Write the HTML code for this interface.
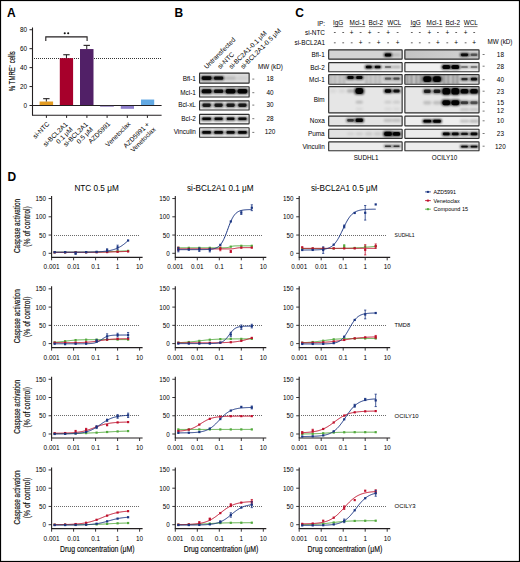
<!DOCTYPE html>
<html><head><meta charset="utf-8"><style>
html,body{margin:0;padding:0;background:#fff;}
svg{display:block;}
text{font-family:"Liberation Sans",sans-serif;}
</style></head><body>
<svg width="520" height="562" viewBox="0 0 520 562">
<defs>
<filter id="b1" x="-50%" y="-100%" width="200%" height="300%"><feGaussianBlur stdDeviation="0.8"/></filter>
<filter id="b3" x="-50%" y="-100%" width="200%" height="300%"><feGaussianBlur stdDeviation="0.45"/></filter>
<filter id="b4" x="-100%" y="-20%" width="300%" height="140%"><feGaussianBlur stdDeviation="0.9 0.3"/></filter>
<linearGradient id="gR1" x1="0" y1="0" x2="1" y2="0"><stop offset="0" stop-color="#c2c2c2"/><stop offset="0.6" stop-color="#cdcdcd"/><stop offset="1" stop-color="#d6d6d6"/></linearGradient>
<filter id="b2" x="-50%" y="-20%" width="200%" height="140%"><feGaussianBlur stdDeviation="1.2"/></filter>
</defs>
<rect x="0" y="0" width="520" height="562" fill="#fff"/>
<text x="7.00" y="16.80" font-size="12" text-anchor="start" font-weight="bold" fill="#000" >A</text>
<text x="174.60" y="16.60" font-size="12" text-anchor="start" font-weight="bold" fill="#000" >B</text>
<text x="295.30" y="16.70" font-size="12" text-anchor="start" font-weight="bold" fill="#000" >C</text>
<text x="7.50" y="180.70" font-size="12" text-anchor="start" font-weight="bold" fill="#000" >D</text>
<line x1="32.50" y1="27.50" x2="32.50" y2="115.30" stroke="#231f20" stroke-width="1.1" />
<line x1="32.00" y1="115.30" x2="161.60" y2="115.30" stroke="#231f20" stroke-width="1.1" />
<line x1="29.50" y1="105.50" x2="32.50" y2="105.50" stroke="#231f20" stroke-width="1" />
<text x="27.00" y="108.10" font-size="6.4" text-anchor="end" >0</text>
<line x1="29.50" y1="86.56" x2="32.50" y2="86.56" stroke="#231f20" stroke-width="1" />
<text x="27.00" y="89.16" font-size="6.4" text-anchor="end" >20</text>
<line x1="29.50" y1="67.62" x2="32.50" y2="67.62" stroke="#231f20" stroke-width="1" />
<text x="27.00" y="70.22" font-size="6.4" text-anchor="end" >40</text>
<line x1="29.50" y1="48.68" x2="32.50" y2="48.68" stroke="#231f20" stroke-width="1" />
<text x="27.00" y="51.28" font-size="6.4" text-anchor="end" >60</text>
<line x1="29.50" y1="29.74" x2="32.50" y2="29.74" stroke="#231f20" stroke-width="1" />
<text x="27.00" y="32.34" font-size="6.4" text-anchor="end" >80</text>
<text x="15.10" y="71.20" font-size="8.6" text-anchor="middle" textLength="40" lengthAdjust="spacingAndGlyphs" transform="rotate(-90 15.10 71.20)" stroke="#231f20" stroke-width="0.15">% TMRE⁻ cells</text>
<line x1="34.00" y1="58.50" x2="162.00" y2="58.50" stroke="#333" stroke-width="1" stroke-dasharray="1 1"/>
<rect x="39.60" y="101.52" width="13.50" height="3.98" fill="#E39B22" />
<line x1="46.35" y1="101.52" x2="46.35" y2="98.68" stroke="#231f20" stroke-width="1" />
<line x1="43.15" y1="98.68" x2="49.55" y2="98.68" stroke="#231f20" stroke-width="1.1" />
<rect x="59.80" y="58.15" width="13.30" height="47.35" fill="#A7002B" />
<line x1="66.45" y1="58.15" x2="66.45" y2="54.74" stroke="#231f20" stroke-width="1" />
<line x1="63.25" y1="54.74" x2="69.65" y2="54.74" stroke="#231f20" stroke-width="1.1" />
<rect x="80.00" y="49.06" width="13.50" height="56.44" fill="#512067" />
<line x1="86.75" y1="49.06" x2="86.75" y2="45.37" stroke="#231f20" stroke-width="1" />
<line x1="83.55" y1="45.37" x2="89.95" y2="45.37" stroke="#231f20" stroke-width="1.1" />
<rect x="100.10" y="105.00" width="13.70" height="1.10" fill="#9C8AC6" />
<rect x="120.80" y="105.50" width="13.20" height="3.31" fill="#8D7DCB" />
<rect x="141.00" y="99.53" width="13.20" height="5.97" fill="#62A9E3" />
<line x1="32.50" y1="105.50" x2="161.60" y2="105.50" stroke="#231f20" stroke-width="1" />
<rect x="100.10" y="105.90" width="13.70" height="0.90" fill="#9C8AC6" />
<line x1="46.40" y1="115.30" x2="46.40" y2="117.90" stroke="#231f20" stroke-width="1" />
<line x1="66.60" y1="115.30" x2="66.60" y2="117.90" stroke="#231f20" stroke-width="1" />
<line x1="86.90" y1="115.30" x2="86.90" y2="117.90" stroke="#231f20" stroke-width="1" />
<line x1="107.10" y1="115.30" x2="107.10" y2="117.90" stroke="#231f20" stroke-width="1" />
<line x1="127.30" y1="115.30" x2="127.30" y2="117.90" stroke="#231f20" stroke-width="1" />
<line x1="147.40" y1="115.30" x2="147.40" y2="117.90" stroke="#231f20" stroke-width="1" />
<path d="M45.8 40.9 V36.9 H87.1 V40.9" fill="none" stroke="#231f20" stroke-width="1.1"/>
<circle cx="64.75" cy="33.3" r="1.05" fill="#111"/><circle cx="68.2" cy="33.3" r="1.05" fill="#111"/>
<text x="50.00" y="124.40" font-size="6.6" text-anchor="end" transform="rotate(-45 50.00 124.40)" >si-NTC</text>
<text x="68.00" y="124.80" font-size="6.6" text-anchor="end" transform="rotate(-45 68.00 124.80)" >si-BCL2A1</text>
<text x="73.20" y="129.80" font-size="6.6" text-anchor="end" transform="rotate(-45 73.20 129.80)" >0.1 μM</text>
<text x="88.30" y="124.80" font-size="6.6" text-anchor="end" transform="rotate(-45 88.30 124.80)" >si-BCL2A1</text>
<text x="93.50" y="129.80" font-size="6.6" text-anchor="end" transform="rotate(-45 93.50 129.80)" >0.5 μM</text>
<text x="110.70" y="124.40" font-size="6.6" text-anchor="end" transform="rotate(-45 110.70 124.40)" >AZD5991</text>
<text x="130.90" y="124.40" font-size="6.6" text-anchor="end" transform="rotate(-45 130.90 124.40)" >Venetoclax</text>
<text x="149.80" y="124.80" font-size="6.6" text-anchor="end" transform="rotate(-45 149.80 124.80)" >AZD5991 +</text>
<text x="156.00" y="129.80" font-size="6.6" text-anchor="end" transform="rotate(-45 156.00 129.80)" >Venetoclax</text>
<rect x="199.00" y="72.50" width="50.70" height="11.20" fill="#dcdcdc" stroke="none"/>
<rect x="200.60" y="75.70" width="12.00" height="4.80" rx="1.92" fill="#000" fill-opacity="0.76" filter="url(#b1)"/>
<rect x="201.80" y="76.30" width="9.60" height="3.60" rx="1.44" fill="#000" fill-opacity="0.90" filter="url(#b3)"/>
<rect x="212.85" y="75.90" width="11.50" height="4.40" rx="1.76" fill="#000" fill-opacity="0.72" filter="url(#b1)"/>
<rect x="214.05" y="76.50" width="9.10" height="3.20" rx="1.28" fill="#000" fill-opacity="0.85" filter="url(#b3)"/>
<rect x="225.10" y="76.20" width="11.00" height="3.80" rx="1.52" fill="#000" fill-opacity="0.14" filter="url(#b1)"/>
<rect x="236.90" y="76.20" width="11.00" height="3.80" rx="1.52" fill="#000" fill-opacity="0.06" filter="url(#b1)"/>
<rect x="199.57" y="73.08" width="49.55" height="10.05" fill="none" stroke="#303030" stroke-width="1.15" rx="0.6"/>
<rect x="199.00" y="86.20" width="50.70" height="11.40" fill="#e6e6e6" stroke="none"/>
<rect x="200.60" y="88.70" width="12.00" height="5.20" rx="2.08" fill="#000" fill-opacity="0.76" filter="url(#b1)"/>
<rect x="201.80" y="89.30" width="9.60" height="4.00" rx="1.60" fill="#000" fill-opacity="0.90" filter="url(#b3)"/>
<rect x="212.85" y="89.00" width="11.50" height="4.60" rx="1.84" fill="#000" fill-opacity="0.70" filter="url(#b1)"/>
<rect x="214.05" y="89.60" width="9.10" height="3.40" rx="1.36" fill="#000" fill-opacity="0.84" filter="url(#b3)"/>
<rect x="224.60" y="88.50" width="12.00" height="5.60" rx="2.24" fill="#000" fill-opacity="0.80" filter="url(#b1)"/>
<rect x="225.80" y="89.10" width="9.60" height="4.40" rx="1.76" fill="#000" fill-opacity="0.95" filter="url(#b3)"/>
<rect x="236.40" y="88.50" width="12.00" height="5.60" rx="2.24" fill="#000" fill-opacity="0.80" filter="url(#b1)"/>
<rect x="237.60" y="89.10" width="9.60" height="4.40" rx="1.76" fill="#000" fill-opacity="0.95" filter="url(#b3)"/>
<rect x="199.57" y="86.78" width="49.55" height="10.25" fill="none" stroke="#303030" stroke-width="1.15" rx="0.6"/>
<rect x="199.00" y="100.30" width="50.70" height="10.30" fill="#ececec" stroke="none"/>
<rect x="201.35" y="102.80" width="10.50" height="4.80" rx="1.92" fill="#000" fill-opacity="0.62" filter="url(#b1)"/>
<rect x="202.55" y="103.40" width="8.10" height="3.60" rx="1.44" fill="#000" fill-opacity="0.74" filter="url(#b3)"/>
<rect x="213.35" y="102.80" width="10.50" height="4.80" rx="1.92" fill="#000" fill-opacity="0.62" filter="url(#b1)"/>
<rect x="214.55" y="103.40" width="8.10" height="3.60" rx="1.44" fill="#000" fill-opacity="0.74" filter="url(#b3)"/>
<rect x="225.35" y="102.80" width="10.50" height="4.80" rx="1.92" fill="#000" fill-opacity="0.62" filter="url(#b1)"/>
<rect x="226.55" y="103.40" width="8.10" height="3.60" rx="1.44" fill="#000" fill-opacity="0.74" filter="url(#b3)"/>
<rect x="237.15" y="102.80" width="10.50" height="4.80" rx="1.92" fill="#000" fill-opacity="0.64" filter="url(#b1)"/>
<rect x="238.35" y="103.40" width="8.10" height="3.60" rx="1.44" fill="#000" fill-opacity="0.76" filter="url(#b3)"/>
<rect x="199.57" y="100.88" width="49.55" height="9.15" fill="none" stroke="#303030" stroke-width="1.15" rx="0.6"/>
<rect x="199.00" y="113.80" width="50.70" height="10.60" fill="#eeeeee" stroke="none"/>
<rect x="201.10" y="116.90" width="11.00" height="3.80" rx="1.52" fill="#000" fill-opacity="0.76" filter="url(#b1)"/>
<rect x="202.30" y="117.50" width="8.60" height="2.60" rx="1.04" fill="#000" fill-opacity="0.90" filter="url(#b3)"/>
<rect x="213.35" y="116.90" width="10.50" height="3.80" rx="1.52" fill="#000" fill-opacity="0.74" filter="url(#b1)"/>
<rect x="214.55" y="117.50" width="8.10" height="2.60" rx="1.04" fill="#000" fill-opacity="0.87" filter="url(#b3)"/>
<rect x="225.60" y="116.90" width="10.00" height="3.80" rx="1.52" fill="#000" fill-opacity="0.72" filter="url(#b1)"/>
<rect x="226.80" y="117.50" width="7.60" height="2.60" rx="1.04" fill="#000" fill-opacity="0.85" filter="url(#b3)"/>
<rect x="237.15" y="116.90" width="10.50" height="3.80" rx="1.52" fill="#000" fill-opacity="0.72" filter="url(#b1)"/>
<rect x="238.35" y="117.50" width="8.10" height="2.60" rx="1.04" fill="#000" fill-opacity="0.85" filter="url(#b3)"/>
<rect x="199.57" y="114.38" width="49.55" height="9.45" fill="none" stroke="#303030" stroke-width="1.15" rx="0.6"/>
<rect x="199.00" y="127.20" width="50.70" height="10.60" fill="#eeeeee" stroke="none"/>
<rect x="201.10" y="130.50" width="11.00" height="3.80" rx="1.52" fill="#000" fill-opacity="0.78" filter="url(#b1)"/>
<rect x="202.30" y="131.10" width="8.60" height="2.60" rx="1.04" fill="#000" fill-opacity="0.92" filter="url(#b3)"/>
<rect x="213.10" y="130.50" width="11.00" height="3.80" rx="1.52" fill="#000" fill-opacity="0.78" filter="url(#b1)"/>
<rect x="214.30" y="131.10" width="8.60" height="2.60" rx="1.04" fill="#000" fill-opacity="0.92" filter="url(#b3)"/>
<rect x="225.35" y="130.50" width="10.50" height="3.80" rx="1.52" fill="#000" fill-opacity="0.74" filter="url(#b1)"/>
<rect x="226.55" y="131.10" width="8.10" height="2.60" rx="1.04" fill="#000" fill-opacity="0.88" filter="url(#b3)"/>
<rect x="236.90" y="130.50" width="11.00" height="3.80" rx="1.52" fill="#000" fill-opacity="0.78" filter="url(#b1)"/>
<rect x="238.10" y="131.10" width="8.60" height="2.60" rx="1.04" fill="#000" fill-opacity="0.92" filter="url(#b3)"/>
<rect x="199.57" y="127.78" width="49.55" height="9.45" fill="none" stroke="#303030" stroke-width="1.15" rx="0.6"/>
<text x="195.90" y="80.60" font-size="6.4" text-anchor="end" >Bfl-1</text>
<text x="195.90" y="94.60" font-size="6.4" text-anchor="end" >Mcl-1</text>
<text x="195.90" y="106.70" font-size="6.4" text-anchor="end" >Bcl-xL</text>
<text x="195.90" y="120.80" font-size="6.4" text-anchor="end" >Bcl-2</text>
<text x="195.90" y="133.70" font-size="6.4" text-anchor="end" >Vinculin</text>
<text x="270.10" y="80.90" font-size="6.4" text-anchor="middle" >18</text>
<line x1="252.30" y1="79.10" x2="254.30" y2="79.10" stroke="#555" stroke-width="0.8" />
<text x="270.10" y="94.50" font-size="6.4" text-anchor="middle" >40</text>
<line x1="252.30" y1="92.70" x2="254.30" y2="92.70" stroke="#555" stroke-width="0.8" />
<text x="270.10" y="106.90" font-size="6.4" text-anchor="middle" >30</text>
<line x1="252.30" y1="105.10" x2="254.30" y2="105.10" stroke="#555" stroke-width="0.8" />
<text x="270.10" y="120.50" font-size="6.4" text-anchor="middle" >28</text>
<line x1="252.30" y1="118.70" x2="254.30" y2="118.70" stroke="#555" stroke-width="0.8" />
<text x="270.10" y="134.20" font-size="6.4" text-anchor="middle" >120</text>
<line x1="252.30" y1="132.40" x2="254.30" y2="132.40" stroke="#555" stroke-width="0.8" />
<text x="258.00" y="69.00" font-size="6.3" text-anchor="start" >MW (kD)</text>
<text x="206.80" y="69.30" font-size="6.6" text-anchor="start" transform="rotate(-45 206.80 69.30)" >Untransfected</text>
<text x="220.20" y="69.30" font-size="6.6" text-anchor="start" transform="rotate(-45 220.20 69.30)" >si-NTC</text>
<text x="231.60" y="69.30" font-size="6.6" text-anchor="start" transform="rotate(-45 231.60 69.30)" >si-BC2A1-0.1 μM</text>
<text x="243.20" y="69.30" font-size="6.6" text-anchor="start" transform="rotate(-45 243.20 69.30)" >si-BCL2A1-0.5 μM</text>
<text x="324.70" y="57.00" font-size="6.4" text-anchor="end" >Bfl-1</text>
<text x="324.70" y="69.60" font-size="6.4" text-anchor="end" >Bcl-2</text>
<text x="324.70" y="82.10" font-size="6.4" text-anchor="end" >Mcl-1</text>
<text x="324.70" y="102.20" font-size="6.4" text-anchor="end" >Bim</text>
<text x="324.70" y="123.00" font-size="6.4" text-anchor="end" >Noxa</text>
<text x="324.70" y="135.80" font-size="6.4" text-anchor="end" >Puma</text>
<text x="324.70" y="149.00" font-size="6.4" text-anchor="end" >Vinculin</text>
<text x="500.40" y="56.80" font-size="6.4" text-anchor="middle" >18</text>
<line x1="482.60" y1="54.50" x2="484.60" y2="54.50" stroke="#555" stroke-width="0.8" />
<text x="500.40" y="68.50" font-size="6.4" text-anchor="middle" >28</text>
<line x1="482.60" y1="66.20" x2="484.60" y2="66.20" stroke="#555" stroke-width="0.8" />
<text x="500.40" y="82.00" font-size="6.4" text-anchor="middle" >40</text>
<line x1="482.60" y1="79.70" x2="484.60" y2="79.70" stroke="#555" stroke-width="0.8" />
<text x="500.40" y="93.50" font-size="6.4" text-anchor="middle" >23</text>
<line x1="482.60" y1="91.20" x2="484.60" y2="91.20" stroke="#555" stroke-width="0.8" />
<text x="500.40" y="104.60" font-size="6.4" text-anchor="middle" >15</text>
<line x1="482.60" y1="102.30" x2="484.60" y2="102.30" stroke="#555" stroke-width="0.8" />
<text x="500.40" y="113.40" font-size="6.4" text-anchor="middle" >12</text>
<line x1="482.60" y1="111.10" x2="484.60" y2="111.10" stroke="#555" stroke-width="0.8" />
<text x="500.40" y="123.10" font-size="6.4" text-anchor="middle" >10</text>
<line x1="482.60" y1="120.80" x2="484.60" y2="120.80" stroke="#555" stroke-width="0.8" />
<text x="500.40" y="135.80" font-size="6.4" text-anchor="middle" >23</text>
<line x1="482.60" y1="133.50" x2="484.60" y2="133.50" stroke="#555" stroke-width="0.8" />
<text x="500.40" y="148.50" font-size="6.4" text-anchor="middle" >120</text>
<line x1="482.60" y1="146.20" x2="484.60" y2="146.20" stroke="#555" stroke-width="0.8" />
<text x="487.60" y="44.00" font-size="6.3" text-anchor="start" >MW (kD)</text>
<text x="325.00" y="25.60" font-size="6.4" text-anchor="end" >IP:</text>
<text x="325.00" y="34.70" font-size="6.4" text-anchor="end" >si-NTC</text>
<text x="325.00" y="45.00" font-size="6.4" text-anchor="end" >si-BCL2A1</text>
<text x="338.15" y="25.40" font-size="6.4" text-anchor="middle" >IgG</text>
<line x1="333.10" y1="26.60" x2="343.20" y2="26.60" stroke="#231f20" stroke-width="0.6" />
<text x="357.40" y="25.40" font-size="6.4" text-anchor="middle" >Mcl-1</text>
<line x1="349.60" y1="26.60" x2="365.20" y2="26.60" stroke="#231f20" stroke-width="0.6" />
<text x="375.90" y="25.40" font-size="6.4" text-anchor="middle" >Bcl-2</text>
<line x1="369.00" y1="26.60" x2="382.80" y2="26.60" stroke="#231f20" stroke-width="0.6" />
<text x="394.25" y="25.40" font-size="6.4" text-anchor="middle" >WCL</text>
<line x1="387.70" y1="26.60" x2="400.80" y2="26.60" stroke="#231f20" stroke-width="0.6" />
<text x="415.60" y="25.40" font-size="6.4" text-anchor="middle" >IgG</text>
<line x1="410.20" y1="26.60" x2="421.00" y2="26.60" stroke="#231f20" stroke-width="0.6" />
<text x="434.40" y="25.40" font-size="6.4" text-anchor="middle" >Mcl-1</text>
<line x1="426.30" y1="26.60" x2="442.50" y2="26.60" stroke="#231f20" stroke-width="0.6" />
<text x="452.70" y="25.40" font-size="6.4" text-anchor="middle" >Bcl-2</text>
<line x1="445.40" y1="26.60" x2="460.00" y2="26.60" stroke="#231f20" stroke-width="0.6" />
<text x="470.75" y="25.40" font-size="6.4" text-anchor="middle" >WCL</text>
<line x1="464.00" y1="26.60" x2="477.50" y2="26.60" stroke="#231f20" stroke-width="0.6" />
<line x1="333.90" y1="32.50" x2="335.70" y2="32.50" stroke="#231f20" stroke-width="0.7" />
<line x1="333.90" y1="42.80" x2="335.70" y2="42.80" stroke="#231f20" stroke-width="0.7" />
<line x1="342.30" y1="32.50" x2="344.10" y2="32.50" stroke="#231f20" stroke-width="0.7" />
<line x1="342.30" y1="42.80" x2="344.10" y2="42.80" stroke="#231f20" stroke-width="0.7" />
<text x="351.70" y="34.70" font-size="6.4" text-anchor="middle" >+</text>
<line x1="350.80" y1="42.80" x2="352.60" y2="42.80" stroke="#231f20" stroke-width="0.7" />
<line x1="359.70" y1="32.50" x2="361.50" y2="32.50" stroke="#231f20" stroke-width="0.7" />
<text x="360.60" y="45.00" font-size="6.4" text-anchor="middle" >+</text>
<text x="369.50" y="34.70" font-size="6.4" text-anchor="middle" >+</text>
<line x1="368.60" y1="42.80" x2="370.40" y2="42.80" stroke="#231f20" stroke-width="0.7" />
<line x1="377.70" y1="32.50" x2="379.50" y2="32.50" stroke="#231f20" stroke-width="0.7" />
<text x="378.60" y="45.00" font-size="6.4" text-anchor="middle" >+</text>
<text x="388.10" y="34.70" font-size="6.4" text-anchor="middle" >+</text>
<line x1="387.20" y1="42.80" x2="389.00" y2="42.80" stroke="#231f20" stroke-width="0.7" />
<line x1="396.70" y1="32.50" x2="398.50" y2="32.50" stroke="#231f20" stroke-width="0.7" />
<text x="397.60" y="45.00" font-size="6.4" text-anchor="middle" >+</text>
<line x1="410.90" y1="32.50" x2="412.70" y2="32.50" stroke="#231f20" stroke-width="0.7" />
<line x1="410.90" y1="42.80" x2="412.70" y2="42.80" stroke="#231f20" stroke-width="0.7" />
<line x1="418.90" y1="32.50" x2="420.70" y2="32.50" stroke="#231f20" stroke-width="0.7" />
<line x1="418.90" y1="42.80" x2="420.70" y2="42.80" stroke="#231f20" stroke-width="0.7" />
<text x="429.30" y="34.70" font-size="6.4" text-anchor="middle" >+</text>
<line x1="428.40" y1="42.80" x2="430.20" y2="42.80" stroke="#231f20" stroke-width="0.7" />
<line x1="437.00" y1="32.50" x2="438.80" y2="32.50" stroke="#231f20" stroke-width="0.7" />
<text x="437.90" y="45.00" font-size="6.4" text-anchor="middle" >+</text>
<text x="447.30" y="34.70" font-size="6.4" text-anchor="middle" >+</text>
<line x1="446.40" y1="42.80" x2="448.20" y2="42.80" stroke="#231f20" stroke-width="0.7" />
<line x1="455.30" y1="32.50" x2="457.10" y2="32.50" stroke="#231f20" stroke-width="0.7" />
<text x="456.20" y="45.00" font-size="6.4" text-anchor="middle" >+</text>
<text x="465.60" y="34.70" font-size="6.4" text-anchor="middle" >+</text>
<line x1="464.70" y1="42.80" x2="466.50" y2="42.80" stroke="#231f20" stroke-width="0.7" />
<line x1="473.30" y1="32.50" x2="475.10" y2="32.50" stroke="#231f20" stroke-width="0.7" />
<text x="474.20" y="45.00" font-size="6.4" text-anchor="middle" >+</text>
<text x="366.10" y="159.50" font-size="6.3" text-anchor="middle" >SUDHL1</text>
<text x="444.50" y="159.80" font-size="6.3" text-anchor="middle" >OCILY10</text>
<rect x="328.10" y="49.30" width="74.60" height="10.40" fill="#d4d4d4" stroke="none"/>
<rect x="383.75" y="52.80" width="8.50" height="4.20" rx="1.68" fill="#000" fill-opacity="0.80" filter="url(#b1)"/>
<rect x="384.95" y="53.40" width="6.10" height="3.00" rx="1.20" fill="#000" fill-opacity="0.95" filter="url(#b3)"/>
<rect x="392.50" y="53.25" width="8.00" height="3.30" rx="1.32" fill="#000" fill-opacity="0.12" filter="url(#b1)"/>
<rect x="328.68" y="49.88" width="73.45" height="9.25" fill="none" stroke="#303030" stroke-width="1.15" rx="0.6"/>
<rect x="328.10" y="62.00" width="74.60" height="10.30" fill="#ececec" stroke="none"/>
<rect x="364.80" y="65.10" width="8.00" height="3.80" rx="1.52" fill="#000" fill-opacity="0.80" filter="url(#b1)"/>
<rect x="366.00" y="65.70" width="5.60" height="2.60" rx="1.04" fill="#000" fill-opacity="0.95" filter="url(#b3)"/>
<rect x="373.60" y="65.20" width="8.00" height="3.60" rx="1.44" fill="#000" fill-opacity="0.76" filter="url(#b1)"/>
<rect x="374.80" y="65.80" width="5.60" height="2.40" rx="0.96" fill="#000" fill-opacity="0.90" filter="url(#b3)"/>
<rect x="383.75" y="65.40" width="8.50" height="3.20" rx="1.28" fill="#000" fill-opacity="0.30" filter="url(#b1)"/>
<rect x="384.95" y="66.00" width="6.10" height="2.00" rx="0.80" fill="#000" fill-opacity="0.36" filter="url(#b3)"/>
<rect x="392.25" y="65.40" width="8.50" height="3.20" rx="1.28" fill="#000" fill-opacity="0.24" filter="url(#b1)"/>
<rect x="328.68" y="62.58" width="73.45" height="9.15" fill="none" stroke="#303030" stroke-width="1.15" rx="0.6"/>
<rect x="328.10" y="74.10" width="74.60" height="10.70" fill="#d6d6d6" stroke="none"/>
<rect x="329.40" y="75.10" width="2.8" height="8.70" fill="#000" fill-opacity="0.14" filter="url(#b4)"/>
<rect x="333.60" y="75.10" width="2.8" height="8.70" fill="#000" fill-opacity="0.14" filter="url(#b4)"/>
<rect x="338.40" y="75.10" width="2.8" height="8.70" fill="#000" fill-opacity="0.14" filter="url(#b4)"/>
<rect x="342.60" y="75.10" width="2.8" height="8.70" fill="#000" fill-opacity="0.14" filter="url(#b4)"/>
<rect x="365.20" y="75.10" width="2.8" height="8.70" fill="#000" fill-opacity="0.14" filter="url(#b4)"/>
<rect x="369.40" y="75.10" width="2.8" height="8.70" fill="#000" fill-opacity="0.14" filter="url(#b4)"/>
<rect x="374.00" y="75.10" width="2.8" height="8.70" fill="#000" fill-opacity="0.14" filter="url(#b4)"/>
<rect x="378.20" y="75.10" width="2.8" height="8.70" fill="#000" fill-opacity="0.14" filter="url(#b4)"/>
<rect x="346.25" y="75.40" width="8.50" height="4.20" rx="1.68" fill="#000" fill-opacity="0.80" filter="url(#b1)"/>
<rect x="347.45" y="76.00" width="6.10" height="3.00" rx="1.20" fill="#000" fill-opacity="0.95" filter="url(#b3)"/>
<rect x="355.05" y="75.40" width="8.50" height="4.20" rx="1.68" fill="#000" fill-opacity="0.80" filter="url(#b1)"/>
<rect x="356.25" y="76.00" width="6.10" height="3.00" rx="1.20" fill="#000" fill-opacity="0.95" filter="url(#b3)"/>
<rect x="383.75" y="76.90" width="8.50" height="3.40" rx="1.36" fill="#000" fill-opacity="0.34" filter="url(#b1)"/>
<rect x="384.95" y="77.50" width="6.10" height="2.20" rx="0.88" fill="#000" fill-opacity="0.40" filter="url(#b3)"/>
<rect x="392.25" y="76.90" width="8.50" height="3.40" rx="1.36" fill="#000" fill-opacity="0.38" filter="url(#b1)"/>
<rect x="393.45" y="77.50" width="6.10" height="2.20" rx="0.88" fill="#000" fill-opacity="0.46" filter="url(#b3)"/>
<rect x="328.68" y="74.67" width="73.45" height="9.55" fill="none" stroke="#303030" stroke-width="1.15" rx="0.6"/>
<rect x="328.10" y="86.10" width="74.60" height="27.30" fill="#e6e6e6" stroke="none"/>
<rect x="354.30" y="87.40" width="10.00" height="7.20" rx="2.88" fill="#000" fill-opacity="0.80" filter="url(#b1)"/>
<rect x="355.50" y="88.00" width="7.60" height="6.00" rx="2.40" fill="#000" fill-opacity="0.95" filter="url(#b3)"/>
<rect x="347.00" y="89.35" width="7.00" height="3.30" rx="1.32" fill="#000" fill-opacity="0.24" filter="url(#b1)"/>
<rect x="383.75" y="88.70" width="8.50" height="4.60" rx="1.84" fill="#000" fill-opacity="0.80" filter="url(#b1)"/>
<rect x="384.95" y="89.30" width="6.10" height="3.40" rx="1.36" fill="#000" fill-opacity="0.95" filter="url(#b3)"/>
<rect x="392.25" y="89.00" width="8.50" height="4.00" rx="1.60" fill="#000" fill-opacity="0.68" filter="url(#b1)"/>
<rect x="393.45" y="89.60" width="6.10" height="2.80" rx="1.12" fill="#000" fill-opacity="0.81" filter="url(#b3)"/>
<rect x="329.50" y="89.10" width="7.00" height="3.80" rx="1.52" fill="#000" fill-opacity="0.05" filter="url(#b1)"/>
<rect x="338.50" y="89.10" width="7.00" height="3.80" rx="1.52" fill="#000" fill-opacity="0.06" filter="url(#b1)"/>
<rect x="355.80" y="100.80" width="7.00" height="2.80" rx="1.12" fill="#000" fill-opacity="0.20" filter="url(#b1)"/>
<rect x="384.50" y="100.80" width="7.00" height="2.80" rx="1.12" fill="#000" fill-opacity="0.12" filter="url(#b1)"/>
<rect x="393.00" y="100.80" width="7.00" height="2.80" rx="1.12" fill="#000" fill-opacity="0.12" filter="url(#b1)"/>
<rect x="384.50" y="107.60" width="7.00" height="2.80" rx="1.12" fill="#000" fill-opacity="0.06" filter="url(#b1)"/>
<rect x="393.00" y="107.60" width="7.00" height="2.80" rx="1.12" fill="#000" fill-opacity="0.06" filter="url(#b1)"/>
<rect x="355.80" y="107.60" width="7.00" height="2.80" rx="1.12" fill="#000" fill-opacity="0.06" filter="url(#b1)"/>
<rect x="328.68" y="86.67" width="73.45" height="26.15" fill="none" stroke="#303030" stroke-width="1.15" rx="0.6"/>
<rect x="328.10" y="115.50" width="74.60" height="10.90" fill="#e4e4e4" stroke="none"/>
<rect x="346.00" y="118.30" width="9.00" height="4.00" rx="1.60" fill="#000" fill-opacity="0.50" filter="url(#b1)"/>
<rect x="347.20" y="118.90" width="6.60" height="2.80" rx="1.12" fill="#000" fill-opacity="0.59" filter="url(#b3)"/>
<rect x="354.55" y="118.00" width="9.50" height="4.60" rx="1.84" fill="#000" fill-opacity="0.80" filter="url(#b1)"/>
<rect x="355.75" y="118.60" width="7.10" height="3.40" rx="1.36" fill="#000" fill-opacity="0.95" filter="url(#b3)"/>
<rect x="383.75" y="118.65" width="8.50" height="3.30" rx="1.32" fill="#000" fill-opacity="0.16" filter="url(#b1)"/>
<rect x="392.25" y="118.65" width="8.50" height="3.30" rx="1.32" fill="#000" fill-opacity="0.16" filter="url(#b1)"/>
<rect x="328.68" y="116.08" width="73.45" height="9.75" fill="none" stroke="#303030" stroke-width="1.15" rx="0.6"/>
<rect x="328.10" y="128.70" width="74.60" height="10.30" fill="#e2e2e2" stroke="none"/>
<rect x="383.00" y="131.10" width="10.00" height="5.60" rx="2.24" fill="#000" fill-opacity="0.80" filter="url(#b1)"/>
<rect x="384.20" y="131.70" width="7.60" height="4.40" rx="1.76" fill="#000" fill-opacity="0.95" filter="url(#b3)"/>
<rect x="391.75" y="131.40" width="9.50" height="5.00" rx="2.00" fill="#000" fill-opacity="0.80" filter="url(#b1)"/>
<rect x="392.95" y="132.00" width="7.10" height="3.80" rx="1.52" fill="#000" fill-opacity="0.95" filter="url(#b3)"/>
<rect x="347.00" y="132.50" width="7.00" height="2.80" rx="1.12" fill="#000" fill-opacity="0.08" filter="url(#b1)"/>
<rect x="355.80" y="132.50" width="7.00" height="2.80" rx="1.12" fill="#000" fill-opacity="0.10" filter="url(#b1)"/>
<rect x="365.30" y="132.00" width="7.00" height="3.80" rx="1.52" fill="#000" fill-opacity="0.10" filter="url(#b1)"/>
<rect x="374.10" y="132.00" width="7.00" height="3.80" rx="1.52" fill="#000" fill-opacity="0.10" filter="url(#b1)"/>
<rect x="328.68" y="129.27" width="73.45" height="9.15" fill="none" stroke="#303030" stroke-width="1.15" rx="0.6"/>
<rect x="328.10" y="141.30" width="74.60" height="10.00" fill="#ececec" stroke="none"/>
<rect x="383.75" y="144.80" width="8.50" height="2.80" rx="1.12" fill="#000" fill-opacity="0.52" filter="url(#b1)"/>
<rect x="384.95" y="145.40" width="6.10" height="1.60" rx="0.64" fill="#000" fill-opacity="0.62" filter="url(#b3)"/>
<rect x="392.25" y="144.80" width="8.50" height="2.80" rx="1.12" fill="#000" fill-opacity="0.52" filter="url(#b1)"/>
<rect x="393.45" y="145.40" width="6.10" height="1.60" rx="0.64" fill="#000" fill-opacity="0.62" filter="url(#b3)"/>
<rect x="328.68" y="141.88" width="73.45" height="8.85" fill="none" stroke="#303030" stroke-width="1.15" rx="0.6"/>
<rect x="404.30" y="49.30" width="75.30" height="10.40" fill="url(#gR1)" stroke="none"/>
<rect x="459.75" y="52.80" width="9.50" height="4.00" rx="1.60" fill="#000" fill-opacity="0.72" filter="url(#b1)"/>
<rect x="460.95" y="53.40" width="7.10" height="2.80" rx="1.12" fill="#000" fill-opacity="0.85" filter="url(#b3)"/>
<rect x="469.50" y="52.90" width="9.00" height="3.80" rx="1.52" fill="#000" fill-opacity="0.36" filter="url(#b1)"/>
<rect x="470.70" y="53.50" width="6.60" height="2.60" rx="1.04" fill="#000" fill-opacity="0.43" filter="url(#b3)"/>
<rect x="404.88" y="49.88" width="74.15" height="9.25" fill="none" stroke="#303030" stroke-width="1.15" rx="0.6"/>
<rect x="404.30" y="62.00" width="75.30" height="10.30" fill="#f0f0f0" stroke="none"/>
<rect x="441.40" y="64.50" width="9.80" height="5.00" rx="2.00" fill="#000" fill-opacity="0.80" filter="url(#b1)"/>
<rect x="442.60" y="65.10" width="7.40" height="3.80" rx="1.52" fill="#000" fill-opacity="0.95" filter="url(#b3)"/>
<rect x="450.40" y="64.50" width="9.80" height="5.00" rx="2.00" fill="#000" fill-opacity="0.80" filter="url(#b1)"/>
<rect x="451.60" y="65.10" width="7.40" height="3.80" rx="1.52" fill="#000" fill-opacity="0.95" filter="url(#b3)"/>
<rect x="460.00" y="65.30" width="9.00" height="3.40" rx="1.36" fill="#000" fill-opacity="0.28" filter="url(#b1)"/>
<rect x="461.20" y="65.90" width="6.60" height="2.20" rx="0.88" fill="#000" fill-opacity="0.33" filter="url(#b3)"/>
<rect x="469.50" y="65.30" width="9.00" height="3.40" rx="1.36" fill="#000" fill-opacity="0.28" filter="url(#b1)"/>
<rect x="470.70" y="65.90" width="6.60" height="2.20" rx="0.88" fill="#000" fill-opacity="0.33" filter="url(#b3)"/>
<rect x="404.88" y="62.58" width="74.15" height="9.15" fill="none" stroke="#303030" stroke-width="1.15" rx="0.6"/>
<rect x="404.30" y="74.10" width="75.30" height="10.70" fill="#dadada" stroke="none"/>
<rect x="405.90" y="75.10" width="2.8" height="8.70" fill="#000" fill-opacity="0.32" filter="url(#b4)"/>
<rect x="410.10" y="75.10" width="2.8" height="8.70" fill="#000" fill-opacity="0.32" filter="url(#b4)"/>
<rect x="414.90" y="75.10" width="2.8" height="8.70" fill="#000" fill-opacity="0.32" filter="url(#b4)"/>
<rect x="419.10" y="75.10" width="2.8" height="8.70" fill="#000" fill-opacity="0.32" filter="url(#b4)"/>
<rect x="442.70" y="75.10" width="2.8" height="8.70" fill="#000" fill-opacity="0.32" filter="url(#b4)"/>
<rect x="446.90" y="75.10" width="2.8" height="8.70" fill="#000" fill-opacity="0.32" filter="url(#b4)"/>
<rect x="451.70" y="75.10" width="2.8" height="8.70" fill="#000" fill-opacity="0.32" filter="url(#b4)"/>
<rect x="455.90" y="75.10" width="2.8" height="8.70" fill="#000" fill-opacity="0.32" filter="url(#b4)"/>
<rect x="422.20" y="75.60" width="10.20" height="7.00" rx="2.80" fill="#000" fill-opacity="0.80" filter="url(#b1)"/>
<rect x="423.40" y="76.20" width="7.80" height="5.80" rx="2.32" fill="#000" fill-opacity="0.95" filter="url(#b3)"/>
<rect x="431.90" y="75.60" width="10.20" height="7.00" rx="2.80" fill="#000" fill-opacity="0.80" filter="url(#b1)"/>
<rect x="433.10" y="76.20" width="7.80" height="5.80" rx="2.32" fill="#000" fill-opacity="0.95" filter="url(#b3)"/>
<rect x="460.25" y="77.30" width="8.50" height="3.60" rx="1.44" fill="#000" fill-opacity="0.52" filter="url(#b1)"/>
<rect x="461.45" y="77.90" width="6.10" height="2.40" rx="0.96" fill="#000" fill-opacity="0.62" filter="url(#b3)"/>
<rect x="469.75" y="77.10" width="8.50" height="4.00" rx="1.60" fill="#000" fill-opacity="0.68" filter="url(#b1)"/>
<rect x="470.95" y="77.70" width="6.10" height="2.80" rx="1.12" fill="#000" fill-opacity="0.81" filter="url(#b3)"/>
<rect x="404.88" y="74.67" width="74.15" height="9.55" fill="none" stroke="#303030" stroke-width="1.15" rx="0.6"/>
<rect x="404.30" y="86.10" width="75.30" height="27.30" fill="#e6e6e6" stroke="none"/>
<rect x="422.80" y="88.90" width="9.00" height="4.80" rx="1.92" fill="#000" fill-opacity="0.60" filter="url(#b1)"/>
<rect x="424.00" y="89.50" width="6.60" height="3.60" rx="1.44" fill="#000" fill-opacity="0.71" filter="url(#b3)"/>
<rect x="432.50" y="88.90" width="9.00" height="4.80" rx="1.92" fill="#000" fill-opacity="0.62" filter="url(#b1)"/>
<rect x="433.70" y="89.50" width="6.60" height="3.60" rx="1.44" fill="#000" fill-opacity="0.74" filter="url(#b3)"/>
<rect x="441.30" y="87.40" width="10.00" height="7.80" rx="3.12" fill="#000" fill-opacity="0.80" filter="url(#b1)"/>
<rect x="442.50" y="88.00" width="7.60" height="6.60" rx="2.64" fill="#000" fill-opacity="0.95" filter="url(#b3)"/>
<rect x="450.30" y="87.40" width="10.00" height="7.80" rx="3.12" fill="#000" fill-opacity="0.80" filter="url(#b1)"/>
<rect x="451.50" y="88.00" width="7.60" height="6.60" rx="2.64" fill="#000" fill-opacity="0.95" filter="url(#b3)"/>
<rect x="459.60" y="88.40" width="9.80" height="5.80" rx="2.32" fill="#000" fill-opacity="0.80" filter="url(#b1)"/>
<rect x="460.80" y="89.00" width="7.40" height="4.60" rx="1.84" fill="#000" fill-opacity="0.95" filter="url(#b3)"/>
<rect x="469.10" y="88.40" width="9.80" height="5.80" rx="2.32" fill="#000" fill-opacity="0.80" filter="url(#b1)"/>
<rect x="470.30" y="89.00" width="7.40" height="4.60" rx="1.84" fill="#000" fill-opacity="0.95" filter="url(#b3)"/>
<rect x="423.30" y="100.90" width="8.00" height="3.60" rx="1.44" fill="#000" fill-opacity="0.18" filter="url(#b1)"/>
<rect x="433.00" y="100.90" width="8.00" height="3.60" rx="1.44" fill="#000" fill-opacity="0.18" filter="url(#b1)"/>
<rect x="441.30" y="99.60" width="10.00" height="6.20" rx="2.48" fill="#000" fill-opacity="0.80" filter="url(#b1)"/>
<rect x="442.50" y="100.20" width="7.60" height="5.00" rx="2.00" fill="#000" fill-opacity="0.95" filter="url(#b3)"/>
<rect x="450.30" y="99.60" width="10.00" height="6.20" rx="2.48" fill="#000" fill-opacity="0.80" filter="url(#b1)"/>
<rect x="451.50" y="100.20" width="7.60" height="5.00" rx="2.00" fill="#000" fill-opacity="0.95" filter="url(#b3)"/>
<rect x="459.75" y="100.60" width="9.50" height="4.20" rx="1.68" fill="#000" fill-opacity="0.48" filter="url(#b1)"/>
<rect x="460.95" y="101.20" width="7.10" height="3.00" rx="1.20" fill="#000" fill-opacity="0.57" filter="url(#b3)"/>
<rect x="469.25" y="100.60" width="9.50" height="4.20" rx="1.68" fill="#000" fill-opacity="0.40" filter="url(#b1)"/>
<rect x="470.45" y="101.20" width="7.10" height="3.00" rx="1.20" fill="#000" fill-opacity="0.47" filter="url(#b3)"/>
<rect x="460.00" y="108.10" width="9.00" height="3.00" rx="1.20" fill="#000" fill-opacity="0.14" filter="url(#b1)"/>
<rect x="469.50" y="108.10" width="9.00" height="3.00" rx="1.20" fill="#000" fill-opacity="0.14" filter="url(#b1)"/>
<rect x="404.88" y="86.67" width="74.15" height="26.15" fill="none" stroke="#303030" stroke-width="1.15" rx="0.6"/>
<rect x="404.30" y="115.50" width="75.30" height="10.90" fill="#eeeeee" stroke="none"/>
<rect x="422.30" y="119.20" width="10.00" height="4.00" rx="1.60" fill="#000" fill-opacity="0.80" filter="url(#b1)"/>
<rect x="423.50" y="119.80" width="7.60" height="2.80" rx="1.12" fill="#000" fill-opacity="0.95" filter="url(#b3)"/>
<rect x="432.00" y="119.10" width="10.00" height="4.20" rx="1.68" fill="#000" fill-opacity="0.80" filter="url(#b1)"/>
<rect x="433.20" y="119.70" width="7.60" height="3.00" rx="1.20" fill="#000" fill-opacity="0.95" filter="url(#b3)"/>
<rect x="460.00" y="119.55" width="9.00" height="3.30" rx="1.32" fill="#000" fill-opacity="0.18" filter="url(#b1)"/>
<rect x="469.50" y="119.55" width="9.00" height="3.30" rx="1.32" fill="#000" fill-opacity="0.22" filter="url(#b1)"/>
<rect x="404.88" y="116.08" width="74.15" height="9.75" fill="none" stroke="#303030" stroke-width="1.15" rx="0.6"/>
<rect x="404.30" y="128.70" width="75.30" height="10.30" fill="#ececec" stroke="none"/>
<rect x="441.80" y="131.90" width="9.00" height="4.00" rx="1.60" fill="#000" fill-opacity="0.78" filter="url(#b1)"/>
<rect x="443.00" y="132.50" width="6.60" height="2.80" rx="1.12" fill="#000" fill-opacity="0.92" filter="url(#b3)"/>
<rect x="450.80" y="131.90" width="9.00" height="4.00" rx="1.60" fill="#000" fill-opacity="0.74" filter="url(#b1)"/>
<rect x="452.00" y="132.50" width="6.60" height="2.80" rx="1.12" fill="#000" fill-opacity="0.88" filter="url(#b3)"/>
<rect x="460.00" y="132.10" width="9.00" height="3.60" rx="1.44" fill="#000" fill-opacity="0.64" filter="url(#b1)"/>
<rect x="461.20" y="132.70" width="6.60" height="2.40" rx="0.96" fill="#000" fill-opacity="0.76" filter="url(#b3)"/>
<rect x="469.50" y="131.90" width="9.00" height="4.00" rx="1.60" fill="#000" fill-opacity="0.74" filter="url(#b1)"/>
<rect x="470.70" y="132.50" width="6.60" height="2.80" rx="1.12" fill="#000" fill-opacity="0.88" filter="url(#b3)"/>
<rect x="404.88" y="129.27" width="74.15" height="9.15" fill="none" stroke="#303030" stroke-width="1.15" rx="0.6"/>
<rect x="404.30" y="141.30" width="75.30" height="10.00" fill="#ececec" stroke="none"/>
<rect x="460.00" y="145.10" width="9.00" height="3.00" rx="1.20" fill="#000" fill-opacity="0.72" filter="url(#b1)"/>
<rect x="461.20" y="145.70" width="6.60" height="1.80" rx="0.72" fill="#000" fill-opacity="0.85" filter="url(#b3)"/>
<rect x="469.50" y="145.10" width="9.00" height="3.00" rx="1.20" fill="#000" fill-opacity="0.72" filter="url(#b1)"/>
<rect x="470.70" y="145.70" width="6.60" height="1.80" rx="0.72" fill="#000" fill-opacity="0.85" filter="url(#b3)"/>
<rect x="404.88" y="141.88" width="74.15" height="8.85" fill="none" stroke="#303030" stroke-width="1.15" rx="0.6"/>
<line x1="51.60" y1="196.00" x2="51.60" y2="257.30" stroke="#231f20" stroke-width="1.1" />
<line x1="51.10" y1="257.30" x2="142.60" y2="257.30" stroke="#231f20" stroke-width="1.2" />
<line x1="48.60" y1="253.30" x2="51.60" y2="253.30" stroke="#231f20" stroke-width="0.9" />
<text x="46.00" y="255.80" font-size="6.3" text-anchor="end" >0</text>
<line x1="48.60" y1="235.05" x2="51.60" y2="235.05" stroke="#231f20" stroke-width="0.9" />
<text x="46.00" y="237.55" font-size="6.3" text-anchor="end" >50</text>
<line x1="48.60" y1="216.80" x2="51.60" y2="216.80" stroke="#231f20" stroke-width="0.9" />
<text x="46.00" y="219.30" font-size="6.3" text-anchor="end" >100</text>
<line x1="48.60" y1="198.55" x2="51.60" y2="198.55" stroke="#231f20" stroke-width="0.9" />
<text x="46.00" y="201.05" font-size="6.3" text-anchor="end" >150</text>
<line x1="51.60" y1="257.30" x2="51.60" y2="260.30" stroke="#231f20" stroke-width="0.9" />
<text x="51.60" y="269.30" font-size="6.4" text-anchor="middle" >0.001</text>
<line x1="73.60" y1="257.30" x2="73.60" y2="260.30" stroke="#231f20" stroke-width="0.9" />
<text x="73.60" y="269.30" font-size="6.4" text-anchor="middle" >0.01</text>
<line x1="95.60" y1="257.30" x2="95.60" y2="260.30" stroke="#231f20" stroke-width="0.9" />
<text x="95.60" y="269.30" font-size="6.4" text-anchor="middle" >0.1</text>
<line x1="117.60" y1="257.30" x2="117.60" y2="260.30" stroke="#231f20" stroke-width="0.9" />
<text x="117.60" y="269.30" font-size="6.4" text-anchor="middle" >1</text>
<line x1="139.60" y1="257.30" x2="139.60" y2="260.30" stroke="#231f20" stroke-width="0.9" />
<text x="139.60" y="269.30" font-size="6.4" text-anchor="middle" >10</text>
<line x1="54.00" y1="235.50" x2="140.00" y2="235.50" stroke="#5a5a5a" stroke-width="0.9" stroke-dasharray="1 1"/>
<text x="20.00" y="226.00" font-size="9.8" text-anchor="middle" textLength="54" lengthAdjust="spacingAndGlyphs" transform="rotate(-90 20.00 226.00)" stroke="#231f20" stroke-width="0.18">Caspase activation</text>
<text x="30.10" y="226.50" font-size="9.6" text-anchor="middle" textLength="40.5" lengthAdjust="spacingAndGlyphs" transform="rotate(-90 30.10 226.50)" stroke="#231f20" stroke-width="0.18">(% of control)</text>
<text x="96.60" y="190.80" font-size="8.2" text-anchor="middle" >NTC 0.5 μM</text>
<polyline points="54.61,252.20 55.23,252.20 55.84,252.20 56.45,252.20 57.06,252.20 57.68,252.20 58.29,252.20 58.90,252.20 59.51,252.20 60.13,252.20 60.74,252.20 61.35,252.20 61.96,252.20 62.57,252.20 63.19,252.20 63.80,252.20 64.41,252.20 65.02,252.20 65.64,252.20 66.25,252.20 66.86,252.20 67.47,252.20 68.09,252.19 68.70,252.19 69.31,252.19 69.92,252.19 70.53,252.19 71.15,252.19 71.76,252.19 72.37,252.19 72.98,252.19 73.60,252.19 74.21,252.19 74.82,252.18 75.43,252.18 76.05,252.18 76.66,252.18 77.27,252.18 77.88,252.18 78.50,252.18 79.11,252.17 79.72,252.17 80.33,252.17 80.94,252.17 81.56,252.16 82.17,252.16 82.78,252.16 83.39,252.16 84.01,252.15 84.62,252.15 85.23,252.15 85.84,252.14 86.46,252.14 87.07,252.13 87.68,252.13 88.29,252.12 88.90,252.12 89.52,252.11 90.13,252.11 90.74,252.10 91.35,252.10 91.97,252.09 92.58,252.08 93.19,252.07 93.80,252.07 94.42,252.06 95.03,252.05 95.64,252.04 96.25,252.03 96.87,252.02 97.48,252.01 98.09,252.00 98.70,251.98 99.31,251.97 99.93,251.96 100.54,251.94 101.15,251.93 101.76,251.91 102.38,251.90 102.99,251.88 103.60,251.86 104.21,251.84 104.83,251.83 105.44,251.81 106.05,251.79 106.66,251.76 107.27,251.74 107.89,251.72 108.50,251.70 109.11,251.67 109.72,251.65 110.34,251.62 110.95,251.60 111.56,251.57 112.17,251.54 112.79,251.52 113.40,251.49 114.01,251.46 114.62,251.43 115.23,251.40 115.85,251.38 116.46,251.35 117.07,251.32 117.68,251.29 118.30,251.26 118.91,251.23 119.52,251.20 120.13,251.17 120.75,251.14 121.36,251.12 121.97,251.09 122.58,251.06 123.20,251.03 123.81,251.01 124.42,250.98 125.03,250.95 125.64,250.93 126.26,250.91 126.87,250.88 127.48,250.86 128.09,250.84" fill="none" stroke="#52aa3c" stroke-width="1"/>
<rect x="127.00" y="249.74" width="2.2" height="2.2" fill="#52aa3c"/>
<rect x="116.50" y="250.19" width="2.2" height="2.2" fill="#52aa3c"/>
<rect x="106.00" y="250.65" width="2.2" height="2.2" fill="#52aa3c"/>
<rect x="95.51" y="250.92" width="2.2" height="2.2" fill="#52aa3c"/>
<rect x="85.01" y="251.04" width="2.2" height="2.2" fill="#52aa3c"/>
<rect x="74.51" y="251.08" width="2.2" height="2.2" fill="#52aa3c"/>
<rect x="64.02" y="251.10" width="2.2" height="2.2" fill="#52aa3c"/>
<rect x="53.52" y="251.10" width="2.2" height="2.2" fill="#52aa3c"/>
<polyline points="54.61,252.39 55.23,252.39 55.84,252.39 56.45,252.39 57.06,252.39 57.68,252.39 58.29,252.38 58.90,252.38 59.51,252.38 60.13,252.38 60.74,252.38 61.35,252.38 61.96,252.38 62.57,252.38 63.19,252.38 63.80,252.38 64.41,252.38 65.02,252.38 65.64,252.38 66.25,252.38 66.86,252.38 67.47,252.38 68.09,252.38 68.70,252.38 69.31,252.38 69.92,252.38 70.53,252.38 71.15,252.38 71.76,252.38 72.37,252.38 72.98,252.38 73.60,252.37 74.21,252.37 74.82,252.37 75.43,252.37 76.05,252.37 76.66,252.37 77.27,252.37 77.88,252.37 78.50,252.37 79.11,252.37 79.72,252.36 80.33,252.36 80.94,252.36 81.56,252.36 82.17,252.36 82.78,252.35 83.39,252.35 84.01,252.35 84.62,252.35 85.23,252.35 85.84,252.34 86.46,252.34 87.07,252.34 87.68,252.33 88.29,252.33 88.90,252.33 89.52,252.32 90.13,252.32 90.74,252.32 91.35,252.31 91.97,252.31 92.58,252.30 93.19,252.30 93.80,252.29 94.42,252.28 95.03,252.28 95.64,252.27 96.25,252.26 96.87,252.26 97.48,252.25 98.09,252.24 98.70,252.23 99.31,252.22 99.93,252.21 100.54,252.20 101.15,252.19 101.76,252.18 102.38,252.17 102.99,252.16 103.60,252.15 104.21,252.14 104.83,252.12 105.44,252.11 106.05,252.09 106.66,252.08 107.27,252.06 107.89,252.05 108.50,252.03 109.11,252.02 109.72,252.00 110.34,251.98 110.95,251.96 111.56,251.94 112.17,251.93 112.79,251.91 113.40,251.89 114.01,251.87 114.62,251.85 115.23,251.83 115.85,251.81 116.46,251.79 117.07,251.77 117.68,251.75 118.30,251.73 118.91,251.71 119.52,251.68 120.13,251.66 120.75,251.64 121.36,251.62 121.97,251.61 122.58,251.59 123.20,251.57 123.81,251.55 124.42,251.53 125.03,251.51 125.64,251.49 126.26,251.48 126.87,251.46 127.48,251.45 128.09,251.43" fill="none" stroke="#c0102c" stroke-width="1"/>
<rect x="127.00" y="250.33" width="2.2" height="2.2" fill="#c0102c"/>
<rect x="116.50" y="250.65" width="2.2" height="2.2" fill="#c0102c"/>
<rect x="106.00" y="250.97" width="2.2" height="2.2" fill="#c0102c"/>
<rect x="95.51" y="251.16" width="2.2" height="2.2" fill="#c0102c"/>
<rect x="85.01" y="251.24" width="2.2" height="2.2" fill="#c0102c"/>
<rect x="74.51" y="251.27" width="2.2" height="2.2" fill="#c0102c"/>
<rect x="64.02" y="251.28" width="2.2" height="2.2" fill="#c0102c"/>
<rect x="53.52" y="251.29" width="2.2" height="2.2" fill="#c0102c"/>
<polyline points="54.61,252.20 55.23,252.20 55.84,252.20 56.45,252.20 57.06,252.20 57.68,252.20 58.29,252.20 58.90,252.20 59.51,252.20 60.13,252.20 60.74,252.20 61.35,252.20 61.96,252.20 62.57,252.20 63.19,252.20 63.80,252.20 64.41,252.20 65.02,252.20 65.64,252.20 66.25,252.20 66.86,252.20 67.47,252.20 68.09,252.20 68.70,252.19 69.31,252.19 69.92,252.19 70.53,252.19 71.15,252.19 71.76,252.19 72.37,252.19 72.98,252.19 73.60,252.19 74.21,252.18 74.82,252.18 75.43,252.18 76.05,252.18 76.66,252.18 77.27,252.18 77.88,252.17 78.50,252.17 79.11,252.17 79.72,252.16 80.33,252.16 80.94,252.16 81.56,252.15 82.17,252.15 82.78,252.15 83.39,252.14 84.01,252.14 84.62,252.13 85.23,252.13 85.84,252.12 86.46,252.11 87.07,252.10 87.68,252.10 88.29,252.09 88.90,252.08 89.52,252.07 90.13,252.06 90.74,252.05 91.35,252.03 91.97,252.02 92.58,252.00 93.19,251.99 93.80,251.97 94.42,251.95 95.03,251.93 95.64,251.91 96.25,251.89 96.87,251.86 97.48,251.84 98.09,251.81 98.70,251.78 99.31,251.74 99.93,251.70 100.54,251.67 101.15,251.62 101.76,251.58 102.38,251.53 102.99,251.47 103.60,251.42 104.21,251.36 104.83,251.29 105.44,251.22 106.05,251.14 106.66,251.06 107.27,250.97 107.89,250.88 108.50,250.78 109.11,250.67 109.72,250.55 110.34,250.42 110.95,250.29 111.56,250.14 112.17,249.99 112.79,249.82 113.40,249.65 114.01,249.46 114.62,249.26 115.23,249.04 115.85,248.82 116.46,248.57 117.07,248.31 117.68,248.04 118.30,247.75 118.91,247.44 119.52,247.11 120.13,246.77 120.75,246.41 121.36,246.02 121.97,245.62 122.58,245.20 123.20,244.76 123.81,244.29 124.42,243.81 125.03,243.31 125.64,242.79 126.26,242.25 126.87,241.69 127.48,241.11 128.09,240.51" fill="none" stroke="#1a3582" stroke-width="1"/>
<rect x="127.00" y="239.41" width="2.2" height="2.2" fill="#1a3582"/>
<path d="M117.60 245.16V249.54M116.50 245.16h2.2M116.50 249.54h2.2" stroke="#1a3582" stroke-width="0.8" fill="none"/>
<rect x="116.50" y="246.25" width="2.2" height="2.2" fill="#1a3582"/>
<path d="M107.10 248.81V251.73M106.00 248.81h2.2M106.00 251.73h2.2" stroke="#1a3582" stroke-width="0.8" fill="none"/>
<rect x="106.00" y="249.17" width="2.2" height="2.2" fill="#1a3582"/>
<rect x="95.51" y="250.77" width="2.2" height="2.2" fill="#1a3582"/>
<rect x="85.01" y="251.02" width="2.2" height="2.2" fill="#1a3582"/>
<path d="M75.61 252.18V254.37M74.51 252.18h2.2M74.51 254.37h2.2" stroke="#1a3582" stroke-width="0.8" fill="none"/>
<rect x="74.51" y="252.18" width="2.2" height="2.2" fill="#1a3582"/>
<rect x="64.02" y="251.10" width="2.2" height="2.2" fill="#1a3582"/>
<rect x="53.52" y="251.10" width="2.2" height="2.2" fill="#1a3582"/>
<line x1="175.30" y1="196.00" x2="175.30" y2="257.30" stroke="#231f20" stroke-width="1.1" />
<line x1="174.80" y1="257.30" x2="266.30" y2="257.30" stroke="#231f20" stroke-width="1.2" />
<line x1="172.30" y1="253.30" x2="175.30" y2="253.30" stroke="#231f20" stroke-width="0.9" />
<text x="169.70" y="255.80" font-size="6.3" text-anchor="end" >0</text>
<line x1="172.30" y1="235.05" x2="175.30" y2="235.05" stroke="#231f20" stroke-width="0.9" />
<text x="169.70" y="237.55" font-size="6.3" text-anchor="end" >50</text>
<line x1="172.30" y1="216.80" x2="175.30" y2="216.80" stroke="#231f20" stroke-width="0.9" />
<text x="169.70" y="219.30" font-size="6.3" text-anchor="end" >100</text>
<line x1="172.30" y1="198.55" x2="175.30" y2="198.55" stroke="#231f20" stroke-width="0.9" />
<text x="169.70" y="201.05" font-size="6.3" text-anchor="end" >150</text>
<line x1="175.30" y1="257.30" x2="175.30" y2="260.30" stroke="#231f20" stroke-width="0.9" />
<text x="175.30" y="269.30" font-size="6.4" text-anchor="middle" >0.001</text>
<line x1="197.30" y1="257.30" x2="197.30" y2="260.30" stroke="#231f20" stroke-width="0.9" />
<text x="197.30" y="269.30" font-size="6.4" text-anchor="middle" >0.01</text>
<line x1="219.30" y1="257.30" x2="219.30" y2="260.30" stroke="#231f20" stroke-width="0.9" />
<text x="219.30" y="269.30" font-size="6.4" text-anchor="middle" >0.1</text>
<line x1="241.30" y1="257.30" x2="241.30" y2="260.30" stroke="#231f20" stroke-width="0.9" />
<text x="241.30" y="269.30" font-size="6.4" text-anchor="middle" >1</text>
<line x1="263.30" y1="257.30" x2="263.30" y2="260.30" stroke="#231f20" stroke-width="0.9" />
<text x="263.30" y="269.30" font-size="6.4" text-anchor="middle" >10</text>
<line x1="177.00" y1="235.50" x2="263.00" y2="235.50" stroke="#5a5a5a" stroke-width="0.9" stroke-dasharray="1 1"/>
<text x="220.30" y="190.80" font-size="8.2" text-anchor="middle" >si-BCL2A1 0.1 μM</text>
<polyline points="178.31,247.82 178.93,247.82 179.54,247.82 180.15,247.82 180.76,247.82 181.38,247.82 181.99,247.82 182.60,247.82 183.21,247.82 183.83,247.82 184.44,247.82 185.05,247.82 185.66,247.82 186.27,247.82 186.89,247.82 187.50,247.82 188.11,247.82 188.72,247.82 189.34,247.82 189.95,247.82 190.56,247.82 191.17,247.82 191.79,247.82 192.40,247.82 193.01,247.82 193.62,247.82 194.23,247.82 194.85,247.82 195.46,247.82 196.07,247.82 196.68,247.82 197.30,247.82 197.91,247.82 198.52,247.82 199.13,247.82 199.75,247.82 200.36,247.82 200.97,247.82 201.58,247.82 202.20,247.82 202.81,247.82 203.42,247.82 204.03,247.82 204.64,247.82 205.26,247.82 205.87,247.82 206.48,247.82 207.09,247.82 207.71,247.82 208.32,247.82 208.93,247.82 209.54,247.82 210.16,247.82 210.77,247.82 211.38,247.82 211.99,247.82 212.60,247.82 213.22,247.82 213.83,247.82 214.44,247.82 215.05,247.82 215.67,247.82 216.28,247.82 216.89,247.82 217.50,247.82 218.12,247.82 218.73,247.82 219.34,247.82 219.95,247.82 220.56,247.82 221.18,247.82 221.79,247.82 222.40,247.81 223.01,247.80 223.63,247.80 224.24,247.78 224.85,247.76 225.46,247.73 226.08,247.69 226.69,247.64 227.30,247.56 227.91,247.46 228.53,247.33 229.14,247.17 229.75,246.99 230.36,246.80 230.97,246.61 231.59,246.44 232.20,246.28 232.81,246.16 233.42,246.06 234.04,245.99 234.65,245.94 235.26,245.90 235.87,245.88 236.49,245.86 237.10,245.85 237.71,245.84 238.32,245.83 238.94,245.83 239.55,245.82 240.16,245.82 240.77,245.82 241.38,245.82 242.00,245.82 242.61,245.82 243.22,245.82 243.83,245.82 244.45,245.82 245.06,245.82 245.67,245.82 246.28,245.82 246.90,245.82 247.51,245.82 248.12,245.82 248.73,245.82 249.34,245.82 249.96,245.82 250.57,245.82 251.18,245.82 251.79,245.82" fill="none" stroke="#52aa3c" stroke-width="1"/>
<rect x="250.70" y="244.72" width="2.2" height="2.2" fill="#52aa3c"/>
<rect x="240.20" y="244.72" width="2.2" height="2.2" fill="#52aa3c"/>
<rect x="229.70" y="245.56" width="2.2" height="2.2" fill="#52aa3c"/>
<rect x="219.21" y="246.72" width="2.2" height="2.2" fill="#52aa3c"/>
<rect x="208.71" y="246.72" width="2.2" height="2.2" fill="#52aa3c"/>
<rect x="198.21" y="246.72" width="2.2" height="2.2" fill="#52aa3c"/>
<rect x="187.72" y="246.72" width="2.2" height="2.2" fill="#52aa3c"/>
<rect x="177.22" y="246.72" width="2.2" height="2.2" fill="#52aa3c"/>
<polyline points="178.31,248.92 178.93,248.92 179.54,248.92 180.15,248.92 180.76,248.92 181.38,248.92 181.99,248.92 182.60,248.92 183.21,248.92 183.83,248.92 184.44,248.92 185.05,248.92 185.66,248.92 186.27,248.92 186.89,248.92 187.50,248.92 188.11,248.92 188.72,248.92 189.34,248.92 189.95,248.92 190.56,248.92 191.17,248.92 191.79,248.92 192.40,248.92 193.01,248.92 193.62,248.92 194.23,248.92 194.85,248.92 195.46,248.92 196.07,248.92 196.68,248.92 197.30,248.92 197.91,248.92 198.52,248.92 199.13,248.92 199.75,248.92 200.36,248.92 200.97,248.92 201.58,248.92 202.20,248.92 202.81,248.92 203.42,248.92 204.03,248.92 204.64,248.92 205.26,248.92 205.87,248.92 206.48,248.92 207.09,248.92 207.71,248.92 208.32,248.92 208.93,248.92 209.54,248.92 210.16,248.92 210.77,248.92 211.38,248.92 211.99,248.92 212.60,248.92 213.22,248.92 213.83,248.92 214.44,248.92 215.05,248.92 215.67,248.92 216.28,248.92 216.89,248.92 217.50,248.92 218.12,248.92 218.73,248.92 219.34,248.92 219.95,248.92 220.56,248.92 221.18,248.92 221.79,248.92 222.40,248.92 223.01,248.92 223.63,248.92 224.24,248.92 224.85,248.92 225.46,248.92 226.08,248.92 226.69,248.92 227.30,248.91 227.91,248.91 228.53,248.91 229.14,248.90 229.75,248.89 230.36,248.88 230.97,248.86 231.59,248.84 232.20,248.80 232.81,248.75 233.42,248.69 234.04,248.60 234.65,248.50 235.26,248.39 235.87,248.27 236.49,248.15 237.10,248.03 237.71,247.94 238.32,247.86 238.94,247.80 239.55,247.75 240.16,247.72 240.77,247.70 241.38,247.68 242.00,247.67 242.61,247.66 243.22,247.65 243.83,247.65 244.45,247.65 245.06,247.65 245.67,247.65 246.28,247.64 246.90,247.64 247.51,247.64 248.12,247.64 248.73,247.64 249.34,247.64 249.96,247.64 250.57,247.64 251.18,247.64 251.79,247.64" fill="none" stroke="#c0102c" stroke-width="1"/>
<rect x="250.70" y="246.54" width="2.2" height="2.2" fill="#c0102c"/>
<rect x="240.20" y="246.58" width="2.2" height="2.2" fill="#c0102c"/>
<path d="M230.80 250.33V252.52M229.70 250.33h2.2M229.70 252.52h2.2" stroke="#c0102c" stroke-width="0.8" fill="none"/>
<rect x="229.70" y="250.32" width="2.2" height="2.2" fill="#c0102c"/>
<path d="M220.31 247.09V250.74M219.21 247.09h2.2M219.21 250.74h2.2" stroke="#c0102c" stroke-width="0.8" fill="none"/>
<rect x="219.21" y="247.82" width="2.2" height="2.2" fill="#c0102c"/>
<rect x="208.71" y="247.82" width="2.2" height="2.2" fill="#c0102c"/>
<rect x="198.21" y="247.82" width="2.2" height="2.2" fill="#c0102c"/>
<rect x="187.72" y="247.82" width="2.2" height="2.2" fill="#c0102c"/>
<path d="M178.32 247.10V250.75M177.22 247.10h2.2M177.22 250.75h2.2" stroke="#c0102c" stroke-width="0.8" fill="none"/>
<rect x="177.22" y="247.82" width="2.2" height="2.2" fill="#c0102c"/>
<polyline points="178.31,249.65 178.93,249.65 179.54,249.65 180.15,249.65 180.76,249.65 181.38,249.65 181.99,249.65 182.60,249.65 183.21,249.65 183.83,249.65 184.44,249.65 185.05,249.65 185.66,249.65 186.27,249.65 186.89,249.65 187.50,249.65 188.11,249.65 188.72,249.65 189.34,249.65 189.95,249.65 190.56,249.65 191.17,249.65 191.79,249.65 192.40,249.65 193.01,249.65 193.62,249.65 194.23,249.65 194.85,249.64 195.46,249.64 196.07,249.64 196.68,249.64 197.30,249.64 197.91,249.64 198.52,249.64 199.13,249.63 199.75,249.63 200.36,249.63 200.97,249.62 201.58,249.62 202.20,249.61 202.81,249.60 203.42,249.60 204.03,249.59 204.64,249.57 205.26,249.56 205.87,249.54 206.48,249.52 207.09,249.50 207.71,249.47 208.32,249.44 208.93,249.41 209.54,249.36 210.16,249.31 210.77,249.25 211.38,249.18 211.99,249.09 212.60,248.99 213.22,248.88 213.83,248.74 214.44,248.58 215.05,248.39 215.67,248.17 216.28,247.91 216.89,247.62 217.50,247.27 218.12,246.87 218.73,246.40 219.34,245.87 219.95,245.26 220.56,244.56 221.18,243.78 221.79,242.89 222.40,241.90 223.01,240.81 223.63,239.60 224.24,238.30 224.85,236.89 225.46,235.40 226.08,233.84 226.69,232.21 227.30,230.56 227.91,228.88 228.53,227.22 229.14,225.59 229.75,224.02 230.36,222.51 230.97,221.09 231.59,219.76 232.20,218.54 232.81,217.43 233.42,216.42 234.04,215.52 234.65,214.72 235.26,214.01 235.87,213.38 236.49,212.83 237.10,212.36 237.71,211.95 238.32,211.59 238.94,211.28 239.55,211.02 240.16,210.79 240.77,210.60 241.38,210.44 242.00,210.30 242.61,210.18 243.22,210.07 243.83,209.99 244.45,209.91 245.06,209.85 245.67,209.80 246.28,209.75 246.90,209.71 247.51,209.68 248.12,209.65 248.73,209.63 249.34,209.61 249.96,209.59 250.57,209.58 251.18,209.57 251.79,209.56" fill="none" stroke="#1a3582" stroke-width="1"/>
<path d="M251.80 204.81V210.65M250.70 204.81h2.2M250.70 210.65h2.2" stroke="#1a3582" stroke-width="0.8" fill="none"/>
<rect x="250.70" y="206.63" width="2.2" height="2.2" fill="#1a3582"/>
<path d="M241.30 210.82V214.47M240.20 210.82h2.2M240.20 214.47h2.2" stroke="#1a3582" stroke-width="0.8" fill="none"/>
<rect x="240.20" y="211.55" width="2.2" height="2.2" fill="#1a3582"/>
<rect x="229.70" y="220.38" width="2.2" height="2.2" fill="#1a3582"/>
<rect x="219.21" y="243.77" width="2.2" height="2.2" fill="#1a3582"/>
<path d="M209.81 248.25V251.90M208.71 248.25h2.2M208.71 251.90h2.2" stroke="#1a3582" stroke-width="0.8" fill="none"/>
<rect x="208.71" y="248.97" width="2.2" height="2.2" fill="#1a3582"/>
<path d="M199.31 247.81V251.46M198.21 247.81h2.2M198.21 251.46h2.2" stroke="#1a3582" stroke-width="0.8" fill="none"/>
<rect x="198.21" y="248.53" width="2.2" height="2.2" fill="#1a3582"/>
<rect x="187.72" y="248.55" width="2.2" height="2.2" fill="#1a3582"/>
<path d="M178.32 247.46V251.84M177.22 247.46h2.2M177.22 251.84h2.2" stroke="#1a3582" stroke-width="0.8" fill="none"/>
<rect x="177.22" y="248.55" width="2.2" height="2.2" fill="#1a3582"/>
<line x1="299.20" y1="196.00" x2="299.20" y2="257.30" stroke="#231f20" stroke-width="1.1" />
<line x1="298.70" y1="257.30" x2="390.20" y2="257.30" stroke="#231f20" stroke-width="1.2" />
<line x1="296.20" y1="253.30" x2="299.20" y2="253.30" stroke="#231f20" stroke-width="0.9" />
<text x="293.60" y="255.80" font-size="6.3" text-anchor="end" >0</text>
<line x1="296.20" y1="235.05" x2="299.20" y2="235.05" stroke="#231f20" stroke-width="0.9" />
<text x="293.60" y="237.55" font-size="6.3" text-anchor="end" >50</text>
<line x1="296.20" y1="216.80" x2="299.20" y2="216.80" stroke="#231f20" stroke-width="0.9" />
<text x="293.60" y="219.30" font-size="6.3" text-anchor="end" >100</text>
<line x1="296.20" y1="198.55" x2="299.20" y2="198.55" stroke="#231f20" stroke-width="0.9" />
<text x="293.60" y="201.05" font-size="6.3" text-anchor="end" >150</text>
<line x1="299.20" y1="257.30" x2="299.20" y2="260.30" stroke="#231f20" stroke-width="0.9" />
<text x="299.20" y="269.30" font-size="6.4" text-anchor="middle" >0.001</text>
<line x1="321.20" y1="257.30" x2="321.20" y2="260.30" stroke="#231f20" stroke-width="0.9" />
<text x="321.20" y="269.30" font-size="6.4" text-anchor="middle" >0.01</text>
<line x1="343.20" y1="257.30" x2="343.20" y2="260.30" stroke="#231f20" stroke-width="0.9" />
<text x="343.20" y="269.30" font-size="6.4" text-anchor="middle" >0.1</text>
<line x1="365.20" y1="257.30" x2="365.20" y2="260.30" stroke="#231f20" stroke-width="0.9" />
<text x="365.20" y="269.30" font-size="6.4" text-anchor="middle" >1</text>
<line x1="387.20" y1="257.30" x2="387.20" y2="260.30" stroke="#231f20" stroke-width="0.9" />
<text x="387.20" y="269.30" font-size="6.4" text-anchor="middle" >10</text>
<line x1="301.00" y1="235.50" x2="387.00" y2="235.50" stroke="#5a5a5a" stroke-width="0.9" stroke-dasharray="1 1"/>
<text x="344.20" y="190.80" font-size="8.2" text-anchor="middle" >si-BCL2A1 0.5 μM</text>
<polyline points="302.21,248.55 302.83,248.55 303.44,248.55 304.05,248.55 304.66,248.55 305.28,248.55 305.89,248.55 306.50,248.55 307.11,248.55 307.72,248.55 308.34,248.55 308.95,248.55 309.56,248.55 310.17,248.55 310.79,248.55 311.40,248.55 312.01,248.55 312.62,248.55 313.24,248.55 313.85,248.55 314.46,248.54 315.07,248.54 315.69,248.54 316.30,248.54 316.91,248.54 317.52,248.54 318.13,248.54 318.75,248.54 319.36,248.54 319.97,248.54 320.58,248.54 321.20,248.53 321.81,248.53 322.42,248.53 323.03,248.53 323.65,248.53 324.26,248.53 324.87,248.52 325.48,248.52 326.09,248.52 326.71,248.52 327.32,248.52 327.93,248.51 328.54,248.51 329.16,248.51 329.77,248.50 330.38,248.50 330.99,248.50 331.61,248.49 332.22,248.49 332.83,248.49 333.44,248.48 334.06,248.48 334.67,248.47 335.28,248.47 335.89,248.46 336.50,248.46 337.12,248.45 337.73,248.44 338.34,248.43 338.95,248.43 339.57,248.42 340.18,248.41 340.79,248.40 341.40,248.39 342.02,248.38 342.63,248.37 343.24,248.36 343.85,248.35 344.46,248.33 345.08,248.32 345.69,248.31 346.30,248.29 346.91,248.28 347.53,248.26 348.14,248.24 348.75,248.22 349.36,248.20 349.98,248.18 350.59,248.16 351.20,248.14 351.81,248.11 352.43,248.09 353.04,248.06 353.65,248.03 354.26,248.01 354.87,247.98 355.49,247.94 356.10,247.91 356.71,247.88 357.32,247.84 357.94,247.81 358.55,247.77 359.16,247.73 359.77,247.69 360.39,247.65 361.00,247.61 361.61,247.56 362.22,247.52 362.83,247.47 363.45,247.42 364.06,247.38 364.67,247.33 365.28,247.28 365.90,247.23 366.51,247.18 367.12,247.12 367.73,247.07 368.35,247.02 368.96,246.97 369.57,246.92 370.18,246.86 370.80,246.81 371.41,246.76 372.02,246.71 372.63,246.65 373.24,246.60 373.86,246.55 374.47,246.50 375.08,246.45 375.69,246.41" fill="none" stroke="#52aa3c" stroke-width="1"/>
<rect x="374.60" y="245.31" width="2.2" height="2.2" fill="#52aa3c"/>
<rect x="364.10" y="245.45" width="2.2" height="2.2" fill="#52aa3c"/>
<rect x="353.60" y="246.88" width="2.2" height="2.2" fill="#52aa3c"/>
<path d="M344.21 244.69V247.61M343.11 244.69h2.2M343.11 247.61h2.2" stroke="#52aa3c" stroke-width="0.8" fill="none"/>
<rect x="343.11" y="245.05" width="2.2" height="2.2" fill="#52aa3c"/>
<rect x="332.61" y="247.38" width="2.2" height="2.2" fill="#52aa3c"/>
<rect x="322.11" y="247.43" width="2.2" height="2.2" fill="#52aa3c"/>
<rect x="311.62" y="247.45" width="2.2" height="2.2" fill="#52aa3c"/>
<rect x="301.12" y="247.45" width="2.2" height="2.2" fill="#52aa3c"/>
<polyline points="302.21,248.37 302.83,248.37 303.44,248.37 304.05,248.37 304.66,248.37 305.28,248.37 305.89,248.37 306.50,248.37 307.11,248.37 307.72,248.37 308.34,248.37 308.95,248.37 309.56,248.37 310.17,248.37 310.79,248.37 311.40,248.37 312.01,248.37 312.62,248.37 313.24,248.37 313.85,248.37 314.46,248.37 315.07,248.37 315.69,248.37 316.30,248.37 316.91,248.37 317.52,248.37 318.13,248.37 318.75,248.37 319.36,248.37 319.97,248.37 320.58,248.37 321.20,248.37 321.81,248.37 322.42,248.37 323.03,248.37 323.65,248.37 324.26,248.37 324.87,248.37 325.48,248.37 326.09,248.37 326.71,248.37 327.32,248.37 327.93,248.37 328.54,248.37 329.16,248.37 329.77,248.37 330.38,248.37 330.99,248.37 331.61,248.37 332.22,248.37 332.83,248.37 333.44,248.37 334.06,248.37 334.67,248.37 335.28,248.37 335.89,248.37 336.50,248.37 337.12,248.37 337.73,248.37 338.34,248.37 338.95,248.37 339.57,248.37 340.18,248.37 340.79,248.37 341.40,248.37 342.02,248.37 342.63,248.37 343.24,248.37 343.85,248.37 344.46,248.37 345.08,248.37 345.69,248.37 346.30,248.37 346.91,248.37 347.53,248.37 348.14,248.37 348.75,248.37 349.36,248.37 349.98,248.37 350.59,248.37 351.20,248.37 351.81,248.37 352.43,248.36 353.04,248.36 353.65,248.36 354.26,248.36 354.87,248.36 355.49,248.36 356.10,248.36 356.71,248.36 357.32,248.36 357.94,248.36 358.55,248.36 359.16,248.36 359.77,248.36 360.39,248.36 361.00,248.36 361.61,248.36 362.22,248.36 362.83,248.36 363.45,248.36 364.06,248.36 364.67,248.35 365.28,248.35 365.90,248.35 366.51,248.35 367.12,248.35 367.73,248.35 368.35,248.35 368.96,248.35 369.57,248.35 370.18,248.35 370.80,248.35 371.41,248.35 372.02,248.35 372.63,248.35 373.24,248.35 373.86,248.35 374.47,248.35 375.08,248.35 375.69,248.35" fill="none" stroke="#c0102c" stroke-width="1"/>
<path d="M375.70 243.97V248.35M374.60 243.97h2.2M374.60 248.35h2.2" stroke="#c0102c" stroke-width="0.8" fill="none"/>
<rect x="374.60" y="245.06" width="2.2" height="2.2" fill="#c0102c"/>
<path d="M365.20 244.70V254.92M364.10 244.70h2.2M364.10 254.92h2.2" stroke="#c0102c" stroke-width="0.8" fill="none"/>
<rect x="364.10" y="248.71" width="2.2" height="2.2" fill="#c0102c"/>
<rect x="353.60" y="247.26" width="2.2" height="2.2" fill="#c0102c"/>
<rect x="343.11" y="247.27" width="2.2" height="2.2" fill="#c0102c"/>
<rect x="332.61" y="247.27" width="2.2" height="2.2" fill="#c0102c"/>
<rect x="322.11" y="247.27" width="2.2" height="2.2" fill="#c0102c"/>
<rect x="311.62" y="247.27" width="2.2" height="2.2" fill="#c0102c"/>
<rect x="301.12" y="246.18" width="2.2" height="2.2" fill="#c0102c"/>
<polyline points="302.21,250.01 302.83,250.01 303.44,250.00 304.05,250.00 304.66,250.00 305.28,250.00 305.89,250.00 306.50,249.99 307.11,249.99 307.72,249.99 308.34,249.98 308.95,249.98 309.56,249.98 310.17,249.97 310.79,249.96 311.40,249.96 312.01,249.95 312.62,249.94 313.24,249.93 313.85,249.92 314.46,249.91 315.07,249.89 315.69,249.87 316.30,249.85 316.91,249.83 317.52,249.81 318.13,249.78 318.75,249.75 319.36,249.71 319.97,249.67 320.58,249.62 321.20,249.57 321.81,249.51 322.42,249.44 323.03,249.37 323.65,249.28 324.26,249.18 324.87,249.07 325.48,248.95 326.09,248.80 326.71,248.64 327.32,248.46 327.93,248.26 328.54,248.03 329.16,247.77 329.77,247.49 330.38,247.17 330.99,246.81 331.61,246.41 332.22,245.96 332.83,245.47 333.44,244.92 334.06,244.33 334.67,243.67 335.28,242.95 335.89,242.17 336.50,241.32 337.12,240.42 337.73,239.44 338.34,238.41 338.95,237.31 339.57,236.16 340.18,234.97 340.79,233.73 341.40,232.46 342.02,231.16 342.63,229.86 343.24,228.55 343.85,227.25 344.46,225.97 345.08,224.71 345.69,223.50 346.30,222.33 346.91,221.21 347.53,220.15 348.14,219.15 348.75,218.21 349.36,217.34 349.98,216.53 350.59,215.78 351.20,215.10 351.81,214.48 352.43,213.91 353.04,213.39 353.65,212.93 354.26,212.51 354.87,212.13 355.49,211.80 356.10,211.50 356.71,211.23 357.32,210.99 357.94,210.77 358.55,210.58 359.16,210.41 359.77,210.26 360.39,210.13 361.00,210.01 361.61,209.91 362.22,209.82 362.83,209.74 363.45,209.67 364.06,209.60 364.67,209.55 365.28,209.50 365.90,209.45 366.51,209.42 367.12,209.38 367.73,209.35 368.35,209.33 368.96,209.30 369.57,209.28 370.18,209.27 370.80,209.25 371.41,209.24 372.02,209.22 372.63,209.21 373.24,209.20 373.86,209.20 374.47,209.19 375.08,209.18 375.69,209.18" fill="none" stroke="#1a3582" stroke-width="1"/>
<rect x="374.60" y="203.33" width="2.2" height="2.2" fill="#1a3582"/>
<path d="M365.20 205.49V220.09M364.10 205.49h2.2M364.10 220.09h2.2" stroke="#1a3582" stroke-width="0.8" fill="none"/>
<rect x="364.10" y="211.69" width="2.2" height="2.2" fill="#1a3582"/>
<rect x="353.60" y="211.87" width="2.2" height="2.2" fill="#1a3582"/>
<path d="M344.21 225.04V227.96M343.11 225.04h2.2M343.11 227.96h2.2" stroke="#1a3582" stroke-width="0.8" fill="none"/>
<rect x="343.11" y="225.40" width="2.2" height="2.2" fill="#1a3582"/>
<rect x="332.61" y="243.57" width="2.2" height="2.2" fill="#1a3582"/>
<path d="M323.21 246.79V253.36M322.11 246.79h2.2M322.11 253.36h2.2" stroke="#1a3582" stroke-width="0.8" fill="none"/>
<rect x="322.11" y="248.97" width="2.2" height="2.2" fill="#1a3582"/>
<rect x="311.62" y="248.84" width="2.2" height="2.2" fill="#1a3582"/>
<rect x="301.12" y="248.91" width="2.2" height="2.2" fill="#1a3582"/>
<text x="394.60" y="236.85" font-size="5.4" text-anchor="start" textLength="20" lengthAdjust="spacingAndGlyphs" >SUDHL1</text>
<line x1="51.60" y1="286.30" x2="51.60" y2="347.60" stroke="#231f20" stroke-width="1.1" />
<line x1="51.10" y1="347.60" x2="142.60" y2="347.60" stroke="#231f20" stroke-width="1.2" />
<line x1="48.60" y1="343.60" x2="51.60" y2="343.60" stroke="#231f20" stroke-width="0.9" />
<text x="46.00" y="346.10" font-size="6.3" text-anchor="end" >0</text>
<line x1="48.60" y1="325.35" x2="51.60" y2="325.35" stroke="#231f20" stroke-width="0.9" />
<text x="46.00" y="327.85" font-size="6.3" text-anchor="end" >50</text>
<line x1="48.60" y1="307.10" x2="51.60" y2="307.10" stroke="#231f20" stroke-width="0.9" />
<text x="46.00" y="309.60" font-size="6.3" text-anchor="end" >100</text>
<line x1="48.60" y1="288.85" x2="51.60" y2="288.85" stroke="#231f20" stroke-width="0.9" />
<text x="46.00" y="291.35" font-size="6.3" text-anchor="end" >150</text>
<line x1="51.60" y1="347.60" x2="51.60" y2="350.60" stroke="#231f20" stroke-width="0.9" />
<text x="51.60" y="359.60" font-size="6.4" text-anchor="middle" >0.001</text>
<line x1="73.60" y1="347.60" x2="73.60" y2="350.60" stroke="#231f20" stroke-width="0.9" />
<text x="73.60" y="359.60" font-size="6.4" text-anchor="middle" >0.01</text>
<line x1="95.60" y1="347.60" x2="95.60" y2="350.60" stroke="#231f20" stroke-width="0.9" />
<text x="95.60" y="359.60" font-size="6.4" text-anchor="middle" >0.1</text>
<line x1="117.60" y1="347.60" x2="117.60" y2="350.60" stroke="#231f20" stroke-width="0.9" />
<text x="117.60" y="359.60" font-size="6.4" text-anchor="middle" >1</text>
<line x1="139.60" y1="347.60" x2="139.60" y2="350.60" stroke="#231f20" stroke-width="0.9" />
<text x="139.60" y="359.60" font-size="6.4" text-anchor="middle" >10</text>
<line x1="54.00" y1="325.50" x2="140.00" y2="325.50" stroke="#5a5a5a" stroke-width="0.9" stroke-dasharray="1 1"/>
<text x="20.00" y="316.30" font-size="9.8" text-anchor="middle" textLength="54" lengthAdjust="spacingAndGlyphs" transform="rotate(-90 20.00 316.30)" stroke="#231f20" stroke-width="0.18">Caspase activation</text>
<text x="30.10" y="316.80" font-size="9.6" text-anchor="middle" textLength="40.5" lengthAdjust="spacingAndGlyphs" transform="rotate(-90 30.10 316.80)" stroke="#231f20" stroke-width="0.18">(% of control)</text>
<polyline points="54.61,342.32 55.23,342.27 55.84,342.22 56.45,342.17 57.06,342.12 57.68,342.06 58.29,342.00 58.90,341.94 59.51,341.87 60.13,341.80 60.74,341.73 61.35,341.66 61.96,341.59 62.57,341.51 63.19,341.43 63.80,341.36 64.41,341.28 65.02,341.20 65.64,341.12 66.25,341.04 66.86,340.96 67.47,340.89 68.09,340.81 68.70,340.74 69.31,340.67 69.92,340.60 70.53,340.53 71.15,340.47 71.76,340.41 72.37,340.35 72.98,340.30 73.60,340.24 74.21,340.20 74.82,340.15 75.43,340.11 76.05,340.06 76.66,340.03 77.27,339.99 77.88,339.96 78.50,339.93 79.11,339.90 79.72,339.87 80.33,339.85 80.94,339.83 81.56,339.81 82.17,339.79 82.78,339.77 83.39,339.75 84.01,339.74 84.62,339.73 85.23,339.71 85.84,339.70 86.46,339.69 87.07,339.68 87.68,339.67 88.29,339.67 88.90,339.66 89.52,339.65 90.13,339.65 90.74,339.64 91.35,339.64 91.97,339.63 92.58,339.63 93.19,339.62 93.80,339.62 94.42,339.62 95.03,339.61 95.64,339.61 96.25,339.61 96.87,339.61 97.48,339.60 98.09,339.60 98.70,339.60 99.31,339.60 99.93,339.60 100.54,339.60 101.15,339.60 101.76,339.59 102.38,339.59 102.99,339.59 103.60,339.59 104.21,339.59 104.83,339.59 105.44,339.59 106.05,339.59 106.66,339.59 107.27,339.59 107.89,339.59 108.50,339.59 109.11,339.59 109.72,339.59 110.34,339.59 110.95,339.59 111.56,339.59 112.17,339.59 112.79,339.59 113.40,339.59 114.01,339.59 114.62,339.59 115.23,339.59 115.85,339.59 116.46,339.59 117.07,339.59 117.68,339.59 118.30,339.59 118.91,339.59 119.52,339.59 120.13,339.59 120.75,339.59 121.36,339.59 121.97,339.59 122.58,339.59 123.20,339.59 123.81,339.59 124.42,339.59 125.03,339.59 125.64,339.59 126.26,339.59 126.87,339.59 127.48,339.59 128.09,339.59" fill="none" stroke="#52aa3c" stroke-width="1"/>
<rect x="127.00" y="338.49" width="2.2" height="2.2" fill="#52aa3c"/>
<rect x="116.50" y="338.49" width="2.2" height="2.2" fill="#52aa3c"/>
<rect x="106.00" y="338.49" width="2.2" height="2.2" fill="#52aa3c"/>
<rect x="95.51" y="338.51" width="2.2" height="2.2" fill="#52aa3c"/>
<rect x="85.01" y="338.60" width="2.2" height="2.2" fill="#52aa3c"/>
<rect x="74.51" y="338.99" width="2.2" height="2.2" fill="#52aa3c"/>
<rect x="64.02" y="340.09" width="2.2" height="2.2" fill="#52aa3c"/>
<rect x="53.52" y="341.22" width="2.2" height="2.2" fill="#52aa3c"/>
<polyline points="54.61,342.68 55.23,342.68 55.84,342.68 56.45,342.68 57.06,342.68 57.68,342.68 58.29,342.68 58.90,342.68 59.51,342.68 60.13,342.68 60.74,342.68 61.35,342.68 61.96,342.68 62.57,342.68 63.19,342.68 63.80,342.67 64.41,342.67 65.02,342.67 65.64,342.67 66.25,342.67 66.86,342.67 67.47,342.66 68.09,342.66 68.70,342.66 69.31,342.66 69.92,342.65 70.53,342.65 71.15,342.64 71.76,342.64 72.37,342.64 72.98,342.63 73.60,342.62 74.21,342.62 74.82,342.61 75.43,342.60 76.05,342.60 76.66,342.59 77.27,342.58 77.88,342.57 78.50,342.55 79.11,342.54 79.72,342.53 80.33,342.51 80.94,342.50 81.56,342.48 82.17,342.46 82.78,342.44 83.39,342.41 84.01,342.39 84.62,342.36 85.23,342.33 85.84,342.30 86.46,342.26 87.07,342.22 87.68,342.18 88.29,342.14 88.90,342.09 89.52,342.04 90.13,341.98 90.74,341.93 91.35,341.87 91.97,341.80 92.58,341.73 93.19,341.66 93.80,341.59 94.42,341.51 95.03,341.43 95.64,341.34 96.25,341.25 96.87,341.16 97.48,341.07 98.09,340.98 98.70,340.88 99.31,340.79 99.93,340.69 100.54,340.60 101.15,340.50 101.76,340.40 102.38,340.31 102.99,340.22 103.60,340.13 104.21,340.04 104.83,339.95 105.44,339.87 106.05,339.79 106.66,339.72 107.27,339.64 107.89,339.57 108.50,339.51 109.11,339.45 109.72,339.39 110.34,339.33 110.95,339.28 111.56,339.23 112.17,339.19 112.79,339.15 113.40,339.11 114.01,339.07 114.62,339.04 115.23,339.01 115.85,338.98 116.46,338.95 117.07,338.93 117.68,338.91 118.30,338.89 118.91,338.87 119.52,338.85 120.13,338.84 120.75,338.82 121.36,338.81 121.97,338.80 122.58,338.79 123.20,338.78 123.81,338.77 124.42,338.76 125.03,338.75 125.64,338.74 126.26,338.74 126.87,338.73 127.48,338.73 128.09,338.72" fill="none" stroke="#c0102c" stroke-width="1"/>
<rect x="127.00" y="337.62" width="2.2" height="2.2" fill="#c0102c"/>
<rect x="116.50" y="337.81" width="2.2" height="2.2" fill="#c0102c"/>
<rect x="106.00" y="338.56" width="2.2" height="2.2" fill="#c0102c"/>
<rect x="95.51" y="340.10" width="2.2" height="2.2" fill="#c0102c"/>
<rect x="85.01" y="341.18" width="2.2" height="2.2" fill="#c0102c"/>
<rect x="74.51" y="341.50" width="2.2" height="2.2" fill="#c0102c"/>
<rect x="64.02" y="341.57" width="2.2" height="2.2" fill="#c0102c"/>
<rect x="53.52" y="341.58" width="2.2" height="2.2" fill="#c0102c"/>
<polyline points="54.61,343.78 55.23,343.78 55.84,343.78 56.45,343.78 57.06,343.78 57.68,343.78 58.29,343.78 58.90,343.78 59.51,343.78 60.13,343.78 60.74,343.78 61.35,343.78 61.96,343.78 62.57,343.78 63.19,343.78 63.80,343.78 64.41,343.78 65.02,343.78 65.64,343.78 66.25,343.78 66.86,343.78 67.47,343.78 68.09,343.78 68.70,343.78 69.31,343.78 69.92,343.78 70.53,343.78 71.15,343.78 71.76,343.78 72.37,343.78 72.98,343.78 73.60,343.78 74.21,343.78 74.82,343.78 75.43,343.78 76.05,343.78 76.66,343.78 77.27,343.78 77.88,343.78 78.50,343.78 79.11,343.78 79.72,343.77 80.33,343.77 80.94,343.77 81.56,343.77 82.17,343.76 82.78,343.76 83.39,343.76 84.01,343.75 84.62,343.74 85.23,343.73 85.84,343.72 86.46,343.71 87.07,343.70 87.68,343.68 88.29,343.66 88.90,343.63 89.52,343.60 90.13,343.56 90.74,343.52 91.35,343.46 91.97,343.40 92.58,343.32 93.19,343.23 93.80,343.12 94.42,342.99 95.03,342.84 95.64,342.66 96.25,342.46 96.87,342.23 97.48,341.97 98.09,341.68 98.70,341.36 99.31,341.01 99.93,340.63 100.54,340.23 101.15,339.82 101.76,339.40 102.38,338.98 102.99,338.57 103.60,338.17 104.21,337.79 104.83,337.44 105.44,337.12 106.05,336.83 106.66,336.57 107.27,336.34 107.89,336.14 108.50,335.96 109.11,335.81 109.72,335.69 110.34,335.58 110.95,335.49 111.56,335.41 112.17,335.34 112.79,335.29 113.40,335.24 114.01,335.21 114.62,335.17 115.23,335.15 115.85,335.13 116.46,335.11 117.07,335.09 117.68,335.08 118.30,335.07 118.91,335.06 119.52,335.06 120.13,335.05 120.75,335.05 121.36,335.04 121.97,335.04 122.58,335.04 123.20,335.03 123.81,335.03 124.42,335.03 125.03,335.03 125.64,335.03 126.26,335.03 126.87,335.03 127.48,335.03 128.09,335.02" fill="none" stroke="#1a3582" stroke-width="1"/>
<path d="M128.10 332.47V337.58M127.00 332.47h2.2M127.00 337.58h2.2" stroke="#1a3582" stroke-width="0.8" fill="none"/>
<rect x="127.00" y="333.92" width="2.2" height="2.2" fill="#1a3582"/>
<path d="M117.60 333.26V336.91M116.50 333.26h2.2M116.50 336.91h2.2" stroke="#1a3582" stroke-width="0.8" fill="none"/>
<rect x="116.50" y="333.98" width="2.2" height="2.2" fill="#1a3582"/>
<path d="M107.10 333.85V338.96M106.00 333.85h2.2M106.00 338.96h2.2" stroke="#1a3582" stroke-width="0.8" fill="none"/>
<rect x="106.00" y="335.30" width="2.2" height="2.2" fill="#1a3582"/>
<path d="M96.61 339.41V342.33M95.51 339.41h2.2M95.51 342.33h2.2" stroke="#1a3582" stroke-width="0.8" fill="none"/>
<rect x="95.51" y="339.77" width="2.2" height="2.2" fill="#1a3582"/>
<rect x="85.01" y="342.62" width="2.2" height="2.2" fill="#1a3582"/>
<rect x="74.51" y="342.68" width="2.2" height="2.2" fill="#1a3582"/>
<rect x="64.02" y="343.05" width="2.2" height="2.2" fill="#1a3582"/>
<rect x="53.52" y="342.68" width="2.2" height="2.2" fill="#1a3582"/>
<line x1="175.30" y1="286.30" x2="175.30" y2="347.60" stroke="#231f20" stroke-width="1.1" />
<line x1="174.80" y1="347.60" x2="266.30" y2="347.60" stroke="#231f20" stroke-width="1.2" />
<line x1="172.30" y1="343.60" x2="175.30" y2="343.60" stroke="#231f20" stroke-width="0.9" />
<text x="169.70" y="346.10" font-size="6.3" text-anchor="end" >0</text>
<line x1="172.30" y1="325.35" x2="175.30" y2="325.35" stroke="#231f20" stroke-width="0.9" />
<text x="169.70" y="327.85" font-size="6.3" text-anchor="end" >50</text>
<line x1="172.30" y1="307.10" x2="175.30" y2="307.10" stroke="#231f20" stroke-width="0.9" />
<text x="169.70" y="309.60" font-size="6.3" text-anchor="end" >100</text>
<line x1="172.30" y1="288.85" x2="175.30" y2="288.85" stroke="#231f20" stroke-width="0.9" />
<text x="169.70" y="291.35" font-size="6.3" text-anchor="end" >150</text>
<line x1="175.30" y1="347.60" x2="175.30" y2="350.60" stroke="#231f20" stroke-width="0.9" />
<text x="175.30" y="359.60" font-size="6.4" text-anchor="middle" >0.001</text>
<line x1="197.30" y1="347.60" x2="197.30" y2="350.60" stroke="#231f20" stroke-width="0.9" />
<text x="197.30" y="359.60" font-size="6.4" text-anchor="middle" >0.01</text>
<line x1="219.30" y1="347.60" x2="219.30" y2="350.60" stroke="#231f20" stroke-width="0.9" />
<text x="219.30" y="359.60" font-size="6.4" text-anchor="middle" >0.1</text>
<line x1="241.30" y1="347.60" x2="241.30" y2="350.60" stroke="#231f20" stroke-width="0.9" />
<text x="241.30" y="359.60" font-size="6.4" text-anchor="middle" >1</text>
<line x1="263.30" y1="347.60" x2="263.30" y2="350.60" stroke="#231f20" stroke-width="0.9" />
<text x="263.30" y="359.60" font-size="6.4" text-anchor="middle" >10</text>
<line x1="177.00" y1="325.50" x2="263.00" y2="325.50" stroke="#5a5a5a" stroke-width="0.9" stroke-dasharray="1 1"/>
<polyline points="178.31,342.61 178.93,342.59 179.54,342.57 180.15,342.55 180.76,342.52 181.38,342.50 181.99,342.47 182.60,342.44 183.21,342.41 183.83,342.38 184.44,342.34 185.05,342.31 185.66,342.27 186.27,342.23 186.89,342.19 187.50,342.14 188.11,342.09 188.72,342.05 189.34,341.99 189.95,341.94 190.56,341.88 191.17,341.83 191.79,341.77 192.40,341.70 193.01,341.64 193.62,341.57 194.23,341.50 194.85,341.43 195.46,341.36 196.07,341.29 196.68,341.21 197.30,341.14 197.91,341.06 198.52,340.99 199.13,340.91 199.75,340.83 200.36,340.75 200.97,340.68 201.58,340.60 202.20,340.53 202.81,340.45 203.42,340.38 204.03,340.31 204.64,340.24 205.26,340.17 205.87,340.10 206.48,340.03 207.09,339.97 207.71,339.91 208.32,339.85 208.93,339.80 209.54,339.74 210.16,339.69 210.77,339.64 211.38,339.59 211.99,339.55 212.60,339.50 213.22,339.46 213.83,339.42 214.44,339.39 215.05,339.35 215.67,339.32 216.28,339.29 216.89,339.26 217.50,339.23 218.12,339.21 218.73,339.18 219.34,339.16 219.95,339.14 220.56,339.12 221.18,339.10 221.79,339.09 222.40,339.07 223.01,339.05 223.63,339.04 224.24,339.03 224.85,339.01 225.46,339.00 226.08,338.99 226.69,338.98 227.30,338.97 227.91,338.97 228.53,338.96 229.14,338.95 229.75,338.94 230.36,338.94 230.97,338.93 231.59,338.93 232.20,338.92 232.81,338.92 233.42,338.91 234.04,338.91 234.65,338.90 235.26,338.90 235.87,338.90 236.49,338.89 237.10,338.89 237.71,338.89 238.32,338.89 238.94,338.88 239.55,338.88 240.16,338.88 240.77,338.88 241.38,338.88 242.00,338.87 242.61,338.87 243.22,338.87 243.83,338.87 244.45,338.87 245.06,338.87 245.67,338.87 246.28,338.87 246.90,338.87 247.51,338.86 248.12,338.86 248.73,338.86 249.34,338.86 249.96,338.86 250.57,338.86 251.18,338.86 251.79,338.86" fill="none" stroke="#52aa3c" stroke-width="1"/>
<rect x="250.70" y="337.76" width="2.2" height="2.2" fill="#52aa3c"/>
<rect x="240.20" y="337.78" width="2.2" height="2.2" fill="#52aa3c"/>
<rect x="229.70" y="337.83" width="2.2" height="2.2" fill="#52aa3c"/>
<rect x="219.21" y="338.03" width="2.2" height="2.2" fill="#52aa3c"/>
<rect x="208.71" y="338.62" width="2.2" height="2.2" fill="#52aa3c"/>
<rect x="198.21" y="339.79" width="2.2" height="2.2" fill="#52aa3c"/>
<rect x="187.72" y="340.94" width="2.2" height="2.2" fill="#52aa3c"/>
<rect x="177.22" y="341.51" width="2.2" height="2.2" fill="#52aa3c"/>
<polyline points="178.31,342.87 178.93,342.87 179.54,342.87 180.15,342.87 180.76,342.87 181.38,342.87 181.99,342.87 182.60,342.87 183.21,342.87 183.83,342.87 184.44,342.87 185.05,342.87 185.66,342.87 186.27,342.87 186.89,342.87 187.50,342.87 188.11,342.87 188.72,342.87 189.34,342.87 189.95,342.87 190.56,342.87 191.17,342.87 191.79,342.86 192.40,342.86 193.01,342.86 193.62,342.86 194.23,342.86 194.85,342.86 195.46,342.86 196.07,342.86 196.68,342.86 197.30,342.86 197.91,342.86 198.52,342.86 199.13,342.86 199.75,342.86 200.36,342.86 200.97,342.85 201.58,342.85 202.20,342.85 202.81,342.85 203.42,342.85 204.03,342.85 204.64,342.84 205.26,342.84 205.87,342.84 206.48,342.84 207.09,342.84 207.71,342.83 208.32,342.83 208.93,342.83 209.54,342.82 210.16,342.82 210.77,342.81 211.38,342.81 211.99,342.81 212.60,342.80 213.22,342.80 213.83,342.79 214.44,342.78 215.05,342.78 215.67,342.77 216.28,342.76 216.89,342.75 217.50,342.74 218.12,342.73 218.73,342.72 219.34,342.71 219.95,342.70 220.56,342.68 221.18,342.67 221.79,342.65 222.40,342.64 223.01,342.62 223.63,342.60 224.24,342.58 224.85,342.55 225.46,342.53 226.08,342.50 226.69,342.48 227.30,342.45 227.91,342.41 228.53,342.38 229.14,342.34 229.75,342.30 230.36,342.26 230.97,342.21 231.59,342.16 232.20,342.11 232.81,342.06 233.42,342.00 234.04,341.93 234.65,341.87 235.26,341.79 235.87,341.72 236.49,341.64 237.10,341.55 237.71,341.46 238.32,341.36 238.94,341.26 239.55,341.16 240.16,341.04 240.77,340.92 241.38,340.80 242.00,340.67 242.61,340.54 243.22,340.39 243.83,340.25 244.45,340.09 245.06,339.94 245.67,339.77 246.28,339.60 246.90,339.43 247.51,339.25 248.12,339.07 248.73,338.89 249.34,338.70 249.96,338.51 250.57,338.31 251.18,338.12 251.79,337.92" fill="none" stroke="#c0102c" stroke-width="1"/>
<rect x="250.70" y="336.82" width="2.2" height="2.2" fill="#c0102c"/>
<rect x="240.20" y="339.72" width="2.2" height="2.2" fill="#c0102c"/>
<rect x="229.70" y="341.13" width="2.2" height="2.2" fill="#c0102c"/>
<rect x="219.21" y="341.59" width="2.2" height="2.2" fill="#c0102c"/>
<rect x="208.71" y="341.72" width="2.2" height="2.2" fill="#c0102c"/>
<rect x="198.21" y="341.76" width="2.2" height="2.2" fill="#c0102c"/>
<rect x="187.72" y="341.77" width="2.2" height="2.2" fill="#c0102c"/>
<rect x="177.22" y="341.77" width="2.2" height="2.2" fill="#c0102c"/>
<polyline points="178.31,343.60 178.93,343.60 179.54,343.60 180.15,343.60 180.76,343.60 181.38,343.60 181.99,343.60 182.60,343.60 183.21,343.60 183.83,343.60 184.44,343.60 185.05,343.60 185.66,343.60 186.27,343.60 186.89,343.60 187.50,343.60 188.11,343.60 188.72,343.60 189.34,343.60 189.95,343.60 190.56,343.60 191.17,343.60 191.79,343.60 192.40,343.60 193.01,343.60 193.62,343.60 194.23,343.60 194.85,343.60 195.46,343.60 196.07,343.60 196.68,343.60 197.30,343.60 197.91,343.60 198.52,343.60 199.13,343.60 199.75,343.60 200.36,343.60 200.97,343.60 201.58,343.60 202.20,343.60 202.81,343.60 203.42,343.59 204.03,343.59 204.64,343.59 205.26,343.59 205.87,343.59 206.48,343.59 207.09,343.58 207.71,343.58 208.32,343.58 208.93,343.57 209.54,343.56 210.16,343.56 210.77,343.55 211.38,343.54 211.99,343.52 212.60,343.50 213.22,343.48 213.83,343.46 214.44,343.43 215.05,343.40 215.67,343.35 216.28,343.30 216.89,343.24 217.50,343.17 218.12,343.08 218.73,342.97 219.34,342.84 219.95,342.69 220.56,342.51 221.18,342.29 221.79,342.04 222.40,341.75 223.01,341.40 223.63,341.01 224.24,340.55 224.85,340.04 225.46,339.46 226.08,338.82 226.69,338.13 227.30,337.38 227.91,336.59 228.53,335.76 229.14,334.93 229.75,334.09 230.36,333.26 230.97,332.46 231.59,331.70 232.20,331.00 232.81,330.34 233.42,329.76 234.04,329.23 234.65,328.76 235.26,328.35 235.87,328.00 236.49,327.69 237.10,327.43 237.71,327.21 238.32,327.03 238.94,326.87 239.55,326.73 240.16,326.62 240.77,326.53 241.38,326.45 242.00,326.39 242.61,326.34 243.22,326.29 243.83,326.26 244.45,326.22 245.06,326.20 245.67,326.18 246.28,326.16 246.90,326.15 247.51,326.14 248.12,326.13 248.73,326.12 249.34,326.11 249.96,326.11 250.57,326.10 251.18,326.10 251.79,326.09" fill="none" stroke="#1a3582" stroke-width="1"/>
<path d="M251.80 324.27V327.92M250.70 324.27h2.2M250.70 327.92h2.2" stroke="#1a3582" stroke-width="0.8" fill="none"/>
<rect x="250.70" y="324.99" width="2.2" height="2.2" fill="#1a3582"/>
<path d="M241.30 325.00V329.38M240.20 325.00h2.2M240.20 329.38h2.2" stroke="#1a3582" stroke-width="0.8" fill="none"/>
<rect x="240.20" y="326.09" width="2.2" height="2.2" fill="#1a3582"/>
<path d="M230.80 332.32V336.70M229.70 332.32h2.2M229.70 336.70h2.2" stroke="#1a3582" stroke-width="0.8" fill="none"/>
<rect x="229.70" y="333.41" width="2.2" height="2.2" fill="#1a3582"/>
<rect x="219.21" y="341.49" width="2.2" height="2.2" fill="#1a3582"/>
<rect x="208.71" y="342.46" width="2.2" height="2.2" fill="#1a3582"/>
<rect x="198.21" y="342.50" width="2.2" height="2.2" fill="#1a3582"/>
<rect x="187.72" y="342.50" width="2.2" height="2.2" fill="#1a3582"/>
<rect x="177.22" y="342.50" width="2.2" height="2.2" fill="#1a3582"/>
<line x1="299.20" y1="286.30" x2="299.20" y2="347.60" stroke="#231f20" stroke-width="1.1" />
<line x1="298.70" y1="347.60" x2="390.20" y2="347.60" stroke="#231f20" stroke-width="1.2" />
<line x1="296.20" y1="343.60" x2="299.20" y2="343.60" stroke="#231f20" stroke-width="0.9" />
<text x="293.60" y="346.10" font-size="6.3" text-anchor="end" >0</text>
<line x1="296.20" y1="325.35" x2="299.20" y2="325.35" stroke="#231f20" stroke-width="0.9" />
<text x="293.60" y="327.85" font-size="6.3" text-anchor="end" >50</text>
<line x1="296.20" y1="307.10" x2="299.20" y2="307.10" stroke="#231f20" stroke-width="0.9" />
<text x="293.60" y="309.60" font-size="6.3" text-anchor="end" >100</text>
<line x1="296.20" y1="288.85" x2="299.20" y2="288.85" stroke="#231f20" stroke-width="0.9" />
<text x="293.60" y="291.35" font-size="6.3" text-anchor="end" >150</text>
<line x1="299.20" y1="347.60" x2="299.20" y2="350.60" stroke="#231f20" stroke-width="0.9" />
<text x="299.20" y="359.60" font-size="6.4" text-anchor="middle" >0.001</text>
<line x1="321.20" y1="347.60" x2="321.20" y2="350.60" stroke="#231f20" stroke-width="0.9" />
<text x="321.20" y="359.60" font-size="6.4" text-anchor="middle" >0.01</text>
<line x1="343.20" y1="347.60" x2="343.20" y2="350.60" stroke="#231f20" stroke-width="0.9" />
<text x="343.20" y="359.60" font-size="6.4" text-anchor="middle" >0.1</text>
<line x1="365.20" y1="347.60" x2="365.20" y2="350.60" stroke="#231f20" stroke-width="0.9" />
<text x="365.20" y="359.60" font-size="6.4" text-anchor="middle" >1</text>
<line x1="387.20" y1="347.60" x2="387.20" y2="350.60" stroke="#231f20" stroke-width="0.9" />
<text x="387.20" y="359.60" font-size="6.4" text-anchor="middle" >10</text>
<line x1="301.00" y1="325.50" x2="387.00" y2="325.50" stroke="#5a5a5a" stroke-width="0.9" stroke-dasharray="1 1"/>
<polyline points="302.21,342.64 302.83,342.62 303.44,342.60 304.05,342.58 304.66,342.55 305.28,342.53 305.89,342.50 306.50,342.47 307.11,342.44 307.72,342.41 308.34,342.37 308.95,342.33 309.56,342.29 310.17,342.25 310.79,342.20 311.40,342.15 312.01,342.10 312.62,342.05 313.24,341.99 313.85,341.93 314.46,341.87 315.07,341.80 315.69,341.73 316.30,341.66 316.91,341.59 317.52,341.51 318.13,341.43 318.75,341.35 319.36,341.27 319.97,341.18 320.58,341.09 321.20,341.01 321.81,340.92 322.42,340.83 323.03,340.73 323.65,340.64 324.26,340.55 324.87,340.46 325.48,340.37 326.09,340.28 326.71,340.20 327.32,340.11 327.93,340.03 328.54,339.94 329.16,339.86 329.77,339.79 330.38,339.71 330.99,339.64 331.61,339.57 332.22,339.50 332.83,339.44 333.44,339.38 334.06,339.32 334.67,339.27 335.28,339.22 335.89,339.17 336.50,339.12 337.12,339.08 337.73,339.04 338.34,339.00 338.95,338.96 339.57,338.93 340.18,338.90 340.79,338.87 341.40,338.84 342.02,338.81 342.63,338.79 343.24,338.77 343.85,338.75 344.46,338.73 345.08,338.71 345.69,338.69 346.30,338.68 346.91,338.66 347.53,338.65 348.14,338.64 348.75,338.62 349.36,338.61 349.98,338.60 350.59,338.60 351.20,338.59 351.81,338.58 352.43,338.57 353.04,338.57 353.65,338.56 354.26,338.55 354.87,338.55 355.49,338.54 356.10,338.54 356.71,338.54 357.32,338.53 357.94,338.53 358.55,338.53 359.16,338.52 359.77,338.52 360.39,338.52 361.00,338.52 361.61,338.51 362.22,338.51 362.83,338.51 363.45,338.51 364.06,338.51 364.67,338.51 365.28,338.50 365.90,338.50 366.51,338.50 367.12,338.50 367.73,338.50 368.35,338.50 368.96,338.50 369.57,338.50 370.18,338.50 370.80,338.50 371.41,338.50 372.02,338.50 372.63,338.50 373.24,338.49 373.86,338.49 374.47,338.49 375.08,338.49 375.69,338.49" fill="none" stroke="#52aa3c" stroke-width="1"/>
<rect x="374.60" y="337.39" width="2.2" height="2.2" fill="#52aa3c"/>
<rect x="364.10" y="337.40" width="2.2" height="2.2" fill="#52aa3c"/>
<rect x="353.60" y="337.45" width="2.2" height="2.2" fill="#52aa3c"/>
<rect x="343.11" y="337.63" width="2.2" height="2.2" fill="#52aa3c"/>
<rect x="332.61" y="338.25" width="2.2" height="2.2" fill="#52aa3c"/>
<rect x="322.11" y="339.61" width="2.2" height="2.2" fill="#52aa3c"/>
<rect x="311.62" y="340.94" width="2.2" height="2.2" fill="#52aa3c"/>
<rect x="301.12" y="341.54" width="2.2" height="2.2" fill="#52aa3c"/>
<polyline points="302.21,342.80 302.83,342.80 303.44,342.79 304.05,342.79 304.66,342.78 305.28,342.78 305.89,342.77 306.50,342.77 307.11,342.76 307.72,342.75 308.34,342.74 308.95,342.74 309.56,342.73 310.17,342.72 310.79,342.71 311.40,342.70 312.01,342.69 312.62,342.68 313.24,342.66 313.85,342.65 314.46,342.64 315.07,342.62 315.69,342.61 316.30,342.59 316.91,342.57 317.52,342.55 318.13,342.53 318.75,342.51 319.36,342.49 319.97,342.46 320.58,342.44 321.20,342.41 321.81,342.39 322.42,342.36 323.03,342.33 323.65,342.29 324.26,342.26 324.87,342.22 325.48,342.18 326.09,342.14 326.71,342.10 327.32,342.06 327.93,342.01 328.54,341.96 329.16,341.91 329.77,341.86 330.38,341.80 330.99,341.75 331.61,341.69 332.22,341.62 332.83,341.56 333.44,341.49 334.06,341.42 334.67,341.35 335.28,341.27 335.89,341.20 336.50,341.12 337.12,341.03 337.73,340.95 338.34,340.86 338.95,340.78 339.57,340.69 340.18,340.59 340.79,340.50 341.40,340.41 342.02,340.31 342.63,340.21 343.24,340.12 343.85,340.02 344.46,339.92 345.08,339.82 345.69,339.72 346.30,339.62 346.91,339.52 347.53,339.42 348.14,339.33 348.75,339.23 349.36,339.13 349.98,339.04 350.59,338.95 351.20,338.85 351.81,338.76 352.43,338.68 353.04,338.59 353.65,338.51 354.26,338.42 354.87,338.34 355.49,338.27 356.10,338.19 356.71,338.12 357.32,338.05 357.94,337.98 358.55,337.92 359.16,337.85 359.77,337.79 360.39,337.73 361.00,337.68 361.61,337.63 362.22,337.58 362.83,337.53 363.45,337.48 364.06,337.44 364.67,337.39 365.28,337.35 365.90,337.32 366.51,337.28 367.12,337.24 367.73,337.21 368.35,337.18 368.96,337.15 369.57,337.12 370.18,337.10 370.80,337.07 371.41,337.05 372.02,337.03 372.63,337.00 373.24,336.98 373.86,336.97 374.47,336.95 375.08,336.93 375.69,336.91" fill="none" stroke="#c0102c" stroke-width="1"/>
<path d="M375.70 335.45V338.37M374.60 335.45h2.2M374.60 338.37h2.2" stroke="#c0102c" stroke-width="0.8" fill="none"/>
<rect x="374.60" y="335.81" width="2.2" height="2.2" fill="#c0102c"/>
<rect x="364.10" y="336.26" width="2.2" height="2.2" fill="#c0102c"/>
<rect x="353.60" y="337.27" width="2.2" height="2.2" fill="#c0102c"/>
<rect x="343.11" y="338.86" width="2.2" height="2.2" fill="#c0102c"/>
<rect x="332.61" y="340.36" width="2.2" height="2.2" fill="#c0102c"/>
<rect x="322.11" y="341.22" width="2.2" height="2.2" fill="#c0102c"/>
<rect x="311.62" y="341.57" width="2.2" height="2.2" fill="#c0102c"/>
<rect x="301.12" y="341.70" width="2.2" height="2.2" fill="#c0102c"/>
<polyline points="302.21,343.96 302.83,343.96 303.44,343.96 304.05,343.96 304.66,343.96 305.28,343.96 305.89,343.96 306.50,343.96 307.11,343.96 307.72,343.96 308.34,343.96 308.95,343.96 309.56,343.96 310.17,343.96 310.79,343.96 311.40,343.96 312.01,343.96 312.62,343.96 313.24,343.96 313.85,343.96 314.46,343.95 315.07,343.95 315.69,343.95 316.30,343.95 316.91,343.95 317.52,343.94 318.13,343.94 318.75,343.94 319.36,343.93 319.97,343.93 320.58,343.92 321.20,343.92 321.81,343.91 322.42,343.90 323.03,343.89 323.65,343.88 324.26,343.87 324.87,343.86 325.48,343.84 326.09,343.82 326.71,343.80 327.32,343.77 327.93,343.74 328.54,343.71 329.16,343.67 329.77,343.63 330.38,343.58 330.99,343.52 331.61,343.45 332.22,343.38 332.83,343.29 333.44,343.19 334.06,343.08 334.67,342.95 335.28,342.80 335.89,342.63 336.50,342.44 337.12,342.22 337.73,341.97 338.34,341.69 338.95,341.38 339.57,341.02 340.18,340.62 340.79,340.18 341.40,339.68 342.02,339.14 342.63,338.53 343.24,337.87 343.85,337.15 344.46,336.37 345.08,335.54 345.69,334.64 346.30,333.70 346.91,332.71 347.53,331.68 348.14,330.62 348.75,329.54 349.36,328.45 349.98,327.35 350.59,326.27 351.20,325.21 351.81,324.18 352.43,323.19 353.04,322.25 353.65,321.36 354.26,320.52 354.87,319.74 355.49,319.02 356.10,318.36 356.71,317.76 357.32,317.21 357.94,316.72 358.55,316.28 359.16,315.88 359.77,315.53 360.39,315.21 361.00,314.93 361.61,314.68 362.22,314.47 362.83,314.27 363.45,314.11 364.06,313.96 364.67,313.83 365.28,313.71 365.90,313.61 366.51,313.53 367.12,313.45 367.73,313.38 368.35,313.33 368.96,313.28 369.57,313.23 370.18,313.19 370.80,313.16 371.41,313.13 372.02,313.11 372.63,313.09 373.24,313.07 373.86,313.05 374.47,313.04 375.08,313.02 375.69,313.01" fill="none" stroke="#1a3582" stroke-width="1"/>
<rect x="374.60" y="311.91" width="2.2" height="2.2" fill="#1a3582"/>
<path d="M365.20 310.08V318.84M364.10 310.08h2.2M364.10 318.84h2.2" stroke="#1a3582" stroke-width="0.8" fill="none"/>
<rect x="364.10" y="313.36" width="2.2" height="2.2" fill="#1a3582"/>
<rect x="353.60" y="318.86" width="2.2" height="2.2" fill="#1a3582"/>
<rect x="343.11" y="335.61" width="2.2" height="2.2" fill="#1a3582"/>
<rect x="332.61" y="342.04" width="2.2" height="2.2" fill="#1a3582"/>
<rect x="322.11" y="342.79" width="2.2" height="2.2" fill="#1a3582"/>
<rect x="311.62" y="342.86" width="2.2" height="2.2" fill="#1a3582"/>
<rect x="301.12" y="342.86" width="2.2" height="2.2" fill="#1a3582"/>
<text x="394.60" y="327.15" font-size="5.4" text-anchor="start" textLength="15.5" lengthAdjust="spacingAndGlyphs" >TMD8</text>
<line x1="51.60" y1="376.69" x2="51.60" y2="438.00" stroke="#231f20" stroke-width="1.1" />
<line x1="51.10" y1="438.00" x2="142.60" y2="438.00" stroke="#231f20" stroke-width="1.2" />
<line x1="48.60" y1="434.00" x2="51.60" y2="434.00" stroke="#231f20" stroke-width="0.9" />
<text x="46.00" y="436.50" font-size="6.3" text-anchor="end" >0</text>
<line x1="48.60" y1="415.75" x2="51.60" y2="415.75" stroke="#231f20" stroke-width="0.9" />
<text x="46.00" y="418.25" font-size="6.3" text-anchor="end" >50</text>
<line x1="48.60" y1="397.50" x2="51.60" y2="397.50" stroke="#231f20" stroke-width="0.9" />
<text x="46.00" y="400.00" font-size="6.3" text-anchor="end" >100</text>
<line x1="48.60" y1="379.25" x2="51.60" y2="379.25" stroke="#231f20" stroke-width="0.9" />
<text x="46.00" y="381.75" font-size="6.3" text-anchor="end" >150</text>
<line x1="51.60" y1="438.00" x2="51.60" y2="441.00" stroke="#231f20" stroke-width="0.9" />
<text x="51.60" y="450.00" font-size="6.4" text-anchor="middle" >0.001</text>
<line x1="73.60" y1="438.00" x2="73.60" y2="441.00" stroke="#231f20" stroke-width="0.9" />
<text x="73.60" y="450.00" font-size="6.4" text-anchor="middle" >0.01</text>
<line x1="95.60" y1="438.00" x2="95.60" y2="441.00" stroke="#231f20" stroke-width="0.9" />
<text x="95.60" y="450.00" font-size="6.4" text-anchor="middle" >0.1</text>
<line x1="117.60" y1="438.00" x2="117.60" y2="441.00" stroke="#231f20" stroke-width="0.9" />
<text x="117.60" y="450.00" font-size="6.4" text-anchor="middle" >1</text>
<line x1="139.60" y1="438.00" x2="139.60" y2="441.00" stroke="#231f20" stroke-width="0.9" />
<text x="139.60" y="450.00" font-size="6.4" text-anchor="middle" >10</text>
<line x1="54.00" y1="415.50" x2="140.00" y2="415.50" stroke="#5a5a5a" stroke-width="0.9" stroke-dasharray="1 1"/>
<text x="20.00" y="406.70" font-size="9.8" text-anchor="middle" textLength="54" lengthAdjust="spacingAndGlyphs" transform="rotate(-90 20.00 406.70)" stroke="#231f20" stroke-width="0.18">Caspase activation</text>
<text x="30.10" y="407.20" font-size="9.6" text-anchor="middle" textLength="40.5" lengthAdjust="spacingAndGlyphs" transform="rotate(-90 30.10 407.20)" stroke="#231f20" stroke-width="0.18">(% of control)</text>
<polyline points="54.61,433.59 55.23,433.59 55.84,433.59 56.45,433.58 57.06,433.58 57.68,433.58 58.29,433.57 58.90,433.57 59.51,433.57 60.13,433.57 60.74,433.56 61.35,433.56 61.96,433.55 62.57,433.55 63.19,433.55 63.80,433.54 64.41,433.54 65.02,433.53 65.64,433.53 66.25,433.52 66.86,433.51 67.47,433.51 68.09,433.50 68.70,433.50 69.31,433.49 69.92,433.48 70.53,433.47 71.15,433.47 71.76,433.46 72.37,433.45 72.98,433.44 73.60,433.43 74.21,433.42 74.82,433.41 75.43,433.40 76.05,433.39 76.66,433.37 77.27,433.36 77.88,433.35 78.50,433.34 79.11,433.32 79.72,433.31 80.33,433.29 80.94,433.28 81.56,433.26 82.17,433.24 82.78,433.22 83.39,433.21 84.01,433.19 84.62,433.17 85.23,433.15 85.84,433.13 86.46,433.10 87.07,433.08 87.68,433.06 88.29,433.03 88.90,433.01 89.52,432.98 90.13,432.96 90.74,432.93 91.35,432.90 91.97,432.87 92.58,432.84 93.19,432.81 93.80,432.78 94.42,432.75 95.03,432.72 95.64,432.69 96.25,432.65 96.87,432.62 97.48,432.59 98.09,432.55 98.70,432.52 99.31,432.48 99.93,432.45 100.54,432.41 101.15,432.37 101.76,432.34 102.38,432.30 102.99,432.26 103.60,432.22 104.21,432.19 104.83,432.15 105.44,432.11 106.05,432.07 106.66,432.04 107.27,432.00 107.89,431.96 108.50,431.93 109.11,431.89 109.72,431.85 110.34,431.82 110.95,431.78 111.56,431.75 112.17,431.72 112.79,431.68 113.40,431.65 114.01,431.62 114.62,431.59 115.23,431.55 115.85,431.52 116.46,431.49 117.07,431.47 117.68,431.44 118.30,431.41 118.91,431.38 119.52,431.36 120.13,431.33 120.75,431.31 121.36,431.28 121.97,431.26 122.58,431.24 123.20,431.22 123.81,431.20 124.42,431.18 125.03,431.16 125.64,431.14 126.26,431.12 126.87,431.10 127.48,431.08 128.09,431.07" fill="none" stroke="#52aa3c" stroke-width="1"/>
<rect x="127.00" y="429.97" width="2.2" height="2.2" fill="#52aa3c"/>
<rect x="116.50" y="430.34" width="2.2" height="2.2" fill="#52aa3c"/>
<rect x="106.00" y="430.91" width="2.2" height="2.2" fill="#52aa3c"/>
<rect x="95.51" y="431.54" width="2.2" height="2.2" fill="#52aa3c"/>
<rect x="85.01" y="432.02" width="2.2" height="2.2" fill="#52aa3c"/>
<rect x="74.51" y="432.29" width="2.2" height="2.2" fill="#52aa3c"/>
<rect x="64.02" y="432.43" width="2.2" height="2.2" fill="#52aa3c"/>
<rect x="53.52" y="432.49" width="2.2" height="2.2" fill="#52aa3c"/>
<polyline points="54.61,433.22 55.23,433.22 55.84,433.21 56.45,433.21 57.06,433.20 57.68,433.20 58.29,433.19 58.90,433.18 59.51,433.17 60.13,433.17 60.74,433.16 61.35,433.15 61.96,433.14 62.57,433.12 63.19,433.11 63.80,433.10 64.41,433.08 65.02,433.07 65.64,433.05 66.25,433.03 66.86,433.01 67.47,432.99 68.09,432.97 68.70,432.94 69.31,432.91 69.92,432.88 70.53,432.85 71.15,432.82 71.76,432.78 72.37,432.74 72.98,432.70 73.60,432.65 74.21,432.60 74.82,432.54 75.43,432.48 76.05,432.42 76.66,432.35 77.27,432.28 77.88,432.20 78.50,432.12 79.11,432.03 79.72,431.93 80.33,431.83 80.94,431.73 81.56,431.61 82.17,431.49 82.78,431.36 83.39,431.22 84.01,431.08 84.62,430.93 85.23,430.77 85.84,430.61 86.46,430.43 87.07,430.25 87.68,430.06 88.29,429.87 88.90,429.67 89.52,429.46 90.13,429.25 90.74,429.03 91.35,428.81 91.97,428.58 92.58,428.35 93.19,428.11 93.80,427.88 94.42,427.64 95.03,427.41 95.64,427.17 96.25,426.94 96.87,426.71 97.48,426.48 98.09,426.26 98.70,426.04 99.31,425.82 99.93,425.61 100.54,425.41 101.15,425.21 101.76,425.02 102.38,424.84 102.99,424.67 103.60,424.50 104.21,424.34 104.83,424.18 105.44,424.04 106.05,423.90 106.66,423.77 107.27,423.65 107.89,423.53 108.50,423.42 109.11,423.32 109.72,423.22 110.34,423.13 110.95,423.05 111.56,422.97 112.17,422.89 112.79,422.82 113.40,422.76 114.01,422.70 114.62,422.64 115.23,422.59 115.85,422.54 116.46,422.50 117.07,422.46 117.68,422.42 118.30,422.38 118.91,422.35 119.52,422.32 120.13,422.29 120.75,422.26 121.36,422.24 121.97,422.22 122.58,422.20 123.20,422.18 123.81,422.16 124.42,422.14 125.03,422.13 125.64,422.12 126.26,422.10 126.87,422.09 127.48,422.08 128.09,422.07" fill="none" stroke="#c0102c" stroke-width="1"/>
<rect x="127.00" y="420.97" width="2.2" height="2.2" fill="#c0102c"/>
<rect x="116.50" y="421.32" width="2.2" height="2.2" fill="#c0102c"/>
<rect x="106.00" y="424.04" width="2.2" height="2.2" fill="#c0102c"/>
<rect x="95.51" y="425.71" width="2.2" height="2.2" fill="#c0102c"/>
<path d="M86.11 428.34V430.53M85.01 428.34h2.2M85.01 430.53h2.2" stroke="#c0102c" stroke-width="0.8" fill="none"/>
<rect x="85.01" y="428.34" width="2.2" height="2.2" fill="#c0102c"/>
<rect x="74.51" y="429.91" width="2.2" height="2.2" fill="#c0102c"/>
<rect x="64.02" y="431.97" width="2.2" height="2.2" fill="#c0102c"/>
<rect x="53.52" y="432.12" width="2.2" height="2.2" fill="#c0102c"/>
<polyline points="54.61,433.98 55.23,433.97 55.84,433.97 56.45,433.97 57.06,433.97 57.68,433.96 58.29,433.96 58.90,433.96 59.51,433.95 60.13,433.95 60.74,433.94 61.35,433.94 61.96,433.93 62.57,433.93 63.19,433.92 63.80,433.91 64.41,433.90 65.02,433.89 65.64,433.88 66.25,433.87 66.86,433.86 67.47,433.85 68.09,433.84 68.70,433.82 69.31,433.80 69.92,433.79 70.53,433.77 71.15,433.74 71.76,433.72 72.37,433.69 72.98,433.67 73.60,433.64 74.21,433.60 74.82,433.57 75.43,433.53 76.05,433.48 76.66,433.44 77.27,433.38 77.88,433.33 78.50,433.27 79.11,433.20 79.72,433.13 80.33,433.05 80.94,432.97 81.56,432.88 82.17,432.78 82.78,432.67 83.39,432.56 84.01,432.43 84.62,432.30 85.23,432.15 85.84,432.00 86.46,431.83 87.07,431.66 87.68,431.46 88.29,431.26 88.90,431.04 89.52,430.81 90.13,430.57 90.74,430.31 91.35,430.03 91.97,429.75 92.58,429.44 93.19,429.12 93.80,428.79 94.42,428.45 95.03,428.09 95.64,427.72 96.25,427.33 96.87,426.94 97.48,426.54 98.09,426.13 98.70,425.71 99.31,425.29 99.93,424.87 100.54,424.44 101.15,424.02 101.76,423.59 102.38,423.17 102.99,422.76 103.60,422.35 104.21,421.95 104.83,421.56 105.44,421.18 106.05,420.82 106.66,420.46 107.27,420.12 107.89,419.79 108.50,419.48 109.11,419.18 109.72,418.90 110.34,418.63 110.95,418.37 111.56,418.13 112.17,417.90 112.79,417.69 113.40,417.49 114.01,417.31 114.62,417.13 115.23,416.97 115.85,416.82 116.46,416.68 117.07,416.55 117.68,416.42 118.30,416.31 118.91,416.21 119.52,416.11 120.13,416.02 120.75,415.94 121.36,415.87 121.97,415.80 122.58,415.73 123.20,415.67 123.81,415.62 124.42,415.57 125.03,415.52 125.64,415.48 126.26,415.44 126.87,415.41 127.48,415.37 128.09,415.34" fill="none" stroke="#1a3582" stroke-width="1"/>
<path d="M128.10 413.15V417.53M127.00 413.15h2.2M127.00 417.53h2.2" stroke="#1a3582" stroke-width="0.8" fill="none"/>
<rect x="127.00" y="414.24" width="2.2" height="2.2" fill="#1a3582"/>
<path d="M117.60 414.62V418.27M116.50 414.62h2.2M116.50 418.27h2.2" stroke="#1a3582" stroke-width="0.8" fill="none"/>
<rect x="116.50" y="415.34" width="2.2" height="2.2" fill="#1a3582"/>
<path d="M107.10 419.12V421.31M106.00 419.12h2.2M106.00 421.31h2.2" stroke="#1a3582" stroke-width="0.8" fill="none"/>
<rect x="106.00" y="419.11" width="2.2" height="2.2" fill="#1a3582"/>
<path d="M96.61 425.65V428.57M95.51 425.65h2.2M95.51 428.57h2.2" stroke="#1a3582" stroke-width="0.8" fill="none"/>
<rect x="95.51" y="426.01" width="2.2" height="2.2" fill="#1a3582"/>
<rect x="85.01" y="430.83" width="2.2" height="2.2" fill="#1a3582"/>
<rect x="74.51" y="432.41" width="2.2" height="2.2" fill="#1a3582"/>
<rect x="64.02" y="432.79" width="2.2" height="2.2" fill="#1a3582"/>
<rect x="53.52" y="432.88" width="2.2" height="2.2" fill="#1a3582"/>
<line x1="175.30" y1="376.69" x2="175.30" y2="438.00" stroke="#231f20" stroke-width="1.1" />
<line x1="174.80" y1="438.00" x2="266.30" y2="438.00" stroke="#231f20" stroke-width="1.2" />
<line x1="172.30" y1="434.00" x2="175.30" y2="434.00" stroke="#231f20" stroke-width="0.9" />
<text x="169.70" y="436.50" font-size="6.3" text-anchor="end" >0</text>
<line x1="172.30" y1="415.75" x2="175.30" y2="415.75" stroke="#231f20" stroke-width="0.9" />
<text x="169.70" y="418.25" font-size="6.3" text-anchor="end" >50</text>
<line x1="172.30" y1="397.50" x2="175.30" y2="397.50" stroke="#231f20" stroke-width="0.9" />
<text x="169.70" y="400.00" font-size="6.3" text-anchor="end" >100</text>
<line x1="172.30" y1="379.25" x2="175.30" y2="379.25" stroke="#231f20" stroke-width="0.9" />
<text x="169.70" y="381.75" font-size="6.3" text-anchor="end" >150</text>
<line x1="175.30" y1="438.00" x2="175.30" y2="441.00" stroke="#231f20" stroke-width="0.9" />
<text x="175.30" y="450.00" font-size="6.4" text-anchor="middle" >0.001</text>
<line x1="197.30" y1="438.00" x2="197.30" y2="441.00" stroke="#231f20" stroke-width="0.9" />
<text x="197.30" y="450.00" font-size="6.4" text-anchor="middle" >0.01</text>
<line x1="219.30" y1="438.00" x2="219.30" y2="441.00" stroke="#231f20" stroke-width="0.9" />
<text x="219.30" y="450.00" font-size="6.4" text-anchor="middle" >0.1</text>
<line x1="241.30" y1="438.00" x2="241.30" y2="441.00" stroke="#231f20" stroke-width="0.9" />
<text x="241.30" y="450.00" font-size="6.4" text-anchor="middle" >1</text>
<line x1="263.30" y1="438.00" x2="263.30" y2="441.00" stroke="#231f20" stroke-width="0.9" />
<text x="263.30" y="450.00" font-size="6.4" text-anchor="middle" >10</text>
<line x1="177.00" y1="415.50" x2="263.00" y2="415.50" stroke="#5a5a5a" stroke-width="0.9" stroke-dasharray="1 1"/>
<polyline points="178.31,429.44 178.93,429.44 179.54,429.44 180.15,429.44 180.76,429.44 181.38,429.44 181.99,429.44 182.60,429.44 183.21,429.44 183.83,429.44 184.44,429.44 185.05,429.44 185.66,429.44 186.27,429.44 186.89,429.44 187.50,429.44 188.11,429.44 188.72,429.44 189.34,429.44 189.95,429.44 190.56,429.44 191.17,429.44 191.79,429.44 192.40,429.44 193.01,429.44 193.62,429.44 194.23,429.44 194.85,429.44 195.46,429.44 196.07,429.44 196.68,429.44 197.30,429.44 197.91,429.44 198.52,429.44 199.13,429.44 199.75,429.44 200.36,429.44 200.97,429.44 201.58,429.44 202.20,429.44 202.81,429.44 203.42,429.44 204.03,429.44 204.64,429.44 205.26,429.44 205.87,429.44 206.48,429.44 207.09,429.44 207.71,429.44 208.32,429.44 208.93,429.44 209.54,429.44 210.16,429.44 210.77,429.44 211.38,429.44 211.99,429.44 212.60,429.44 213.22,429.44 213.83,429.44 214.44,429.44 215.05,429.44 215.67,429.44 216.28,429.44 216.89,429.43 217.50,429.43 218.12,429.43 218.73,429.43 219.34,429.43 219.95,429.43 220.56,429.43 221.18,429.43 221.79,429.43 222.40,429.43 223.01,429.43 223.63,429.43 224.24,429.43 224.85,429.43 225.46,429.43 226.08,429.43 226.69,429.43 227.30,429.43 227.91,429.43 228.53,429.43 229.14,429.43 229.75,429.43 230.36,429.43 230.97,429.43 231.59,429.43 232.20,429.43 232.81,429.43 233.42,429.43 234.04,429.43 234.65,429.43 235.26,429.42 235.87,429.42 236.49,429.42 237.10,429.42 237.71,429.42 238.32,429.42 238.94,429.42 239.55,429.42 240.16,429.42 240.77,429.42 241.38,429.42 242.00,429.42 242.61,429.42 243.22,429.42 243.83,429.42 244.45,429.42 245.06,429.42 245.67,429.42 246.28,429.41 246.90,429.41 247.51,429.41 248.12,429.41 248.73,429.41 249.34,429.41 249.96,429.41 250.57,429.41 251.18,429.41 251.79,429.41" fill="none" stroke="#52aa3c" stroke-width="1"/>
<rect x="250.70" y="428.31" width="2.2" height="2.2" fill="#52aa3c"/>
<rect x="240.20" y="428.32" width="2.2" height="2.2" fill="#52aa3c"/>
<rect x="229.70" y="428.33" width="2.2" height="2.2" fill="#52aa3c"/>
<rect x="219.21" y="428.33" width="2.2" height="2.2" fill="#52aa3c"/>
<rect x="208.71" y="428.34" width="2.2" height="2.2" fill="#52aa3c"/>
<rect x="198.21" y="428.34" width="2.2" height="2.2" fill="#52aa3c"/>
<rect x="187.72" y="428.34" width="2.2" height="2.2" fill="#52aa3c"/>
<rect x="177.22" y="428.34" width="2.2" height="2.2" fill="#52aa3c"/>
<polyline points="178.31,431.09 178.93,431.05 179.54,431.01 180.15,430.96 180.76,430.91 181.38,430.86 181.99,430.79 182.60,430.73 183.21,430.65 183.83,430.57 184.44,430.49 185.05,430.39 185.66,430.28 186.27,430.17 186.89,430.04 187.50,429.91 188.11,429.76 188.72,429.60 189.34,429.43 189.95,429.24 190.56,429.04 191.17,428.82 191.79,428.59 192.40,428.35 193.01,428.09 193.62,427.81 194.23,427.52 194.85,427.21 195.46,426.89 196.07,426.55 196.68,426.21 197.30,425.85 197.91,425.48 198.52,425.10 199.13,424.72 199.75,424.33 200.36,423.94 200.97,423.54 201.58,423.15 202.20,422.76 202.81,422.38 203.42,422.00 204.03,421.64 204.64,421.28 205.26,420.93 205.87,420.60 206.48,420.28 207.09,419.98 207.71,419.69 208.32,419.42 208.93,419.16 209.54,418.92 210.16,418.69 210.77,418.48 211.38,418.28 211.99,418.10 212.60,417.93 213.22,417.77 213.83,417.62 214.44,417.49 215.05,417.37 215.67,417.25 216.28,417.15 216.89,417.06 217.50,416.97 218.12,416.89 218.73,416.82 219.34,416.75 219.95,416.69 220.56,416.64 221.18,416.59 221.79,416.54 222.40,416.50 223.01,416.47 223.63,416.43 224.24,416.40 224.85,416.37 225.46,416.35 226.08,416.33 226.69,416.31 227.30,416.29 227.91,416.27 228.53,416.26 229.14,416.24 229.75,416.23 230.36,416.22 230.97,416.21 231.59,416.20 232.20,416.19 232.81,416.18 233.42,416.18 234.04,416.17 234.65,416.17 235.26,416.16 235.87,416.16 236.49,416.15 237.10,416.15 237.71,416.15 238.32,416.14 238.94,416.14 239.55,416.14 240.16,416.14 240.77,416.13 241.38,416.13 242.00,416.13 242.61,416.13 243.22,416.13 243.83,416.13 244.45,416.12 245.06,416.12 245.67,416.12 246.28,416.12 246.90,416.12 247.51,416.12 248.12,416.12 248.73,416.12 249.34,416.12 249.96,416.12 250.57,416.12 251.18,416.12 251.79,416.12" fill="none" stroke="#c0102c" stroke-width="1"/>
<rect x="250.70" y="415.02" width="2.2" height="2.2" fill="#c0102c"/>
<rect x="240.20" y="415.03" width="2.2" height="2.2" fill="#c0102c"/>
<rect x="229.70" y="415.11" width="2.2" height="2.2" fill="#c0102c"/>
<rect x="219.21" y="415.56" width="2.2" height="2.2" fill="#c0102c"/>
<rect x="208.71" y="417.72" width="2.2" height="2.2" fill="#c0102c"/>
<rect x="198.21" y="423.50" width="2.2" height="2.2" fill="#c0102c"/>
<rect x="187.72" y="428.47" width="2.2" height="2.2" fill="#c0102c"/>
<rect x="177.22" y="429.99" width="2.2" height="2.2" fill="#c0102c"/>
<polyline points="178.31,432.88 178.93,432.88 179.54,432.87 180.15,432.87 180.76,432.86 181.38,432.86 181.99,432.86 182.60,432.85 183.21,432.84 183.83,432.84 184.44,432.83 185.05,432.82 185.66,432.81 186.27,432.80 186.89,432.79 187.50,432.78 188.11,432.77 188.72,432.75 189.34,432.74 189.95,432.72 190.56,432.70 191.17,432.68 191.79,432.65 192.40,432.63 193.01,432.60 193.62,432.56 194.23,432.53 194.85,432.49 195.46,432.44 196.07,432.39 196.68,432.34 197.30,432.28 197.91,432.21 198.52,432.14 199.13,432.06 199.75,431.97 200.36,431.88 200.97,431.77 201.58,431.65 202.20,431.53 202.81,431.39 203.42,431.23 204.03,431.07 204.64,430.88 205.26,430.68 205.87,430.47 206.48,430.23 207.09,429.98 207.71,429.70 208.32,429.40 208.93,429.08 209.54,428.73 210.16,428.36 210.77,427.97 211.38,427.55 211.99,427.10 212.60,426.63 213.22,426.13 213.83,425.60 214.44,425.06 215.05,424.49 215.67,423.90 216.28,423.29 216.89,422.67 217.50,422.04 218.12,421.39 218.73,420.74 219.34,420.09 219.95,419.43 220.56,418.78 221.18,418.14 221.79,417.50 222.40,416.88 223.01,416.28 223.63,415.69 224.24,415.13 224.85,414.59 225.46,414.07 226.08,413.57 226.69,413.10 227.30,412.66 227.91,412.24 228.53,411.85 229.14,411.48 229.75,411.14 230.36,410.82 230.97,410.52 231.59,410.25 232.20,410.00 232.81,409.76 233.42,409.55 234.04,409.35 234.65,409.17 235.26,409.01 235.87,408.85 236.49,408.72 237.10,408.59 237.71,408.47 238.32,408.37 238.94,408.27 239.55,408.19 240.16,408.11 240.77,408.04 241.38,407.97 242.00,407.91 242.61,407.86 243.22,407.81 243.83,407.77 244.45,407.73 245.06,407.69 245.67,407.66 246.28,407.63 246.90,407.60 247.51,407.58 248.12,407.56 248.73,407.54 249.34,407.52 249.96,407.50 250.57,407.49 251.18,407.48 251.79,407.47" fill="none" stroke="#1a3582" stroke-width="1"/>
<path d="M251.80 406.01V408.93M250.70 406.01h2.2M250.70 408.93h2.2" stroke="#1a3582" stroke-width="0.8" fill="none"/>
<rect x="250.70" y="406.37" width="2.2" height="2.2" fill="#1a3582"/>
<rect x="240.20" y="405.79" width="2.2" height="2.2" fill="#1a3582"/>
<rect x="229.70" y="409.50" width="2.2" height="2.2" fill="#1a3582"/>
<rect x="219.21" y="417.96" width="2.2" height="2.2" fill="#1a3582"/>
<rect x="208.71" y="427.47" width="2.2" height="2.2" fill="#1a3582"/>
<rect x="198.21" y="430.94" width="2.2" height="2.2" fill="#1a3582"/>
<rect x="187.72" y="431.65" width="2.2" height="2.2" fill="#1a3582"/>
<rect x="177.22" y="431.78" width="2.2" height="2.2" fill="#1a3582"/>
<line x1="299.20" y1="376.69" x2="299.20" y2="438.00" stroke="#231f20" stroke-width="1.1" />
<line x1="298.70" y1="438.00" x2="390.20" y2="438.00" stroke="#231f20" stroke-width="1.2" />
<line x1="296.20" y1="434.00" x2="299.20" y2="434.00" stroke="#231f20" stroke-width="0.9" />
<text x="293.60" y="436.50" font-size="6.3" text-anchor="end" >0</text>
<line x1="296.20" y1="415.75" x2="299.20" y2="415.75" stroke="#231f20" stroke-width="0.9" />
<text x="293.60" y="418.25" font-size="6.3" text-anchor="end" >50</text>
<line x1="296.20" y1="397.50" x2="299.20" y2="397.50" stroke="#231f20" stroke-width="0.9" />
<text x="293.60" y="400.00" font-size="6.3" text-anchor="end" >100</text>
<line x1="296.20" y1="379.25" x2="299.20" y2="379.25" stroke="#231f20" stroke-width="0.9" />
<text x="293.60" y="381.75" font-size="6.3" text-anchor="end" >150</text>
<line x1="299.20" y1="438.00" x2="299.20" y2="441.00" stroke="#231f20" stroke-width="0.9" />
<text x="299.20" y="450.00" font-size="6.4" text-anchor="middle" >0.001</text>
<line x1="321.20" y1="438.00" x2="321.20" y2="441.00" stroke="#231f20" stroke-width="0.9" />
<text x="321.20" y="450.00" font-size="6.4" text-anchor="middle" >0.01</text>
<line x1="343.20" y1="438.00" x2="343.20" y2="441.00" stroke="#231f20" stroke-width="0.9" />
<text x="343.20" y="450.00" font-size="6.4" text-anchor="middle" >0.1</text>
<line x1="365.20" y1="438.00" x2="365.20" y2="441.00" stroke="#231f20" stroke-width="0.9" />
<text x="365.20" y="450.00" font-size="6.4" text-anchor="middle" >1</text>
<line x1="387.20" y1="438.00" x2="387.20" y2="441.00" stroke="#231f20" stroke-width="0.9" />
<text x="387.20" y="450.00" font-size="6.4" text-anchor="middle" >10</text>
<line x1="301.00" y1="415.50" x2="387.00" y2="415.50" stroke="#5a5a5a" stroke-width="0.9" stroke-dasharray="1 1"/>
<polyline points="302.21,433.95 302.83,433.95 303.44,433.95 304.05,433.94 304.66,433.93 305.28,433.93 305.89,433.92 306.50,433.91 307.11,433.91 307.72,433.90 308.34,433.89 308.95,433.88 309.56,433.86 310.17,433.85 310.79,433.84 311.40,433.82 312.01,433.81 312.62,433.79 313.24,433.77 313.85,433.75 314.46,433.73 315.07,433.71 315.69,433.68 316.30,433.66 316.91,433.63 317.52,433.60 318.13,433.57 318.75,433.54 319.36,433.50 319.97,433.47 320.58,433.43 321.20,433.39 321.81,433.35 322.42,433.31 323.03,433.27 323.65,433.23 324.26,433.18 324.87,433.14 325.48,433.10 326.09,433.05 326.71,433.01 327.32,432.97 327.93,432.92 328.54,432.88 329.16,432.84 329.77,432.80 330.38,432.76 330.99,432.72 331.61,432.69 332.22,432.65 332.83,432.62 333.44,432.59 334.06,432.56 334.67,432.53 335.28,432.50 335.89,432.48 336.50,432.45 337.12,432.43 337.73,432.41 338.34,432.39 338.95,432.37 339.57,432.36 340.18,432.34 340.79,432.33 341.40,432.32 342.02,432.30 342.63,432.29 343.24,432.28 343.85,432.27 344.46,432.26 345.08,432.26 345.69,432.25 346.30,432.24 346.91,432.24 347.53,432.23 348.14,432.23 348.75,432.22 349.36,432.22 349.98,432.21 350.59,432.21 351.20,432.21 351.81,432.20 352.43,432.20 353.04,432.20 353.65,432.20 354.26,432.20 354.87,432.19 355.49,432.19 356.10,432.19 356.71,432.19 357.32,432.19 357.94,432.19 358.55,432.19 359.16,432.18 359.77,432.18 360.39,432.18 361.00,432.18 361.61,432.18 362.22,432.18 362.83,432.18 363.45,432.18 364.06,432.18 364.67,432.18 365.28,432.18 365.90,432.18 366.51,432.18 367.12,432.18 367.73,432.18 368.35,432.18 368.96,432.18 369.57,432.18 370.18,432.18 370.80,432.18 371.41,432.18 372.02,432.18 372.63,432.18 373.24,432.18 373.86,432.18 374.47,432.18 375.08,432.18 375.69,432.18" fill="none" stroke="#52aa3c" stroke-width="1"/>
<rect x="374.60" y="431.08" width="2.2" height="2.2" fill="#52aa3c"/>
<rect x="364.10" y="431.08" width="2.2" height="2.2" fill="#52aa3c"/>
<rect x="353.60" y="431.09" width="2.2" height="2.2" fill="#52aa3c"/>
<rect x="343.11" y="431.17" width="2.2" height="2.2" fill="#52aa3c"/>
<rect x="332.61" y="431.47" width="2.2" height="2.2" fill="#52aa3c"/>
<rect x="322.11" y="432.16" width="2.2" height="2.2" fill="#52aa3c"/>
<rect x="311.62" y="432.69" width="2.2" height="2.2" fill="#52aa3c"/>
<rect x="301.12" y="432.85" width="2.2" height="2.2" fill="#52aa3c"/>
<polyline points="302.21,432.63 302.83,432.61 303.44,432.59 304.05,432.56 304.66,432.53 305.28,432.50 305.89,432.46 306.50,432.42 307.11,432.38 307.72,432.34 308.34,432.29 308.95,432.24 309.56,432.18 310.17,432.12 310.79,432.06 311.40,431.99 312.01,431.91 312.62,431.83 313.24,431.74 313.85,431.65 314.46,431.54 315.07,431.43 315.69,431.31 316.30,431.19 316.91,431.05 317.52,430.90 318.13,430.75 318.75,430.58 319.36,430.40 319.97,430.21 320.58,430.01 321.20,429.79 321.81,429.56 322.42,429.32 323.03,429.06 323.65,428.79 324.26,428.50 324.87,428.20 325.48,427.89 326.09,427.56 326.71,427.21 327.32,426.86 327.93,426.48 328.54,426.10 329.16,425.70 329.77,425.30 330.38,424.88 330.99,424.45 331.61,424.01 332.22,423.57 332.83,423.12 333.44,422.67 334.06,422.21 334.67,421.76 335.28,421.30 335.89,420.85 336.50,420.40 337.12,419.95 337.73,419.52 338.34,419.09 338.95,418.67 339.57,418.26 340.18,417.86 340.79,417.47 341.40,417.10 342.02,416.74 342.63,416.39 343.24,416.06 343.85,415.75 344.46,415.44 345.08,415.16 345.69,414.88 346.30,414.62 346.91,414.38 347.53,414.15 348.14,413.93 348.75,413.73 349.36,413.53 349.98,413.35 350.59,413.18 351.20,413.03 351.81,412.88 352.43,412.74 353.04,412.61 353.65,412.49 354.26,412.38 354.87,412.28 355.49,412.18 356.10,412.09 356.71,412.01 357.32,411.93 357.94,411.86 358.55,411.79 359.16,411.73 359.77,411.68 360.39,411.63 361.00,411.58 361.61,411.53 362.22,411.49 362.83,411.45 363.45,411.42 364.06,411.39 364.67,411.36 365.28,411.33 365.90,411.30 366.51,411.28 367.12,411.26 367.73,411.24 368.35,411.22 368.96,411.20 369.57,411.19 370.18,411.17 370.80,411.16 371.41,411.15 372.02,411.14 372.63,411.12 373.24,411.12 373.86,411.11 374.47,411.10 375.08,411.09 375.69,411.08" fill="none" stroke="#c0102c" stroke-width="1"/>
<rect x="374.60" y="409.98" width="2.2" height="2.2" fill="#c0102c"/>
<rect x="364.10" y="410.23" width="2.2" height="2.2" fill="#c0102c"/>
<rect x="353.60" y="411.21" width="2.2" height="2.2" fill="#c0102c"/>
<rect x="343.11" y="414.47" width="2.2" height="2.2" fill="#c0102c"/>
<rect x="332.61" y="421.37" width="2.2" height="2.2" fill="#c0102c"/>
<rect x="322.11" y="427.88" width="2.2" height="2.2" fill="#c0102c"/>
<path d="M312.72 429.26V432.18M311.62 429.26h2.2M311.62 432.18h2.2" stroke="#c0102c" stroke-width="0.8" fill="none"/>
<rect x="311.62" y="429.62" width="2.2" height="2.2" fill="#c0102c"/>
<path d="M302.22 431.54V433.73M301.12 431.54h2.2M301.12 433.73h2.2" stroke="#c0102c" stroke-width="0.8" fill="none"/>
<rect x="301.12" y="431.53" width="2.2" height="2.2" fill="#c0102c"/>
<polyline points="302.21,436.51 302.83,436.51 303.44,436.50 304.05,436.50 304.66,436.49 305.28,436.49 305.89,436.48 306.50,436.47 307.11,436.46 307.72,436.45 308.34,436.44 308.95,436.43 309.56,436.42 310.17,436.41 310.79,436.39 311.40,436.37 312.01,436.36 312.62,436.34 313.24,436.31 313.85,436.29 314.46,436.26 315.07,436.23 315.69,436.20 316.30,436.17 316.91,436.13 317.52,436.08 318.13,436.04 318.75,435.99 319.36,435.93 319.97,435.87 320.58,435.80 321.20,435.72 321.81,435.64 322.42,435.55 323.03,435.45 323.65,435.35 324.26,435.23 324.87,435.10 325.48,434.96 326.09,434.81 326.71,434.64 327.32,434.46 327.93,434.26 328.54,434.04 329.16,433.81 329.77,433.55 330.38,433.27 330.99,432.97 331.61,432.65 332.22,432.30 332.83,431.92 333.44,431.52 334.06,431.08 334.67,430.62 335.28,430.12 335.89,429.59 336.50,429.02 337.12,428.43 337.73,427.80 338.34,427.13 338.95,426.44 339.57,425.71 340.18,424.95 340.79,424.16 341.40,423.34 342.02,422.50 342.63,421.64 343.24,420.76 343.85,419.87 344.46,418.97 345.08,418.06 345.69,417.14 346.30,416.23 346.91,415.33 347.53,414.44 348.14,413.56 348.75,412.69 349.36,411.85 349.98,411.04 350.59,410.25 351.20,409.48 351.81,408.75 352.43,408.05 353.04,407.39 353.65,406.76 354.26,406.16 354.87,405.59 355.49,405.06 356.10,404.56 356.71,404.09 357.32,403.66 357.94,403.25 358.55,402.87 359.16,402.52 359.77,402.19 360.39,401.89 361.00,401.61 361.61,401.36 362.22,401.12 362.83,400.90 363.45,400.70 364.06,400.52 364.67,400.35 365.28,400.20 365.90,400.06 366.51,399.93 367.12,399.81 367.73,399.70 368.35,399.60 368.96,399.51 369.57,399.43 370.18,399.35 370.80,399.29 371.41,399.22 372.02,399.17 372.63,399.12 373.24,399.07 373.86,399.03 374.47,398.99 375.08,398.95 375.69,398.92" fill="none" stroke="#1a3582" stroke-width="1"/>
<path d="M375.70 394.17V406.58M374.60 394.17h2.2M374.60 406.58h2.2" stroke="#1a3582" stroke-width="0.8" fill="none"/>
<rect x="374.60" y="399.28" width="2.2" height="2.2" fill="#1a3582"/>
<path d="M365.20 398.39V400.58M364.10 398.39h2.2M364.10 400.58h2.2" stroke="#1a3582" stroke-width="0.8" fill="none"/>
<rect x="364.10" y="398.39" width="2.2" height="2.2" fill="#1a3582"/>
<path d="M354.70 404.29V407.21M353.60 404.29h2.2M353.60 407.21h2.2" stroke="#1a3582" stroke-width="0.8" fill="none"/>
<rect x="353.60" y="404.65" width="2.2" height="2.2" fill="#1a3582"/>
<rect x="343.11" y="418.25" width="2.2" height="2.2" fill="#1a3582"/>
<rect x="332.61" y="430.23" width="2.2" height="2.2" fill="#1a3582"/>
<rect x="322.11" y="434.32" width="2.2" height="2.2" fill="#1a3582"/>
<rect x="311.62" y="435.23" width="2.2" height="2.2" fill="#1a3582"/>
<rect x="301.12" y="435.41" width="2.2" height="2.2" fill="#1a3582"/>
<text x="394.60" y="417.55" font-size="5.4" text-anchor="start" textLength="24" lengthAdjust="spacingAndGlyphs" >OCILY10</text>
<line x1="51.60" y1="467.40" x2="51.60" y2="528.70" stroke="#231f20" stroke-width="1.1" />
<line x1="51.10" y1="528.70" x2="142.60" y2="528.70" stroke="#231f20" stroke-width="1.2" />
<line x1="48.60" y1="524.70" x2="51.60" y2="524.70" stroke="#231f20" stroke-width="0.9" />
<text x="46.00" y="527.20" font-size="6.3" text-anchor="end" >0</text>
<line x1="48.60" y1="506.45" x2="51.60" y2="506.45" stroke="#231f20" stroke-width="0.9" />
<text x="46.00" y="508.95" font-size="6.3" text-anchor="end" >50</text>
<line x1="48.60" y1="488.20" x2="51.60" y2="488.20" stroke="#231f20" stroke-width="0.9" />
<text x="46.00" y="490.70" font-size="6.3" text-anchor="end" >100</text>
<line x1="48.60" y1="469.95" x2="51.60" y2="469.95" stroke="#231f20" stroke-width="0.9" />
<text x="46.00" y="472.45" font-size="6.3" text-anchor="end" >150</text>
<line x1="51.60" y1="528.70" x2="51.60" y2="531.70" stroke="#231f20" stroke-width="0.9" />
<text x="51.60" y="540.70" font-size="6.4" text-anchor="middle" >0.001</text>
<line x1="73.60" y1="528.70" x2="73.60" y2="531.70" stroke="#231f20" stroke-width="0.9" />
<text x="73.60" y="540.70" font-size="6.4" text-anchor="middle" >0.01</text>
<line x1="95.60" y1="528.70" x2="95.60" y2="531.70" stroke="#231f20" stroke-width="0.9" />
<text x="95.60" y="540.70" font-size="6.4" text-anchor="middle" >0.1</text>
<line x1="117.60" y1="528.70" x2="117.60" y2="531.70" stroke="#231f20" stroke-width="0.9" />
<text x="117.60" y="540.70" font-size="6.4" text-anchor="middle" >1</text>
<line x1="139.60" y1="528.70" x2="139.60" y2="531.70" stroke="#231f20" stroke-width="0.9" />
<text x="139.60" y="540.70" font-size="6.4" text-anchor="middle" >10</text>
<line x1="54.00" y1="506.50" x2="140.00" y2="506.50" stroke="#5a5a5a" stroke-width="0.9" stroke-dasharray="1 1"/>
<text x="20.00" y="497.40" font-size="9.8" text-anchor="middle" textLength="54" lengthAdjust="spacingAndGlyphs" transform="rotate(-90 20.00 497.40)" stroke="#231f20" stroke-width="0.18">Caspase activation</text>
<text x="30.10" y="497.90" font-size="9.6" text-anchor="middle" textLength="40.5" lengthAdjust="spacingAndGlyphs" transform="rotate(-90 30.10 497.90)" stroke="#231f20" stroke-width="0.18">(% of control)</text>
<text x="97.30" y="552.00" font-size="9.2" text-anchor="middle" textLength="74.6" lengthAdjust="spacingAndGlyphs" stroke="#231f20" stroke-width="0.15">Drug concentration (μM)</text>
<polyline points="54.61,524.70 55.23,524.70 55.84,524.70 56.45,524.70 57.06,524.70 57.68,524.70 58.29,524.70 58.90,524.70 59.51,524.70 60.13,524.70 60.74,524.70 61.35,524.70 61.96,524.69 62.57,524.69 63.19,524.69 63.80,524.69 64.41,524.69 65.02,524.69 65.64,524.69 66.25,524.69 66.86,524.69 67.47,524.69 68.09,524.69 68.70,524.69 69.31,524.69 69.92,524.69 70.53,524.69 71.15,524.68 71.76,524.68 72.37,524.68 72.98,524.68 73.60,524.68 74.21,524.68 74.82,524.67 75.43,524.67 76.05,524.67 76.66,524.67 77.27,524.67 77.88,524.66 78.50,524.66 79.11,524.66 79.72,524.65 80.33,524.65 80.94,524.65 81.56,524.64 82.17,524.64 82.78,524.63 83.39,524.63 84.01,524.62 84.62,524.62 85.23,524.61 85.84,524.60 86.46,524.60 87.07,524.59 87.68,524.58 88.29,524.57 88.90,524.56 89.52,524.55 90.13,524.54 90.74,524.53 91.35,524.52 91.97,524.50 92.58,524.49 93.19,524.47 93.80,524.46 94.42,524.44 95.03,524.43 95.64,524.41 96.25,524.39 96.87,524.37 97.48,524.35 98.09,524.32 98.70,524.30 99.31,524.27 99.93,524.25 100.54,524.22 101.15,524.19 101.76,524.17 102.38,524.14 102.99,524.11 103.60,524.08 104.21,524.04 104.83,524.01 105.44,523.98 106.05,523.94 106.66,523.91 107.27,523.87 107.89,523.84 108.50,523.80 109.11,523.77 109.72,523.73 110.34,523.70 110.95,523.67 111.56,523.63 112.17,523.60 112.79,523.56 113.40,523.53 114.01,523.50 114.62,523.47 115.23,523.44 115.85,523.41 116.46,523.38 117.07,523.35 117.68,523.33 118.30,523.30 118.91,523.28 119.52,523.25 120.13,523.23 120.75,523.21 121.36,523.19 121.97,523.17 122.58,523.15 123.20,523.13 123.81,523.12 124.42,523.10 125.03,523.09 125.64,523.07 126.26,523.06 126.87,523.05 127.48,523.03 128.09,523.02" fill="none" stroke="#52aa3c" stroke-width="1"/>
<rect x="127.00" y="521.92" width="2.2" height="2.2" fill="#52aa3c"/>
<rect x="116.50" y="522.23" width="2.2" height="2.2" fill="#52aa3c"/>
<rect x="106.00" y="522.78" width="2.2" height="2.2" fill="#52aa3c"/>
<rect x="95.51" y="523.28" width="2.2" height="2.2" fill="#52aa3c"/>
<rect x="85.01" y="523.50" width="2.2" height="2.2" fill="#52aa3c"/>
<rect x="74.51" y="523.57" width="2.2" height="2.2" fill="#52aa3c"/>
<rect x="64.02" y="523.59" width="2.2" height="2.2" fill="#52aa3c"/>
<rect x="53.52" y="523.60" width="2.2" height="2.2" fill="#52aa3c"/>
<polyline points="54.61,524.64 55.23,524.64 55.84,524.63 56.45,524.63 57.06,524.62 57.68,524.62 58.29,524.61 58.90,524.60 59.51,524.60 60.13,524.59 60.74,524.58 61.35,524.57 61.96,524.56 62.57,524.55 63.19,524.54 63.80,524.53 64.41,524.52 65.02,524.51 65.64,524.49 66.25,524.48 66.86,524.46 67.47,524.44 68.09,524.43 68.70,524.41 69.31,524.38 69.92,524.36 70.53,524.34 71.15,524.31 71.76,524.28 72.37,524.26 72.98,524.22 73.60,524.19 74.21,524.15 74.82,524.12 75.43,524.08 76.05,524.03 76.66,523.99 77.27,523.94 77.88,523.88 78.50,523.83 79.11,523.77 79.72,523.70 80.33,523.64 80.94,523.57 81.56,523.49 82.17,523.41 82.78,523.32 83.39,523.23 84.01,523.14 84.62,523.04 85.23,522.93 85.84,522.82 86.46,522.70 87.07,522.58 87.68,522.45 88.29,522.31 88.90,522.17 89.52,522.02 90.13,521.86 90.74,521.70 91.35,521.53 91.97,521.35 92.58,521.17 93.19,520.97 93.80,520.78 94.42,520.57 95.03,520.36 95.64,520.15 96.25,519.93 96.87,519.70 97.48,519.47 98.09,519.24 98.70,519.00 99.31,518.75 99.93,518.51 100.54,518.26 101.15,518.01 101.76,517.76 102.38,517.51 102.99,517.26 103.60,517.01 104.21,516.76 104.83,516.51 105.44,516.27 106.05,516.03 106.66,515.79 107.27,515.56 107.89,515.33 108.50,515.11 109.11,514.89 109.72,514.68 110.34,514.47 110.95,514.27 111.56,514.08 112.17,513.89 112.79,513.71 113.40,513.54 114.01,513.37 114.62,513.21 115.23,513.06 115.85,512.91 116.46,512.77 117.07,512.64 117.68,512.51 118.30,512.39 118.91,512.28 119.52,512.17 120.13,512.07 120.75,511.97 121.36,511.88 121.97,511.79 122.58,511.71 123.20,511.63 123.81,511.56 124.42,511.49 125.03,511.42 125.64,511.36 126.26,511.30 126.87,511.25 127.48,511.20 128.09,511.15" fill="none" stroke="#c0102c" stroke-width="1"/>
<rect x="127.00" y="510.05" width="2.2" height="2.2" fill="#c0102c"/>
<rect x="116.50" y="511.43" width="2.2" height="2.2" fill="#c0102c"/>
<rect x="106.00" y="514.53" width="2.2" height="2.2" fill="#c0102c"/>
<rect x="95.51" y="518.70" width="2.2" height="2.2" fill="#c0102c"/>
<rect x="85.01" y="521.67" width="2.2" height="2.2" fill="#c0102c"/>
<rect x="74.51" y="522.96" width="2.2" height="2.2" fill="#c0102c"/>
<rect x="64.02" y="523.40" width="2.2" height="2.2" fill="#c0102c"/>
<rect x="53.52" y="523.54" width="2.2" height="2.2" fill="#c0102c"/>
<polyline points="54.61,525.06 55.23,525.06 55.84,525.06 56.45,525.06 57.06,525.06 57.68,525.06 58.29,525.06 58.90,525.06 59.51,525.05 60.13,525.05 60.74,525.05 61.35,525.05 61.96,525.05 62.57,525.05 63.19,525.05 63.80,525.05 64.41,525.05 65.02,525.04 65.64,525.04 66.25,525.04 66.86,525.04 67.47,525.03 68.09,525.03 68.70,525.03 69.31,525.03 69.92,525.02 70.53,525.02 71.15,525.02 71.76,525.01 72.37,525.01 72.98,525.00 73.60,525.00 74.21,524.99 74.82,524.98 75.43,524.98 76.05,524.97 76.66,524.96 77.27,524.95 77.88,524.94 78.50,524.93 79.11,524.92 79.72,524.91 80.33,524.89 80.94,524.88 81.56,524.86 82.17,524.85 82.78,524.83 83.39,524.81 84.01,524.79 84.62,524.76 85.23,524.74 85.84,524.71 86.46,524.68 87.07,524.65 87.68,524.62 88.29,524.58 88.90,524.54 89.52,524.50 90.13,524.45 90.74,524.40 91.35,524.35 91.97,524.29 92.58,524.23 93.19,524.17 93.80,524.10 94.42,524.03 95.03,523.95 95.64,523.86 96.25,523.78 96.87,523.68 97.48,523.58 98.09,523.48 98.70,523.37 99.31,523.25 99.93,523.13 100.54,523.01 101.15,522.87 101.76,522.74 102.38,522.59 102.99,522.45 103.60,522.29 104.21,522.14 104.83,521.98 105.44,521.81 106.05,521.64 106.66,521.47 107.27,521.30 107.89,521.13 108.50,520.95 109.11,520.78 109.72,520.60 110.34,520.43 110.95,520.26 111.56,520.09 112.17,519.92 112.79,519.76 113.40,519.60 114.01,519.44 114.62,519.29 115.23,519.14 115.85,519.00 116.46,518.86 117.07,518.73 117.68,518.60 118.30,518.48 118.91,518.36 119.52,518.25 120.13,518.15 120.75,518.05 121.36,517.96 121.97,517.87 122.58,517.79 123.20,517.71 123.81,517.63 124.42,517.57 125.03,517.50 125.64,517.44 126.26,517.38 126.87,517.33 127.48,517.28 128.09,517.24" fill="none" stroke="#1a3582" stroke-width="1"/>
<rect x="127.00" y="516.14" width="2.2" height="2.2" fill="#1a3582"/>
<rect x="116.50" y="517.52" width="2.2" height="2.2" fill="#1a3582"/>
<rect x="106.00" y="520.25" width="2.2" height="2.2" fill="#1a3582"/>
<rect x="95.51" y="522.62" width="2.2" height="2.2" fill="#1a3582"/>
<rect x="85.01" y="523.60" width="2.2" height="2.2" fill="#1a3582"/>
<rect x="74.51" y="523.87" width="2.2" height="2.2" fill="#1a3582"/>
<rect x="64.02" y="523.94" width="2.2" height="2.2" fill="#1a3582"/>
<rect x="53.52" y="523.96" width="2.2" height="2.2" fill="#1a3582"/>
<line x1="175.30" y1="467.40" x2="175.30" y2="528.70" stroke="#231f20" stroke-width="1.1" />
<line x1="174.80" y1="528.70" x2="266.30" y2="528.70" stroke="#231f20" stroke-width="1.2" />
<line x1="172.30" y1="524.70" x2="175.30" y2="524.70" stroke="#231f20" stroke-width="0.9" />
<text x="169.70" y="527.20" font-size="6.3" text-anchor="end" >0</text>
<line x1="172.30" y1="506.45" x2="175.30" y2="506.45" stroke="#231f20" stroke-width="0.9" />
<text x="169.70" y="508.95" font-size="6.3" text-anchor="end" >50</text>
<line x1="172.30" y1="488.20" x2="175.30" y2="488.20" stroke="#231f20" stroke-width="0.9" />
<text x="169.70" y="490.70" font-size="6.3" text-anchor="end" >100</text>
<line x1="172.30" y1="469.95" x2="175.30" y2="469.95" stroke="#231f20" stroke-width="0.9" />
<text x="169.70" y="472.45" font-size="6.3" text-anchor="end" >150</text>
<line x1="175.30" y1="528.70" x2="175.30" y2="531.70" stroke="#231f20" stroke-width="0.9" />
<text x="175.30" y="540.70" font-size="6.4" text-anchor="middle" >0.001</text>
<line x1="197.30" y1="528.70" x2="197.30" y2="531.70" stroke="#231f20" stroke-width="0.9" />
<text x="197.30" y="540.70" font-size="6.4" text-anchor="middle" >0.01</text>
<line x1="219.30" y1="528.70" x2="219.30" y2="531.70" stroke="#231f20" stroke-width="0.9" />
<text x="219.30" y="540.70" font-size="6.4" text-anchor="middle" >0.1</text>
<line x1="241.30" y1="528.70" x2="241.30" y2="531.70" stroke="#231f20" stroke-width="0.9" />
<text x="241.30" y="540.70" font-size="6.4" text-anchor="middle" >1</text>
<line x1="263.30" y1="528.70" x2="263.30" y2="531.70" stroke="#231f20" stroke-width="0.9" />
<text x="263.30" y="540.70" font-size="6.4" text-anchor="middle" >10</text>
<line x1="177.00" y1="506.50" x2="263.00" y2="506.50" stroke="#5a5a5a" stroke-width="0.9" stroke-dasharray="1 1"/>
<text x="221.00" y="552.00" font-size="9.2" text-anchor="middle" textLength="74.6" lengthAdjust="spacingAndGlyphs" stroke="#231f20" stroke-width="0.15">Drug concentration (μM)</text>
<polyline points="178.31,524.65 178.93,524.65 179.54,524.65 180.15,524.64 180.76,524.64 181.38,524.63 181.99,524.63 182.60,524.62 183.21,524.62 183.83,524.61 184.44,524.60 185.05,524.60 185.66,524.59 186.27,524.58 186.89,524.57 187.50,524.56 188.11,524.55 188.72,524.54 189.34,524.53 189.95,524.52 190.56,524.50 191.17,524.49 191.79,524.48 192.40,524.46 193.01,524.44 193.62,524.43 194.23,524.41 194.85,524.39 195.46,524.37 196.07,524.34 196.68,524.32 197.30,524.30 197.91,524.27 198.52,524.25 199.13,524.22 199.75,524.19 200.36,524.16 200.97,524.13 201.58,524.10 202.20,524.06 202.81,524.03 203.42,523.99 204.03,523.96 204.64,523.92 205.26,523.89 205.87,523.85 206.48,523.81 207.09,523.77 207.71,523.73 208.32,523.70 208.93,523.66 209.54,523.62 210.16,523.58 210.77,523.54 211.38,523.50 211.99,523.47 212.60,523.43 213.22,523.40 213.83,523.36 214.44,523.33 215.05,523.29 215.67,523.26 216.28,523.23 216.89,523.20 217.50,523.17 218.12,523.15 218.73,523.12 219.34,523.09 219.95,523.07 220.56,523.05 221.18,523.02 221.79,523.00 222.40,522.98 223.01,522.97 223.63,522.95 224.24,522.93 224.85,522.92 225.46,522.90 226.08,522.89 226.69,522.87 227.30,522.86 227.91,522.85 228.53,522.84 229.14,522.83 229.75,522.82 230.36,522.81 230.97,522.80 231.59,522.79 232.20,522.79 232.81,522.78 233.42,522.77 234.04,522.77 234.65,522.76 235.26,522.76 235.87,522.75 236.49,522.75 237.10,522.75 237.71,522.74 238.32,522.74 238.94,522.73 239.55,522.73 240.16,522.73 240.77,522.73 241.38,522.72 242.00,522.72 242.61,522.72 243.22,522.72 243.83,522.72 244.45,522.71 245.06,522.71 245.67,522.71 246.28,522.71 246.90,522.71 247.51,522.71 248.12,522.71 248.73,522.70 249.34,522.70 249.96,522.70 250.57,522.70 251.18,522.70 251.79,522.70" fill="none" stroke="#52aa3c" stroke-width="1"/>
<rect x="250.70" y="521.60" width="2.2" height="2.2" fill="#52aa3c"/>
<rect x="240.20" y="521.62" width="2.2" height="2.2" fill="#52aa3c"/>
<rect x="229.70" y="521.70" width="2.2" height="2.2" fill="#52aa3c"/>
<rect x="219.21" y="521.96" width="2.2" height="2.2" fill="#52aa3c"/>
<rect x="208.71" y="522.50" width="2.2" height="2.2" fill="#52aa3c"/>
<rect x="198.21" y="523.11" width="2.2" height="2.2" fill="#52aa3c"/>
<rect x="187.72" y="523.44" width="2.2" height="2.2" fill="#52aa3c"/>
<rect x="177.22" y="523.55" width="2.2" height="2.2" fill="#52aa3c"/>
<polyline points="178.31,524.62 178.93,524.62 179.54,524.61 180.15,524.60 180.76,524.59 181.38,524.59 181.99,524.58 182.60,524.56 183.21,524.55 183.83,524.54 184.44,524.53 185.05,524.51 185.66,524.49 186.27,524.48 186.89,524.46 187.50,524.44 188.11,524.41 188.72,524.39 189.34,524.36 189.95,524.34 190.56,524.30 191.17,524.27 191.79,524.23 192.40,524.19 193.01,524.15 193.62,524.10 194.23,524.05 194.85,524.00 195.46,523.94 196.07,523.88 196.68,523.81 197.30,523.73 197.91,523.65 198.52,523.57 199.13,523.47 199.75,523.37 200.36,523.27 200.97,523.15 201.58,523.02 202.20,522.89 202.81,522.75 203.42,522.59 204.03,522.43 204.64,522.25 205.26,522.06 205.87,521.86 206.48,521.64 207.09,521.42 207.71,521.17 208.32,520.92 208.93,520.65 209.54,520.36 210.16,520.06 210.77,519.74 211.38,519.41 211.99,519.06 212.60,518.69 213.22,518.31 213.83,517.92 214.44,517.51 215.05,517.09 215.67,516.66 216.28,516.21 216.89,515.76 217.50,515.29 218.12,514.82 218.73,514.34 219.34,513.86 219.95,513.38 220.56,512.89 221.18,512.40 221.79,511.92 222.40,511.44 223.01,510.96 223.63,510.50 224.24,510.04 224.85,509.59 225.46,509.15 226.08,508.72 226.69,508.31 227.30,507.91 227.91,507.52 228.53,507.15 229.14,506.79 229.75,506.45 230.36,506.13 230.97,505.82 231.59,505.52 232.20,505.25 232.81,504.98 233.42,504.73 234.04,504.50 234.65,504.28 235.26,504.07 235.87,503.88 236.49,503.69 237.10,503.52 237.71,503.36 238.32,503.22 238.94,503.08 239.55,502.95 240.16,502.83 240.77,502.72 241.38,502.61 242.00,502.51 242.61,502.43 243.22,502.34 243.83,502.27 244.45,502.19 245.06,502.13 245.67,502.07 246.28,502.01 246.90,501.96 247.51,501.91 248.12,501.87 248.73,501.82 249.34,501.79 249.96,501.75 250.57,501.72 251.18,501.69 251.79,501.66" fill="none" stroke="#c0102c" stroke-width="1"/>
<path d="M251.80 499.47V503.85M250.70 499.47h2.2M250.70 503.85h2.2" stroke="#c0102c" stroke-width="0.8" fill="none"/>
<rect x="250.70" y="500.56" width="2.2" height="2.2" fill="#c0102c"/>
<rect x="240.20" y="501.52" width="2.2" height="2.2" fill="#c0102c"/>
<path d="M230.80 503.71V506.63M229.70 503.71h2.2M229.70 506.63h2.2" stroke="#c0102c" stroke-width="0.8" fill="none"/>
<rect x="229.70" y="504.07" width="2.2" height="2.2" fill="#c0102c"/>
<rect x="219.21" y="511.99" width="2.2" height="2.2" fill="#c0102c"/>
<path d="M209.81 518.04V520.23M208.71 518.04h2.2M208.71 520.23h2.2" stroke="#c0102c" stroke-width="0.8" fill="none"/>
<rect x="208.71" y="518.03" width="2.2" height="2.2" fill="#c0102c"/>
<path d="M199.31 521.62V523.81M198.21 521.62h2.2M198.21 523.81h2.2" stroke="#c0102c" stroke-width="0.8" fill="none"/>
<rect x="198.21" y="521.62" width="2.2" height="2.2" fill="#c0102c"/>
<rect x="187.72" y="523.29" width="2.2" height="2.2" fill="#c0102c"/>
<rect x="177.22" y="523.52" width="2.2" height="2.2" fill="#c0102c"/>
<polyline points="178.31,525.06 178.93,525.06 179.54,525.06 180.15,525.06 180.76,525.06 181.38,525.06 181.99,525.06 182.60,525.06 183.21,525.05 183.83,525.05 184.44,525.05 185.05,525.05 185.66,525.05 186.27,525.05 186.89,525.05 187.50,525.04 188.11,525.04 188.72,525.04 189.34,525.04 189.95,525.03 190.56,525.03 191.17,525.03 191.79,525.02 192.40,525.02 193.01,525.01 193.62,525.01 194.23,525.00 194.85,525.00 195.46,524.99 196.07,524.98 196.68,524.97 197.30,524.97 197.91,524.96 198.52,524.94 199.13,524.93 199.75,524.92 200.36,524.90 200.97,524.89 201.58,524.87 202.20,524.85 202.81,524.83 203.42,524.81 204.03,524.78 204.64,524.75 205.26,524.72 205.87,524.69 206.48,524.65 207.09,524.61 207.71,524.56 208.32,524.51 208.93,524.46 209.54,524.40 210.16,524.34 210.77,524.27 211.38,524.19 211.99,524.10 212.60,524.01 213.22,523.91 213.83,523.80 214.44,523.68 215.05,523.55 215.67,523.41 216.28,523.26 216.89,523.10 217.50,522.92 218.12,522.73 218.73,522.52 219.34,522.29 219.95,522.05 220.56,521.80 221.18,521.52 221.79,521.23 222.40,520.92 223.01,520.59 223.63,520.24 224.24,519.87 224.85,519.49 225.46,519.08 226.08,518.66 226.69,518.23 227.30,517.77 227.91,517.31 228.53,516.83 229.14,516.34 229.75,515.84 230.36,515.34 230.97,514.83 231.59,514.32 232.20,513.82 232.81,513.31 233.42,512.81 234.04,512.32 234.65,511.84 235.26,511.37 235.87,510.91 236.49,510.47 237.10,510.04 237.71,509.63 238.32,509.23 238.94,508.86 239.55,508.50 240.16,508.17 240.77,507.85 241.38,507.55 242.00,507.27 242.61,507.00 243.22,506.76 243.83,506.53 244.45,506.31 245.06,506.12 245.67,505.93 246.28,505.76 246.90,505.60 247.51,505.46 248.12,505.33 248.73,505.20 249.34,505.09 249.96,504.99 250.57,504.89 251.18,504.80 251.79,504.72" fill="none" stroke="#1a3582" stroke-width="1"/>
<path d="M251.80 501.80V507.64M250.70 501.80h2.2M250.70 507.64h2.2" stroke="#1a3582" stroke-width="0.8" fill="none"/>
<rect x="250.70" y="503.62" width="2.2" height="2.2" fill="#1a3582"/>
<rect x="240.20" y="506.49" width="2.2" height="2.2" fill="#1a3582"/>
<path d="M230.80 512.79V517.17M229.70 512.79h2.2M229.70 517.17h2.2" stroke="#1a3582" stroke-width="0.8" fill="none"/>
<rect x="229.70" y="513.88" width="2.2" height="2.2" fill="#1a3582"/>
<path d="M220.31 520.81V523.00M219.21 520.81h2.2M219.21 523.00h2.2" stroke="#1a3582" stroke-width="0.8" fill="none"/>
<rect x="219.21" y="520.81" width="2.2" height="2.2" fill="#1a3582"/>
<rect x="208.71" y="523.27" width="2.2" height="2.2" fill="#1a3582"/>
<rect x="198.21" y="523.83" width="2.2" height="2.2" fill="#1a3582"/>
<rect x="187.72" y="523.94" width="2.2" height="2.2" fill="#1a3582"/>
<rect x="177.22" y="523.96" width="2.2" height="2.2" fill="#1a3582"/>
<line x1="299.20" y1="467.40" x2="299.20" y2="528.70" stroke="#231f20" stroke-width="1.1" />
<line x1="298.70" y1="528.70" x2="390.20" y2="528.70" stroke="#231f20" stroke-width="1.2" />
<line x1="296.20" y1="524.70" x2="299.20" y2="524.70" stroke="#231f20" stroke-width="0.9" />
<text x="293.60" y="527.20" font-size="6.3" text-anchor="end" >0</text>
<line x1="296.20" y1="506.45" x2="299.20" y2="506.45" stroke="#231f20" stroke-width="0.9" />
<text x="293.60" y="508.95" font-size="6.3" text-anchor="end" >50</text>
<line x1="296.20" y1="488.20" x2="299.20" y2="488.20" stroke="#231f20" stroke-width="0.9" />
<text x="293.60" y="490.70" font-size="6.3" text-anchor="end" >100</text>
<line x1="296.20" y1="469.95" x2="299.20" y2="469.95" stroke="#231f20" stroke-width="0.9" />
<text x="293.60" y="472.45" font-size="6.3" text-anchor="end" >150</text>
<line x1="299.20" y1="528.70" x2="299.20" y2="531.70" stroke="#231f20" stroke-width="0.9" />
<text x="299.20" y="540.70" font-size="6.4" text-anchor="middle" >0.001</text>
<line x1="321.20" y1="528.70" x2="321.20" y2="531.70" stroke="#231f20" stroke-width="0.9" />
<text x="321.20" y="540.70" font-size="6.4" text-anchor="middle" >0.01</text>
<line x1="343.20" y1="528.70" x2="343.20" y2="531.70" stroke="#231f20" stroke-width="0.9" />
<text x="343.20" y="540.70" font-size="6.4" text-anchor="middle" >0.1</text>
<line x1="365.20" y1="528.70" x2="365.20" y2="531.70" stroke="#231f20" stroke-width="0.9" />
<text x="365.20" y="540.70" font-size="6.4" text-anchor="middle" >1</text>
<line x1="387.20" y1="528.70" x2="387.20" y2="531.70" stroke="#231f20" stroke-width="0.9" />
<text x="387.20" y="540.70" font-size="6.4" text-anchor="middle" >10</text>
<line x1="301.00" y1="506.50" x2="387.00" y2="506.50" stroke="#5a5a5a" stroke-width="0.9" stroke-dasharray="1 1"/>
<text x="344.90" y="552.00" font-size="9.2" text-anchor="middle" textLength="74.6" lengthAdjust="spacingAndGlyphs" stroke="#231f20" stroke-width="0.15">Drug concentration (μM)</text>
<polyline points="302.21,524.61 302.83,524.60 303.44,524.59 304.05,524.59 304.66,524.58 305.28,524.57 305.89,524.56 306.50,524.55 307.11,524.54 307.72,524.52 308.34,524.51 308.95,524.49 309.56,524.48 310.17,524.46 310.79,524.44 311.40,524.43 312.01,524.41 312.62,524.38 313.24,524.36 313.85,524.34 314.46,524.31 315.07,524.28 315.69,524.25 316.30,524.22 316.91,524.19 317.52,524.15 318.13,524.11 318.75,524.07 319.36,524.03 319.97,523.99 320.58,523.94 321.20,523.89 321.81,523.84 322.42,523.79 323.03,523.74 323.65,523.68 324.26,523.62 324.87,523.56 325.48,523.49 326.09,523.43 326.71,523.36 327.32,523.29 327.93,523.22 328.54,523.15 329.16,523.07 329.77,523.00 330.38,522.92 330.99,522.84 331.61,522.77 332.22,522.69 332.83,522.61 333.44,522.54 334.06,522.46 334.67,522.38 335.28,522.31 335.89,522.24 336.50,522.16 337.12,522.09 337.73,522.02 338.34,521.95 338.95,521.89 339.57,521.82 340.18,521.76 340.79,521.70 341.40,521.65 342.02,521.59 342.63,521.54 343.24,521.49 343.85,521.44 344.46,521.39 345.08,521.35 345.69,521.31 346.30,521.27 346.91,521.23 347.53,521.20 348.14,521.16 348.75,521.13 349.36,521.10 349.98,521.07 350.59,521.05 351.20,521.02 351.81,521.00 352.43,520.98 353.04,520.96 353.65,520.94 354.26,520.92 354.87,520.90 355.49,520.89 356.10,520.88 356.71,520.86 357.32,520.85 357.94,520.84 358.55,520.83 359.16,520.82 359.77,520.81 360.39,520.80 361.00,520.79 361.61,520.78 362.22,520.78 362.83,520.77 363.45,520.76 364.06,520.76 364.67,520.75 365.28,520.75 365.90,520.74 366.51,520.74 367.12,520.73 367.73,520.73 368.35,520.73 368.96,520.72 369.57,520.72 370.18,520.72 370.80,520.72 371.41,520.71 372.02,520.71 372.63,520.71 373.24,520.71 373.86,520.71 374.47,520.70 375.08,520.70 375.69,520.70" fill="none" stroke="#52aa3c" stroke-width="1"/>
<rect x="374.60" y="519.60" width="2.2" height="2.2" fill="#52aa3c"/>
<rect x="364.10" y="519.65" width="2.2" height="2.2" fill="#52aa3c"/>
<rect x="353.60" y="519.81" width="2.2" height="2.2" fill="#52aa3c"/>
<rect x="343.11" y="520.31" width="2.2" height="2.2" fill="#52aa3c"/>
<rect x="332.61" y="521.40" width="2.2" height="2.2" fill="#52aa3c"/>
<rect x="322.11" y="522.62" width="2.2" height="2.2" fill="#52aa3c"/>
<rect x="311.62" y="523.28" width="2.2" height="2.2" fill="#52aa3c"/>
<rect x="301.12" y="523.51" width="2.2" height="2.2" fill="#52aa3c"/>
<polyline points="302.21,523.86 302.83,523.85 303.44,523.84 304.05,523.83 304.66,523.82 305.28,523.81 305.89,523.79 306.50,523.78 307.11,523.76 307.72,523.74 308.34,523.73 308.95,523.70 309.56,523.68 310.17,523.66 310.79,523.63 311.40,523.60 312.01,523.57 312.62,523.53 313.24,523.50 313.85,523.46 314.46,523.41 315.07,523.37 315.69,523.31 316.30,523.26 316.91,523.20 317.52,523.13 318.13,523.06 318.75,522.99 319.36,522.90 319.97,522.81 320.58,522.72 321.20,522.61 321.81,522.50 322.42,522.38 323.03,522.25 323.65,522.11 324.26,521.95 324.87,521.79 325.48,521.61 326.09,521.42 326.71,521.22 327.32,521.00 327.93,520.77 328.54,520.52 329.16,520.26 329.77,519.97 330.38,519.67 330.99,519.35 331.61,519.01 332.22,518.65 332.83,518.27 333.44,517.86 334.06,517.44 334.67,516.99 335.28,516.52 335.89,516.03 336.50,515.52 337.12,514.99 337.73,514.43 338.34,513.86 338.95,513.27 339.57,512.66 340.18,512.03 340.79,511.39 341.40,510.74 342.02,510.08 342.63,509.41 343.24,508.73 343.85,508.04 344.46,507.36 345.08,506.68 345.69,506.00 346.30,505.32 346.91,504.65 347.53,504.00 348.14,503.35 348.75,502.72 349.36,502.10 349.98,501.50 350.59,500.92 351.20,500.35 351.81,499.81 352.43,499.29 353.04,498.79 353.65,498.31 354.26,497.85 354.87,497.42 355.49,497.01 356.10,496.61 356.71,496.24 357.32,495.89 357.94,495.56 358.55,495.25 359.16,494.96 359.77,494.69 360.39,494.43 361.00,494.19 361.61,493.97 362.22,493.76 362.83,493.56 363.45,493.38 364.06,493.21 364.67,493.05 365.28,492.91 365.90,492.77 366.51,492.65 367.12,492.53 367.73,492.42 368.35,492.32 368.96,492.23 369.57,492.14 370.18,492.06 370.80,491.99 371.41,491.92 372.02,491.86 372.63,491.80 373.24,491.75 373.86,491.70 374.47,491.65 375.08,491.61 375.69,491.57" fill="none" stroke="#c0102c" stroke-width="1"/>
<path d="M375.70 489.75V493.40M374.60 489.75h2.2M374.60 493.40h2.2" stroke="#c0102c" stroke-width="0.8" fill="none"/>
<rect x="374.60" y="490.47" width="2.2" height="2.2" fill="#c0102c"/>
<rect x="364.10" y="489.64" width="2.2" height="2.2" fill="#c0102c"/>
<rect x="353.60" y="498.99" width="2.2" height="2.2" fill="#c0102c"/>
<path d="M344.21 505.82V509.47M343.11 505.82h2.2M343.11 509.47h2.2" stroke="#c0102c" stroke-width="0.8" fill="none"/>
<rect x="343.11" y="506.55" width="2.2" height="2.2" fill="#c0102c"/>
<rect x="332.61" y="516.58" width="2.2" height="2.2" fill="#c0102c"/>
<rect x="322.11" y="519.65" width="2.2" height="2.2" fill="#c0102c"/>
<rect x="311.62" y="522.43" width="2.2" height="2.2" fill="#c0102c"/>
<rect x="301.12" y="522.76" width="2.2" height="2.2" fill="#c0102c"/>
<polyline points="302.21,525.42 302.83,525.42 303.44,525.42 304.05,525.42 304.66,525.42 305.28,525.42 305.89,525.42 306.50,525.42 307.11,525.41 307.72,525.41 308.34,525.41 308.95,525.41 309.56,525.41 310.17,525.40 310.79,525.40 311.40,525.40 312.01,525.40 312.62,525.39 313.24,525.39 313.85,525.38 314.46,525.38 315.07,525.38 315.69,525.37 316.30,525.36 316.91,525.36 317.52,525.35 318.13,525.34 318.75,525.33 319.36,525.32 319.97,525.31 320.58,525.30 321.20,525.29 321.81,525.27 322.42,525.26 323.03,525.24 323.65,525.22 324.26,525.20 324.87,525.18 325.48,525.15 326.09,525.12 326.71,525.09 327.32,525.06 327.93,525.02 328.54,524.98 329.16,524.94 329.77,524.89 330.38,524.84 330.99,524.78 331.61,524.71 332.22,524.64 332.83,524.56 333.44,524.48 334.06,524.39 334.67,524.28 335.28,524.17 335.89,524.05 336.50,523.92 337.12,523.77 337.73,523.61 338.34,523.44 338.95,523.25 339.57,523.05 340.18,522.83 340.79,522.59 341.40,522.33 342.02,522.05 342.63,521.74 343.24,521.42 343.85,521.06 344.46,520.69 345.08,520.28 345.69,519.85 346.30,519.39 346.91,518.89 347.53,518.37 348.14,517.82 348.75,517.24 349.36,516.63 349.98,515.99 350.59,515.33 351.20,514.64 351.81,513.92 352.43,513.18 353.04,512.43 353.65,511.65 354.26,510.86 354.87,510.07 355.49,509.26 356.10,508.46 356.71,507.65 357.32,506.85 357.94,506.06 358.55,505.27 359.16,504.51 359.77,503.76 360.39,503.03 361.00,502.33 361.61,501.65 362.22,500.99 362.83,500.37 363.45,499.77 364.06,499.20 364.67,498.67 365.28,498.16 365.90,497.68 366.51,497.23 367.12,496.81 367.73,496.42 368.35,496.05 368.96,495.71 369.57,495.40 370.18,495.10 370.80,494.83 371.41,494.58 372.02,494.35 372.63,494.13 373.24,493.94 373.86,493.76 374.47,493.59 375.08,493.44 375.69,493.30" fill="none" stroke="#1a3582" stroke-width="1"/>
<path d="M375.70 490.38V496.22M374.60 490.38h2.2M374.60 496.22h2.2" stroke="#1a3582" stroke-width="0.8" fill="none"/>
<rect x="374.60" y="492.20" width="2.2" height="2.2" fill="#1a3582"/>
<rect x="364.10" y="497.13" width="2.2" height="2.2" fill="#1a3582"/>
<rect x="353.60" y="509.19" width="2.2" height="2.2" fill="#1a3582"/>
<path d="M344.21 519.02V522.67M343.11 519.02h2.2M343.11 522.67h2.2" stroke="#1a3582" stroke-width="0.8" fill="none"/>
<rect x="343.11" y="519.75" width="2.2" height="2.2" fill="#1a3582"/>
<rect x="332.61" y="523.34" width="2.2" height="2.2" fill="#1a3582"/>
<rect x="322.11" y="524.13" width="2.2" height="2.2" fill="#1a3582"/>
<rect x="311.62" y="524.29" width="2.2" height="2.2" fill="#1a3582"/>
<rect x="301.12" y="524.32" width="2.2" height="2.2" fill="#1a3582"/>
<text x="394.60" y="508.25" font-size="5.4" text-anchor="start" textLength="21" lengthAdjust="spacingAndGlyphs" >OCILY3</text>
<line x1="425.10" y1="191.90" x2="430.80" y2="191.90" stroke="#1a3582" stroke-width="0.9" />
<rect x="426.90" y="190.90" width="2" height="2" fill="#1a3582"/>
<text x="433.50" y="193.80" font-size="5.4" text-anchor="start" textLength="22.5" lengthAdjust="spacingAndGlyphs" >AZD5991</text>
<line x1="425.10" y1="200.60" x2="430.80" y2="200.60" stroke="#c0102c" stroke-width="0.9" />
<rect x="426.90" y="199.60" width="2" height="2" fill="#c0102c"/>
<text x="433.50" y="202.50" font-size="5.4" text-anchor="start" textLength="26.2" lengthAdjust="spacingAndGlyphs" >Venetoclax</text>
<line x1="425.10" y1="209.20" x2="430.80" y2="209.20" stroke="#52aa3c" stroke-width="0.9" />
<rect x="426.90" y="208.20" width="2" height="2" fill="#52aa3c"/>
<text x="433.50" y="211.10" font-size="5.4" text-anchor="start" textLength="34.6" lengthAdjust="spacingAndGlyphs" >Compound 15</text>
<rect x="0.5" y="0.5" width="519" height="561" fill="none" stroke="#000" stroke-width="1.2"/>
</svg>
</body></html>
